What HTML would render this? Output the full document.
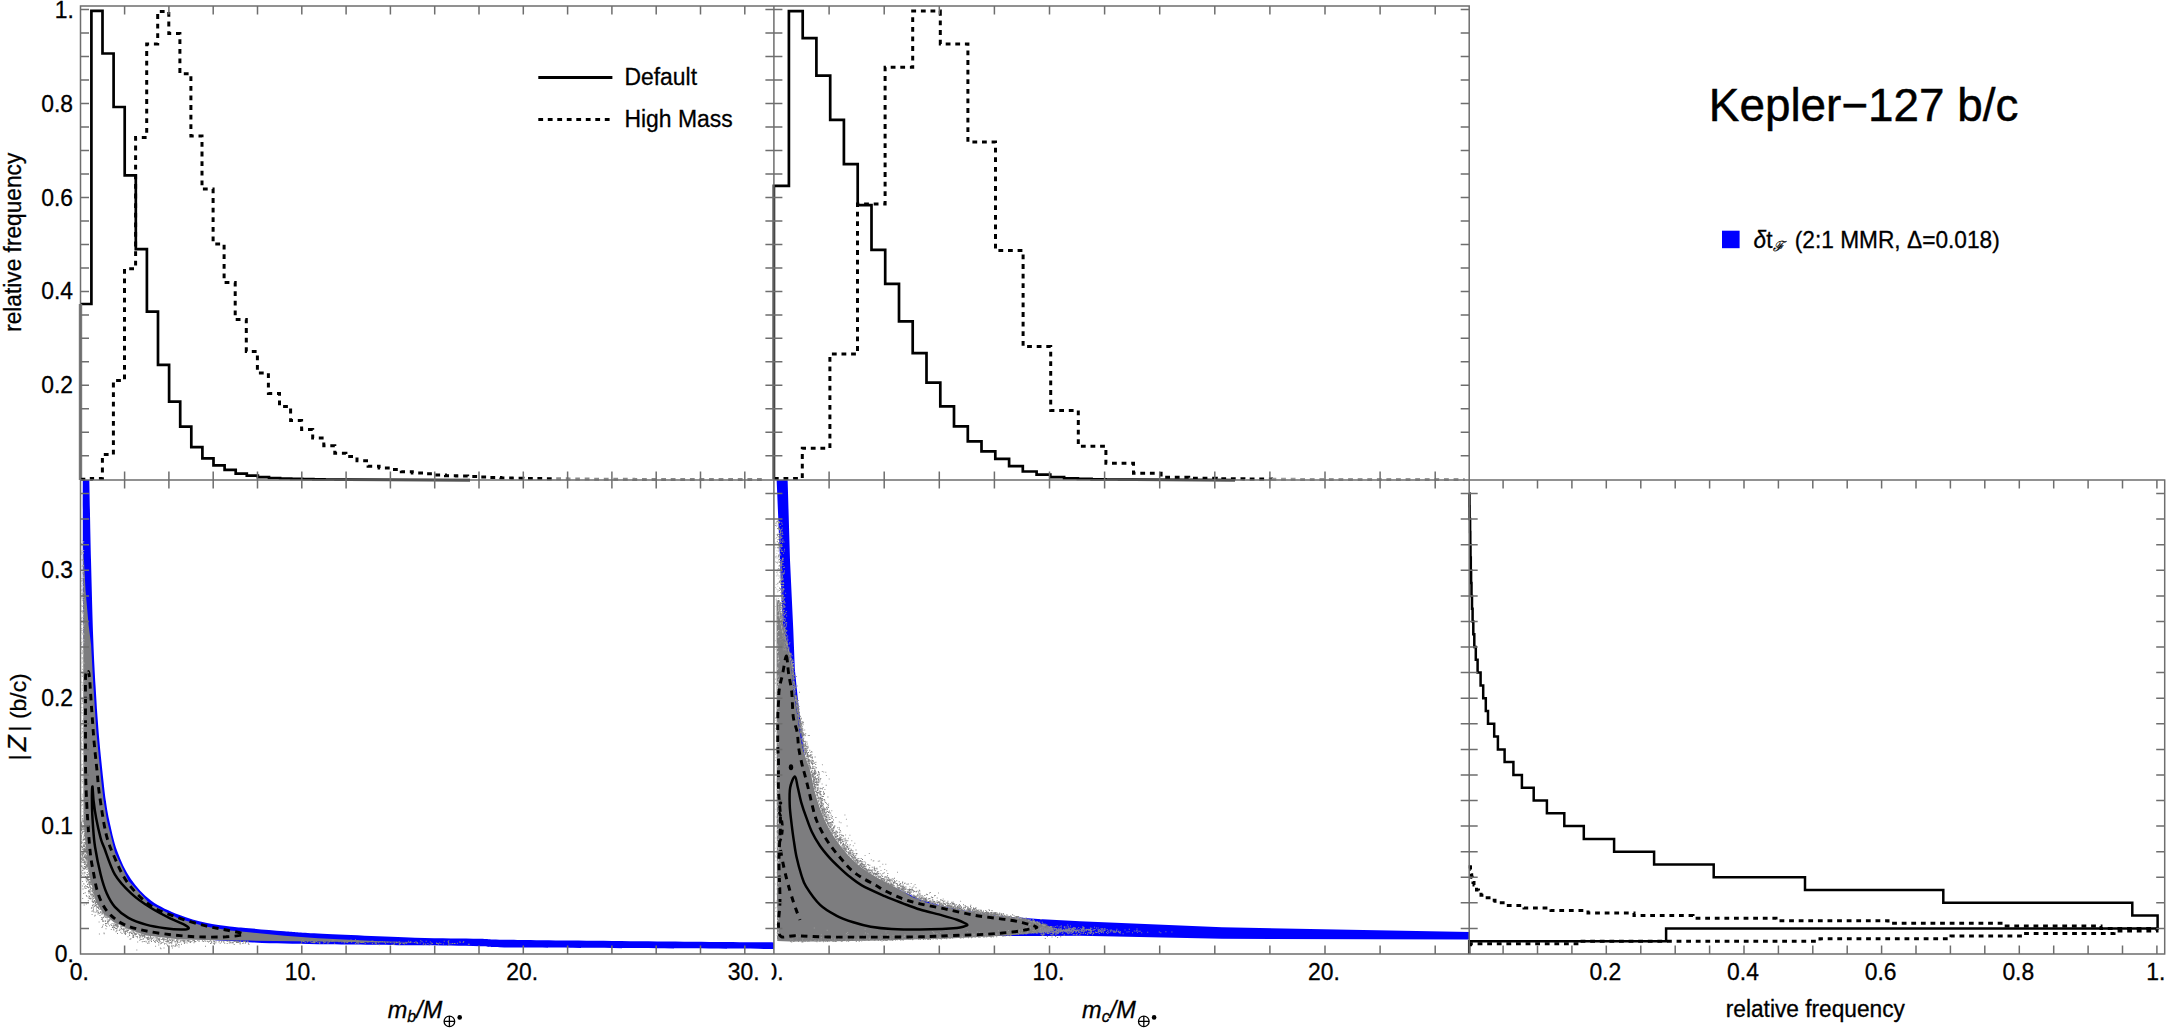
<!DOCTYPE html>
<html><head><meta charset="utf-8"><title>Kepler-127 b/c</title>
<style>html,body{margin:0;padding:0;background:#fff;}body{width:2169px;height:1031px;overflow:hidden;font-family:"Liberation Sans",sans-serif;}svg{display:block;}</style>
</head><body>
<svg width="2169" height="1031" viewBox="0 0 2169 1031" font-family="'Liberation Sans', sans-serif" fill="#000"><style>text{stroke:#000;stroke-width:0.3px}</style>
<defs>
<clipPath id="c1"><rect x="80.5" y="480.1" width="693.4" height="473.9"/></clipPath>
<clipPath id="c2"><rect x="773.9" y="480.1" width="695.3000000000001" height="473.9"/></clipPath>
<clipPath id="c0"><rect x="771.6999999999999" y="940" width="80" height="60"/></clipPath>
</defs>
<g clip-path="url(#c1)">
<path d="M89.3 479C89.6 492.5 90.3 533.2 91 560C91.7 586.8 92.5 618.9 93.3 640C94.1 661.1 94.7 671 95.6 686.5C96.5 702 97.4 717.5 98.7 733C100 748.5 102.1 768.4 103.3 779.5C104.5 790.6 104.7 793 105.7 799.8C106.7 806.5 107.3 811.4 109.2 820C111.1 828.6 113.7 841.4 117.3 851.2C120.9 861 125.2 870.8 130.9 879C136.6 887.2 143.3 894.7 151.3 900.7C159.3 906.7 169.9 911.1 179 914.8C188.1 918.5 197.3 920.8 205.8 922.8C214.3 924.8 222.8 925.6 230 926.5C237.2 927.4 239.9 927.4 249 928.2C258.1 929 272.9 930.4 284.4 931.3C295.9 932.2 296.2 932.5 318 933.6C339.8 934.7 388 936.9 415 937.7C442 938.6 462.3 938.3 480 938.7C497.7 939.1 471.8 939.3 521 939.9C570.2 940.5 732.7 942 775 942.4L775 949C732.7 948.8 570.2 948.1 521 947.6C471.8 947.1 497.7 946.6 480 946.2C462.3 945.8 442 945.6 415 945.3C388 945 345.7 944.7 318 944.2C290.3 943.7 273.7 943.6 249 942.2C224.3 940.8 189 939 170 936C151 933 144.2 929.2 135 924C125.8 918.8 120.2 912.3 115 905C109.8 897.7 107 890.8 104 880C101 869.2 98.9 856.7 97 840C95.1 823.3 94 800 92.5 780C91 760 89.3 740 88 720C86.7 700 85.3 680 84.5 660C83.7 640 83.3 630.2 83 600C82.7 569.8 82.8 499.2 82.8 479Z" fill="#0000ff"/>
<path d="M83.2 545 L85.5 590 L88.6 625 L91.1 645 L93.4 686.5 L96.5 733 L101.1 779.5 L103.5 799.8 L107 820.5 L115 852.4 L128.6 881 L149.8 903.8 L178 918.2 L205.3 926.5 L229.7 930.5 L249 932.2 L284.4 935.8 L318 938.2 L380 941.2 L415 942.3 L415 942.6 L380 942.6 L318 941.5 L249 940.6 L230 940.5 L180 939.5 L146 935.5 L128 929 L113.5 921.9 L103 913 L95.8 901.5 L89 874 L86 850 L83.5 820 L83.2 700 L83.2 545Z" fill="#7d7d7f"/>
<path d="M87.1 878.4h1v1h-1zM80.6 833.3h1v1h-1zM102.3 913.4h1v1h-1zM99.5 909.1h1v1h-1zM82.9 826.8h1v1h-1zM84.3 836.3h1v1h-1zM93.5 895.5h1v1h-1zM85.7 860.1h1v1h-1zM114.0 926.9h1v1h-1zM91.7 890.8h1v1h-1zM175.0 945.4h1v1h-1zM86.8 871.9h1v1h-1zM83.5 846.0h1v1h-1zM147.0 937.6h1v1h-1zM82.1 852.8h1v1h-1zM89.7 886.7h1v1h-1zM103.9 915.2h1v1h-1zM86.4 856.9h1v1h-1zM123.3 929.6h1v1h-1zM109.0 919.7h1v1h-1zM93.7 900.7h1v1h-1zM124.9 933.9h1v1h-1zM84.0 864.1h1v1h-1zM157.5 938.7h1v1h-1zM131.8 932.8h1v1h-1zM76.0 841.9h1v1h-1zM93.9 894.2h1v1h-1zM96.9 906.9h1v1h-1zM81.3 827.2h1v1h-1zM104.8 921.1h1v1h-1zM157.6 938.9h1v1h-1zM107.9 923.5h1v1h-1zM105.0 922.9h1v1h-1zM169.9 940.1h1v1h-1zM96.6 903.9h1v1h-1zM127.4 929.8h1v1h-1zM116.3 930.3h1v1h-1zM88.3 870.8h1v1h-1zM92.2 888.6h1v1h-1zM95.4 902.0h1v1h-1zM85.1 850.2h1v1h-1zM138.8 933.7h1v1h-1zM85.4 843.1h1v1h-1zM156.7 940.2h1v1h-1zM80.6 834.8h1v1h-1zM159.1 938.4h1v1h-1zM147.6 937.5h1v1h-1zM91.8 894.1h1v1h-1zM85.2 885.3h1v1h-1zM80.1 847.5h1v1h-1zM85.9 851.5h1v1h-1zM96.1 906.6h1v1h-1zM110.3 919.2h1v1h-1zM93.7 894.4h1v1h-1zM84.4 887.5h1v1h-1zM124.5 931.1h1v1h-1zM97.9 911.9h1v1h-1zM80.9 829.9h1v1h-1zM161.9 938.7h1v1h-1zM141.8 941.2h1v1h-1zM91.6 890.0h1v1h-1zM116.6 924.5h1v1h-1zM82.3 831.3h1v1h-1zM85.0 849.1h1v1h-1zM90.6 880.6h1v1h-1zM85.7 847.1h1v1h-1zM84.5 838.2h1v1h-1zM157.5 937.4h1v1h-1zM113.1 923.4h1v1h-1zM88.9 882.3h1v1h-1zM87.1 885.9h1v1h-1zM178.2 943.9h1v1h-1zM95.1 903.1h1v1h-1zM84.9 838.3h1v1h-1zM90.2 881.1h1v1h-1zM79.6 849.4h1v1h-1zM79.9 824.5h1v1h-1zM84.4 846.3h1v1h-1zM101.3 917.0h1v1h-1zM176.1 939.7h1v1h-1zM155.5 937.5h1v1h-1zM89.3 885.8h1v1h-1zM85.4 849.9h1v1h-1zM139.5 937.6h1v1h-1zM89.2 879.0h1v1h-1zM176.6 945.3h1v1h-1zM153.5 938.6h1v1h-1zM132.3 936.8h1v1h-1zM84.2 860.9h1v1h-1zM83.6 825.2h1v1h-1zM83.4 825.0h1v1h-1zM125.2 930.5h1v1h-1zM171.4 946.1h1v1h-1zM177.6 941.8h1v1h-1zM171.8 940.1h1v1h-1zM85.5 860.7h1v1h-1zM85.3 855.3h1v1h-1zM161.7 941.9h1v1h-1zM151.0 941.0h1v1h-1zM144.2 935.5h1v1h-1zM80.8 835.5h1v1h-1zM139.3 939.8h1v1h-1zM135.3 933.9h1v1h-1zM142.5 934.6h1v1h-1zM87.5 879.9h1v1h-1zM84.7 892.3h1v1h-1zM88.3 892.5h1v1h-1zM84.3 850.6h1v1h-1zM81.1 843.1h1v1h-1zM143.5 941.0h1v1h-1zM81.3 846.5h1v1h-1zM117.0 933.0h1v1h-1zM89.4 882.8h1v1h-1zM83.2 822.6h1v1h-1zM174.5 941.3h1v1h-1zM167.8 941.4h1v1h-1zM90.4 897.9h1v1h-1zM82.4 858.3h1v1h-1zM87.2 865.1h1v1h-1zM108.3 920.7h1v1h-1zM86.5 866.5h1v1h-1zM163.9 938.5h1v1h-1zM87.0 884.0h1v1h-1zM162.8 938.7h1v1h-1zM90.7 895.4h1v1h-1zM100.9 913.4h1v1h-1zM98.7 913.0h1v1h-1zM85.9 852.8h1v1h-1zM82.9 820.8h1v1h-1zM95.4 904.6h1v1h-1zM130.9 933.0h1v1h-1zM100.4 910.9h1v1h-1zM105.4 915.5h1v1h-1zM105.3 917.0h1v1h-1zM86.8 864.5h1v1h-1zM95.4 911.8h1v1h-1zM106.2 916.4h1v1h-1zM87.8 900.3h1v1h-1zM110.9 925.0h1v1h-1zM126.3 928.3h1v1h-1zM91.8 901.0h1v1h-1zM169.5 939.1h1v1h-1zM124.9 933.9h1v1h-1zM82.4 867.1h1v1h-1zM102.3 920.4h1v1h-1zM83.3 844.7h1v1h-1zM84.1 841.9h1v1h-1zM87.2 863.0h1v1h-1zM81.7 833.3h1v1h-1zM161.0 942.5h1v1h-1zM84.8 847.7h1v1h-1zM80.8 846.0h1v1h-1zM158.8 939.4h1v1h-1zM171.5 939.0h1v1h-1zM83.2 893.1h1v1h-1zM150.0 936.8h1v1h-1zM82.2 849.2h1v1h-1zM88.9 880.8h1v1h-1zM84.4 855.3h1v1h-1zM78.9 823.9h1v1h-1zM105.1 915.6h1v1h-1zM90.0 879.1h1v1h-1zM114.8 923.9h1v1h-1zM177.3 939.3h1v1h-1zM141.9 935.7h1v1h-1zM87.9 867.5h1v1h-1zM83.6 827.1h1v1h-1zM82.8 843.4h1v1h-1zM89.0 896.1h1v1h-1zM84.7 866.6h1v1h-1zM81.9 847.0h1v1h-1zM126.7 930.8h1v1h-1zM80.0 836.4h1v1h-1zM92.5 895.8h1v1h-1zM80.1 833.3h1v1h-1zM144.1 936.7h1v1h-1zM84.0 835.0h1v1h-1zM155.4 937.6h1v1h-1zM93.3 900.9h1v1h-1zM166.5 941.6h1v1h-1zM85.4 868.2h1v1h-1zM84.6 863.0h1v1h-1zM84.6 839.6h1v1h-1zM85.8 856.2h1v1h-1zM87.5 876.1h1v1h-1zM83.4 872.4h1v1h-1zM98.4 908.3h1v1h-1zM81.0 823.5h1v1h-1zM82.4 865.4h1v1h-1zM104.7 915.2h1v1h-1zM78.7 854.8h1v1h-1zM83.8 839.1h1v1h-1zM147.3 939.3h1v1h-1zM150.3 937.7h1v1h-1zM87.9 891.0h1v1h-1zM176.8 939.3h1v1h-1zM88.2 881.6h1v1h-1zM115.2 927.9h1v1h-1zM92.8 892.0h1v1h-1zM84.5 843.3h1v1h-1zM84.4 832.7h1v1h-1zM83.3 849.4h1v1h-1zM81.0 835.4h1v1h-1zM120.3 931.7h1v1h-1zM88.4 870.4h1v1h-1zM93.0 902.0h1v1h-1zM83.4 848.4h1v1h-1zM173.1 939.6h1v1h-1zM174.8 941.3h1v1h-1zM173.8 939.5h1v1h-1zM89.2 875.2h1v1h-1zM92.3 887.8h1v1h-1zM95.2 904.9h1v1h-1zM100.0 908.3h1v1h-1zM83.4 820.9h1v1h-1zM91.8 891.3h1v1h-1zM81.3 827.7h1v1h-1zM87.0 861.6h1v1h-1zM106.2 923.0h1v1h-1zM120.3 926.4h1v1h-1zM129.4 932.1h1v1h-1zM87.8 878.7h1v1h-1zM176.9 942.4h1v1h-1zM116.5 928.3h1v1h-1zM80.5 828.1h1v1h-1zM113.2 928.6h1v1h-1zM133.0 931.6h1v1h-1zM100.4 912.1h1v1h-1zM97.3 909.9h1v1h-1zM148.4 941.1h1v1h-1zM107.0 921.7h1v1h-1zM125.1 931.2h1v1h-1zM85.6 861.3h1v1h-1zM91.2 884.2h1v1h-1zM82.8 838.9h1v1h-1zM114.3 926.4h1v1h-1zM115.0 924.5h1v1h-1zM80.0 820.9h1v1h-1zM144.0 934.8h1v1h-1zM99.5 915.0h1v1h-1zM118.8 930.1h1v1h-1zM85.7 865.3h1v1h-1zM84.1 833.4h1v1h-1zM81.4 857.4h1v1h-1zM133.0 935.0h1v1h-1zM91.9 888.1h1v1h-1zM95.6 905.6h1v1h-1zM111.9 927.0h1v1h-1zM117.6 925.8h1v1h-1zM87.0 865.5h1v1h-1zM134.4 932.9h1v1h-1zM79.6 822.6h1v1h-1zM83.8 830.9h1v1h-1zM124.1 932.7h1v1h-1zM123.2 927.8h1v1h-1zM92.8 904.3h1v1h-1zM91.9 905.2h1v1h-1zM81.9 856.2h1v1h-1zM176.0 939.6h1v1h-1zM95.5 901.3h1v1h-1zM147.5 939.3h1v1h-1zM87.5 868.1h1v1h-1zM84.8 857.8h1v1h-1zM108.7 918.9h1v1h-1zM77.3 846.0h1v1h-1zM84.2 843.8h1v1h-1zM147.1 942.8h1v1h-1zM128.0 929.4h1v1h-1zM84.3 861.7h1v1h-1zM81.5 824.6h1v1h-1zM79.8 821.0h1v1h-1zM88.8 873.9h1v1h-1zM84.0 845.3h1v1h-1zM151.2 938.6h1v1h-1zM83.5 820.3h1v1h-1zM78.8 842.0h1v1h-1zM166.7 939.6h1v1h-1zM81.6 872.6h1v1h-1zM82.5 888.5h1v1h-1zM105.3 925.1h1v1h-1zM89.1 884.7h1v1h-1zM83.0 828.7h1v1h-1zM83.6 838.3h1v1h-1zM168.2 940.5h1v1h-1zM87.4 864.6h1v1h-1zM82.5 854.4h1v1h-1zM85.5 888.0h1v1h-1zM146.3 937.5h1v1h-1zM113.4 929.6h1v1h-1zM102.1 917.7h1v1h-1zM129.1 935.0h1v1h-1zM93.8 900.3h1v1h-1zM135.9 933.7h1v1h-1zM82.0 828.9h1v1h-1zM166.6 940.6h1v1h-1zM88.1 881.8h1v1h-1zM88.3 873.2h1v1h-1zM78.8 867.6h1v1h-1zM119.9 926.5h1v1h-1zM89.0 891.0h1v1h-1zM84.8 850.0h1v1h-1zM163.0 939.5h1v1h-1zM98.1 907.8h1v1h-1zM178.5 946.6h1v1h-1zM94.0 900.0h1v1h-1zM83.1 836.4h1v1h-1zM88.6 881.4h1v1h-1zM86.7 866.3h1v1h-1zM104.8 920.2h1v1h-1zM90.2 894.1h1v1h-1zM90.6 894.2h1v1h-1zM90.1 880.3h1v1h-1zM82.9 831.2h1v1h-1zM76.6 843.2h1v1h-1zM96.0 910.5h1v1h-1zM82.2 859.2h1v1h-1zM88.3 868.4h1v1h-1zM91.8 899.8h1v1h-1zM171.3 942.5h1v1h-1zM78.2 824.4h1v1h-1zM82.2 825.9h1v1h-1zM91.1 907.2h1v1h-1zM107.8 921.5h1v1h-1zM167.0 938.0h1v1h-1zM148.3 941.4h1v1h-1zM80.7 865.3h1v1h-1zM82.8 839.7h1v1h-1zM123.2 930.4h1v1h-1zM169.5 939.1h1v1h-1zM136.9 937.3h1v1h-1zM94.8 901.2h1v1h-1zM141.3 934.1h1v1h-1zM83.2 862.1h1v1h-1zM86.8 874.8h1v1h-1zM85.4 842.9h1v1h-1zM125.2 933.0h1v1h-1zM81.4 840.4h1v1h-1zM108.3 919.8h1v1h-1zM91.9 889.1h1v1h-1zM79.1 822.2h1v1h-1zM80.7 874.9h1v1h-1zM117.7 926.3h1v1h-1zM159.0 939.5h1v1h-1zM87.4 864.2h1v1h-1zM172.9 939.5h1v1h-1zM81.0 824.1h1v1h-1zM98.0 908.1h1v1h-1zM84.9 866.3h1v1h-1zM121.4 928.2h1v1h-1zM82.9 826.2h1v1h-1zM86.1 881.3h1v1h-1zM84.2 855.7h1v1h-1zM143.9 935.0h1v1h-1zM82.8 857.2h1v1h-1zM174.3 941.2h1v1h-1zM81.6 862.0h1v1h-1zM87.0 859.6h1v1h-1zM171.1 941.3h1v1h-1zM98.4 907.4h1v1h-1zM91.8 894.5h1v1h-1zM121.2 927.7h1v1h-1zM92.3 890.0h1v1h-1zM85.2 858.3h1v1h-1zM84.0 829.3h1v1h-1zM78.7 831.2h1v1h-1zM158.7 941.5h1v1h-1zM130.4 938.2h1v1h-1zM90.0 878.7h1v1h-1zM81.3 853.8h1v1h-1zM81.8 825.9h1v1h-1zM120.8 928.1h1v1h-1zM88.1 879.6h1v1h-1zM83.3 850.6h1v1h-1zM91.1 882.5h1v1h-1zM171.3 944.8h1v1h-1zM80.8 857.8h1v1h-1zM88.7 884.1h1v1h-1zM89.1 898.0h1v1h-1zM81.0 829.1h1v1h-1zM165.6 938.4h1v1h-1zM81.8 855.1h1v1h-1zM78.5 825.9h1v1h-1zM91.5 893.4h1v1h-1zM78.8 827.7h1v1h-1zM77.0 826.8h1v1h-1zM85.1 866.3h1v1h-1zM134.7 934.1h1v1h-1zM86.5 868.9h1v1h-1zM172.2 940.6h1v1h-1zM129.8 931.5h1v1h-1zM89.6 876.4h1v1h-1zM136.9 932.5h1v1h-1zM164.5 943.1h1v1h-1zM77.8 824.8h1v1h-1zM79.1 862.8h1v1h-1zM171.6 939.8h1v1h-1zM92.6 888.6h1v1h-1zM95.9 908.5h1v1h-1zM166.9 940.5h1v1h-1zM132.2 936.4h1v1h-1zM148.3 936.4h1v1h-1zM85.6 879.5h1v1h-1zM86.0 877.9h1v1h-1zM80.2 834.5h1v1h-1zM86.6 855.3h1v1h-1zM81.9 831.8h1v1h-1zM81.2 826.3h1v1h-1zM176.4 940.1h1v1h-1zM158.9 939.7h1v1h-1zM84.6 835.1h1v1h-1zM79.6 837.7h1v1h-1zM95.2 899.2h1v1h-1zM83.4 862.3h1v1h-1zM122.4 928.9h1v1h-1zM134.7 934.5h1v1h-1zM81.2 842.0h1v1h-1zM151.5 937.3h1v1h-1zM87.9 887.3h1v1h-1zM133.7 931.9h1v1h-1zM85.3 864.1h1v1h-1zM82.5 847.7h1v1h-1zM87.1 878.9h1v1h-1zM89.1 891.3h1v1h-1zM87.2 861.4h1v1h-1zM143.8 941.1h1v1h-1zM76.5 839.0h1v1h-1zM94.8 905.1h1v1h-1zM164.0 943.6h1v1h-1zM83.6 827.3h1v1h-1zM84.8 854.1h1v1h-1zM174.4 945.7h1v1h-1zM88.2 887.1h1v1h-1zM155.8 939.2h1v1h-1zM140.4 934.4h1v1h-1zM169.9 941.9h1v1h-1zM113.4 925.0h1v1h-1zM85.8 859.0h1v1h-1zM85.4 856.6h1v1h-1zM84.0 866.0h1v1h-1zM83.9 856.7h1v1h-1zM81.3 822.2h1v1h-1zM81.9 853.7h1v1h-1zM87.7 876.1h1v1h-1zM100.9 918.8h1v1h-1zM81.7 831.5h1v1h-1zM103.6 916.2h1v1h-1zM117.0 925.5h1v1h-1zM126.4 929.4h1v1h-1zM93.0 892.8h1v1h-1zM171.3 941.4h1v1h-1zM86.6 876.4h1v1h-1zM92.6 894.2h1v1h-1zM155.4 939.9h1v1h-1zM86.6 855.3h1v1h-1zM132.3 930.6h1v1h-1zM162.4 937.8h1v1h-1zM92.8 895.5h1v1h-1zM158.8 940.2h1v1h-1zM95.6 901.7h1v1h-1zM104.8 915.2h1v1h-1zM117.5 925.2h1v1h-1zM114.7 923.4h1v1h-1zM90.1 886.4h1v1h-1zM88.5 870.6h1v1h-1zM100.4 911.5h1v1h-1zM98.0 906.5h1v1h-1zM144.5 937.3h1v1h-1zM84.9 842.7h1v1h-1zM169.4 942.1h1v1h-1zM83.7 829.6h1v1h-1zM166.2 943.5h1v1h-1zM112.6 926.8h1v1h-1zM148.4 939.0h1v1h-1zM82.2 860.3h1v1h-1zM89.9 892.6h1v1h-1zM81.1 853.4h1v1h-1zM83.8 859.4h1v1h-1zM90.1 888.7h1v1h-1zM85.2 842.0h1v1h-1zM161.1 942.8h1v1h-1zM78.8 827.8h1v1h-1zM81.9 827.0h1v1h-1zM150.8 939.5h1v1h-1zM102.9 917.0h1v1h-1zM115.3 924.1h1v1h-1zM107.2 921.0h1v1h-1zM92.4 896.0h1v1h-1zM91.8 898.4h1v1h-1zM81.0 824.4h1v1h-1zM84.8 862.4h1v1h-1zM138.0 933.4h1v1h-1zM82.6 852.6h1v1h-1zM95.8 904.2h1v1h-1zM93.4 896.6h1v1h-1zM81.1 836.7h1v1h-1zM82.7 827.4h1v1h-1zM115.2 928.1h1v1h-1zM139.7 936.1h1v1h-1zM97.5 911.3h1v1h-1zM90.9 887.5h1v1h-1zM170.7 942.8h1v1h-1zM178.7 944.4h1v1h-1zM132.7 931.6h1v1h-1zM176.5 941.2h1v1h-1zM92.6 910.2h1v1h-1zM83.9 849.7h1v1h-1zM142.1 935.3h1v1h-1zM90.6 882.6h1v1h-1zM135.7 936.0h1v1h-1zM82.3 869.9h1v1h-1zM146.8 938.1h1v1h-1zM165.4 941.0h1v1h-1zM86.6 857.3h1v1h-1zM85.8 877.9h1v1h-1zM83.2 826.7h1v1h-1zM168.5 940.0h1v1h-1zM123.6 928.7h1v1h-1zM141.5 935.2h1v1h-1zM80.5 841.0h1v1h-1zM90.6 884.2h1v1h-1zM156.9 941.0h1v1h-1zM158.9 938.5h1v1h-1zM80.3 839.1h1v1h-1zM92.7 890.0h1v1h-1zM143.7 935.7h1v1h-1zM102.0 925.7h1v1h-1zM91.2 884.1h1v1h-1zM82.6 852.1h1v1h-1zM132.9 937.1h1v1h-1zM86.0 865.5h1v1h-1zM115.8 928.0h1v1h-1zM121.5 926.3h1v1h-1zM88.6 876.0h1v1h-1zM85.7 846.7h1v1h-1zM112.4 925.5h1v1h-1zM161.2 939.0h1v1h-1zM84.8 843.7h1v1h-1zM79.0 824.4h1v1h-1zM82.6 820.5h1v1h-1zM90.1 883.8h1v1h-1zM83.4 860.6h1v1h-1zM84.6 856.8h1v1h-1zM114.5 924.4h1v1h-1zM168.7 938.5h1v1h-1zM86.8 863.6h1v1h-1zM117.1 925.0h1v1h-1zM157.0 937.5h1v1h-1zM84.8 867.6h1v1h-1zM81.0 822.3h1v1h-1zM87.7 883.2h1v1h-1zM115.5 931.2h1v1h-1zM132.3 933.5h1v1h-1zM87.0 864.5h1v1h-1zM102.1 912.6h1v1h-1zM93.4 892.1h1v1h-1zM140.5 934.8h1v1h-1zM76.0 822.8h1v1h-1zM83.1 845.7h1v1h-1zM83.6 856.0h1v1h-1zM117.0 926.5h1v1h-1zM146.6 936.9h1v1h-1zM86.4 873.9h1v1h-1zM79.7 829.1h1v1h-1zM128.9 933.4h1v1h-1zM80.5 821.4h1v1h-1zM92.3 904.7h1v1h-1zM133.8 933.6h1v1h-1zM84.4 838.9h1v1h-1zM84.5 861.9h1v1h-1zM135.7 932.6h1v1h-1zM125.5 931.1h1v1h-1zM83.8 868.0h1v1h-1zM101.9 919.3h1v1h-1zM99.8 912.3h1v1h-1zM82.7 868.1h1v1h-1zM80.3 859.6h1v1h-1zM158.3 939.6h1v1h-1zM87.3 862.2h1v1h-1zM133.2 936.5h1v1h-1zM88.2 878.7h1v1h-1zM158.5 938.2h1v1h-1zM163.3 939.8h1v1h-1zM115.6 924.9h1v1h-1zM175.7 943.7h1v1h-1zM94.3 904.4h1v1h-1zM154.1 940.9h1v1h-1zM94.1 897.6h1v1h-1zM85.0 876.0h1v1h-1zM86.0 858.0h1v1h-1zM164.0 938.6h1v1h-1zM84.1 846.0h1v1h-1zM167.3 938.3h1v1h-1zM90.3 881.5h1v1h-1zM83.5 827.5h1v1h-1zM124.9 931.4h1v1h-1zM132.4 934.8h1v1h-1zM81.8 832.0h1v1h-1zM147.3 937.4h1v1h-1zM147.7 936.7h1v1h-1zM156.3 937.5h1v1h-1zM164.6 939.2h1v1h-1zM86.3 856.8h1v1h-1zM78.7 840.6h1v1h-1zM146.3 937.0h1v1h-1zM116.0 925.6h1v1h-1zM84.4 871.8h1v1h-1zM80.3 838.3h1v1h-1zM83.6 857.0h1v1h-1zM89.1 877.0h1v1h-1zM87.7 865.9h1v1h-1zM87.9 870.5h1v1h-1zM86.7 878.0h1v1h-1zM172.8 945.3h1v1h-1zM114.3 922.5h1v1h-1zM80.9 825.8h1v1h-1zM139.2 935.1h1v1h-1zM89.8 882.0h1v1h-1zM83.1 859.2h1v1h-1zM154.8 941.9h1v1h-1zM82.7 850.9h1v1h-1zM81.8 820.4h1v1h-1zM175.4 944.5h1v1h-1zM79.6 821.1h1v1h-1zM143.8 935.0h1v1h-1zM83.3 853.4h1v1h-1zM150.0 936.1h1v1h-1zM85.5 866.9h1v1h-1zM86.1 858.5h1v1h-1zM126.8 930.2h1v1h-1zM117.3 923.8h1v1h-1zM83.5 834.6h1v1h-1zM140.5 938.9h1v1h-1zM115.0 925.0h1v1h-1zM90.3 890.7h1v1h-1zM159.8 943.3h1v1h-1zM80.2 824.8h1v1h-1zM86.3 856.9h1v1h-1zM93.5 911.6h1v1h-1zM90.5 887.8h1v1h-1zM94.5 902.5h1v1h-1zM102.4 912.4h1v1h-1zM116.4 929.7h1v1h-1zM90.1 882.2h1v1h-1zM151.8 937.9h1v1h-1zM121.4 925.9h1v1h-1zM92.9 898.2h1v1h-1zM139.4 934.8h1v1h-1zM95.2 902.2h1v1h-1zM159.5 937.3h1v1h-1zM86.8 874.1h1v1h-1zM127.7 930.1h1v1h-1zM84.2 848.0h1v1h-1zM85.9 864.5h1v1h-1zM82.2 849.1h1v1h-1zM86.8 879.3h1v1h-1zM129.5 938.7h1v1h-1zM83.5 838.3h1v1h-1zM92.2 888.3h1v1h-1zM176.9 940.7h1v1h-1zM89.6 898.3h1v1h-1zM85.6 855.2h1v1h-1zM85.6 857.0h1v1h-1zM89.4 889.8h1v1h-1zM142.7 935.1h1v1h-1zM124.4 932.6h1v1h-1zM96.1 902.0h1v1h-1zM82.9 845.6h1v1h-1zM133.8 933.3h1v1h-1zM163.1 941.6h1v1h-1zM135.2 933.6h1v1h-1zM93.4 894.8h1v1h-1zM158.0 942.3h1v1h-1zM139.4 935.3h1v1h-1zM121.5 932.9h1v1h-1zM116.9 926.7h1v1h-1zM115.6 923.9h1v1h-1zM79.8 837.9h1v1h-1zM128.8 932.3h1v1h-1zM116.2 923.2h1v1h-1zM92.1 901.5h1v1h-1zM113.0 926.5h1v1h-1zM167.2 940.8h1v1h-1zM83.0 853.1h1v1h-1zM88.0 890.2h1v1h-1zM97.8 906.5h1v1h-1zM103.9 914.0h1v1h-1zM84.3 848.9h1v1h-1zM94.7 914.7h1v1h-1zM81.2 838.4h1v1h-1zM129.8 931.7h1v1h-1zM97.3 911.6h1v1h-1zM97.5 913.4h1v1h-1zM91.5 893.3h1v1h-1zM124.7 928.2h1v1h-1zM92.7 889.7h1v1h-1zM177.0 940.9h1v1h-1zM88.8 883.8h1v1h-1zM92.3 891.2h1v1h-1zM80.6 822.6h1v1h-1zM126.5 930.2h1v1h-1z" fill="#808080"/>
<path d="M90.7 882.8h1v1h-1zM132.9 936.0h1v1h-1zM168.7 943.1h1v1h-1zM144.4 935.8h1v1h-1zM92.0 889.8h1v1h-1zM139.3 936.9h1v1h-1zM145.4 940.7h1v1h-1zM102.8 920.5h1v1h-1zM81.0 861.2h1v1h-1zM117.1 925.3h1v1h-1zM147.3 938.9h1v1h-1zM81.7 873.4h1v1h-1zM98.6 921.6h1v1h-1zM82.1 885.4h1v1h-1zM153.3 937.1h1v1h-1zM81.2 866.1h1v1h-1zM94.1 895.6h1v1h-1zM131.1 930.6h1v1h-1zM88.3 870.2h1v1h-1zM92.6 907.6h1v1h-1zM87.9 897.6h1v1h-1zM84.0 886.3h1v1h-1zM167.1 939.5h1v1h-1zM149.1 937.8h1v1h-1zM163.1 938.3h1v1h-1zM149.5 939.7h1v1h-1zM116.3 924.5h1v1h-1zM171.4 938.6h1v1h-1zM120.5 925.3h1v1h-1zM82.4 845.8h1v1h-1zM86.4 861.9h1v1h-1zM79.4 847.8h1v1h-1zM162.8 938.6h1v1h-1zM160.1 941.3h1v1h-1zM111.6 923.0h1v1h-1zM159.9 947.4h1v1h-1zM141.6 936.5h1v1h-1zM124.7 931.8h1v1h-1zM102.2 912.4h1v1h-1zM158.2 944.5h1v1h-1zM105.3 915.6h1v1h-1zM80.5 845.3h1v1h-1zM92.7 910.4h1v1h-1zM82.8 846.1h1v1h-1zM91.4 910.8h1v1h-1zM155.5 936.7h1v1h-1zM79.4 821.5h1v1h-1zM102.4 921.1h1v1h-1zM120.4 929.3h1v1h-1zM88.5 895.6h1v1h-1zM171.9 947.5h1v1h-1zM115.3 927.8h1v1h-1zM75.8 825.8h1v1h-1zM167.0 944.8h1v1h-1zM82.1 880.9h1v1h-1zM97.3 905.7h1v1h-1zM160.5 948.2h1v1h-1zM114.5 925.0h1v1h-1zM86.4 881.3h1v1h-1zM92.8 906.4h1v1h-1zM101.5 911.7h1v1h-1zM90.1 898.3h1v1h-1zM82.2 897.9h1v1h-1zM84.5 872.8h1v1h-1zM148.5 942.7h1v1h-1zM83.6 869.1h1v1h-1zM91.6 913.9h1v1h-1zM142.5 935.9h1v1h-1zM87.9 879.5h1v1h-1zM106.4 923.0h1v1h-1zM116.9 924.0h1v1h-1zM130.7 932.1h1v1h-1zM159.4 939.2h1v1h-1zM88.3 873.7h1v1h-1zM77.8 821.6h1v1h-1zM103.5 932.6h1v1h-1zM119.2 928.8h1v1h-1zM103.7 933.2h1v1h-1zM110.8 929.0h1v1h-1zM106.3 925.9h1v1h-1zM123.4 929.5h1v1h-1zM85.9 903.5h1v1h-1zM136.9 936.0h1v1h-1zM81.4 826.8h1v1h-1zM137.2 941.6h1v1h-1zM86.8 886.8h1v1h-1zM148.1 937.8h1v1h-1zM79.3 867.2h1v1h-1zM83.6 874.6h1v1h-1zM91.7 897.0h1v1h-1zM117.2 926.1h1v1h-1zM106.7 917.4h1v1h-1zM74.8 827.8h1v1h-1zM102.8 924.2h1v1h-1zM165.4 938.9h1v1h-1zM92.3 888.8h1v1h-1zM98.9 933.4h1v1h-1zM90.9 907.8h1v1h-1zM85.9 895.1h1v1h-1zM81.0 858.7h1v1h-1zM85.1 847.2h1v1h-1zM124.9 927.6h1v1h-1zM82.4 842.0h1v1h-1zM156.7 937.4h1v1h-1zM74.4 844.0h1v1h-1zM86.4 863.4h1v1h-1zM132.9 931.7h1v1h-1zM139.4 935.3h1v1h-1zM127.5 936.2h1v1h-1zM75.9 835.8h1v1h-1zM115.2 924.9h1v1h-1zM167.1 945.6h1v1h-1zM77.2 866.7h1v1h-1zM81.2 822.2h1v1h-1zM76.2 823.3h1v1h-1zM74.2 835.1h1v1h-1zM88.8 875.6h1v1h-1zM154.7 940.7h1v1h-1zM93.0 908.8h1v1h-1zM106.8 919.4h1v1h-1zM93.2 898.1h1v1h-1zM142.8 938.1h1v1h-1zM85.7 886.0h1v1h-1zM86.4 896.0h1v1h-1zM88.9 889.4h1v1h-1zM136.3 949.4h1v1h-1zM106.8 917.1h1v1h-1zM175.1 941.3h1v1h-1zM127.1 931.8h1v1h-1zM109.0 925.3h1v1h-1zM175.4 943.6h1v1h-1zM81.2 877.0h1v1h-1zM89.4 897.2h1v1h-1zM123.2 931.5h1v1h-1zM105.5 928.3h1v1h-1zM80.9 871.5h1v1h-1zM82.9 820.4h1v1h-1zM105.2 924.5h1v1h-1zM147.0 937.2h1v1h-1zM150.1 937.3h1v1h-1zM145.7 941.6h1v1h-1zM81.7 869.7h1v1h-1zM153.0 940.1h1v1h-1zM163.5 947.6h1v1h-1zM83.5 883.6h1v1h-1zM142.5 939.0h1v1h-1zM86.7 855.8h1v1h-1zM71.4 863.8h1v1h-1zM110.5 923.9h1v1h-1zM79.9 857.8h1v1h-1zM87.8 865.5h1v1h-1zM83.7 904.4h1v1h-1zM80.6 836.0h1v1h-1zM76.2 863.0h1v1h-1zM101.5 926.9h1v1h-1zM94.2 915.5h1v1h-1zM94.1 906.0h1v1h-1zM84.2 854.7h1v1h-1zM84.3 852.6h1v1h-1zM102.8 921.1h1v1h-1zM89.5 892.4h1v1h-1zM83.7 828.0h1v1h-1zM179.2 941.8h1v1h-1zM115.7 925.6h1v1h-1zM140.5 939.1h1v1h-1zM83.2 883.3h1v1h-1zM99.9 911.5h1v1h-1zM178.3 939.5h1v1h-1zM155.1 945.7h1v1h-1zM87.3 866.8h1v1h-1z" fill="#909090"/>
<path d="M233.7 944.0h1v1h-1zM232.9 942.3h1v1h-1zM236.5 941.7h1v1h-1zM182.6 939.8h1v1h-1zM193.9 940.1h1v1h-1zM183.5 940.2h1v1h-1zM218.4 941.5h1v1h-1zM245.3 941.9h1v1h-1zM242.8 942.6h1v1h-1zM207.4 940.9h1v1h-1zM188.2 940.9h1v1h-1zM218.9 940.6h1v1h-1zM224.2 942.7h1v1h-1zM207.1 940.7h1v1h-1zM210.9 942.4h1v1h-1zM248.4 944.1h1v1h-1zM195.3 941.0h1v1h-1zM204.3 940.3h1v1h-1zM242.3 943.1h1v1h-1zM183.2 941.3h1v1h-1zM234.3 941.1h1v1h-1zM248.0 942.8h1v1h-1zM183.8 941.2h1v1h-1zM244.8 942.7h1v1h-1zM226.7 941.1h1v1h-1zM232.3 942.6h1v1h-1zM187.3 940.2h1v1h-1zM188.5 940.8h1v1h-1zM213.2 940.7h1v1h-1zM189.9 940.7h1v1h-1zM226.7 943.0h1v1h-1zM193.5 940.0h1v1h-1zM182.5 940.6h1v1h-1zM244.4 941.1h1v1h-1zM239.8 941.2h1v1h-1zM210.8 940.7h1v1h-1zM186.6 942.4h1v1h-1zM223.3 941.7h1v1h-1zM211.2 941.7h1v1h-1zM212.9 942.7h1v1h-1zM223.3 941.1h1v1h-1zM183.9 940.5h1v1h-1zM229.2 941.3h1v1h-1zM240.1 940.8h1v1h-1zM198.4 940.7h1v1h-1zM198.7 940.4h1v1h-1zM237.9 941.0h1v1h-1zM213.9 941.0h1v1h-1zM201.9 940.6h1v1h-1zM247.5 941.0h1v1h-1zM183.9 941.5h1v1h-1zM194.5 941.2h1v1h-1zM212.9 940.4h1v1h-1zM193.9 941.0h1v1h-1zM205.0 945.7h1v1h-1zM243.8 940.9h1v1h-1zM186.7 940.5h1v1h-1zM183.9 942.9h1v1h-1zM230.1 941.7h1v1h-1zM181.0 943.8h1v1h-1zM235.7 941.0h1v1h-1zM180.1 940.2h1v1h-1zM237.4 941.6h1v1h-1zM210.0 940.3h1v1h-1zM242.9 941.0h1v1h-1zM189.5 941.7h1v1h-1zM192.4 940.1h1v1h-1zM193.5 942.3h1v1h-1zM185.4 941.5h1v1h-1zM214.2 941.3h1v1h-1zM198.9 940.5h1v1h-1zM228.8 942.6h1v1h-1zM236.0 941.5h1v1h-1zM184.5 940.1h1v1h-1zM230.5 942.6h1v1h-1zM183.8 941.0h1v1h-1zM235.9 942.1h1v1h-1zM239.6 943.2h1v1h-1zM213.9 943.7h1v1h-1zM212.9 940.5h1v1h-1zM240.2 940.7h1v1h-1zM237.4 941.6h1v1h-1zM205.3 940.8h1v1h-1zM221.0 941.6h1v1h-1zM180.3 941.2h1v1h-1zM215.6 940.4h1v1h-1zM188.3 940.3h1v1h-1zM239.7 943.4h1v1h-1zM202.1 940.3h1v1h-1zM231.8 942.0h1v1h-1zM184.2 942.4h1v1h-1zM214.1 943.0h1v1h-1zM215.4 942.2h1v1h-1zM181.4 939.9h1v1h-1zM246.8 940.8h1v1h-1zM187.1 940.6h1v1h-1zM197.3 940.0h1v1h-1zM186.6 940.0h1v1h-1zM228.2 940.6h1v1h-1zM221.4 940.6h1v1h-1zM219.7 942.8h1v1h-1zM187.1 940.0h1v1h-1zM240.0 940.7h1v1h-1zM188.5 940.1h1v1h-1zM214.0 941.5h1v1h-1zM188.4 939.7h1v1h-1zM208.0 941.5h1v1h-1zM239.4 942.2h1v1h-1zM190.1 942.1h1v1h-1zM191.3 940.9h1v1h-1zM237.0 942.0h1v1h-1zM209.0 940.7h1v1h-1zM237.9 942.1h1v1h-1zM244.9 940.8h1v1h-1zM233.6 941.1h1v1h-1zM203.1 941.0h1v1h-1zM210.0 943.0h1v1h-1zM243.0 940.9h1v1h-1zM236.2 940.8h1v1h-1zM215.7 940.6h1v1h-1z" fill="#888888"/>
<path d="M83.4 811.0h1v1h-1zM81.6 662.4h1v1h-1zM82.6 645.7h1v1h-1zM82.3 560.1h1v1h-1zM82.1 686.4h1v1h-1zM81.1 580.4h1v1h-1zM83.4 765.2h1v1h-1zM83.3 723.6h1v1h-1zM83.0 796.5h1v1h-1zM83.2 550.0h1v1h-1zM82.6 617.1h1v1h-1zM82.7 619.3h1v1h-1zM82.4 808.1h1v1h-1zM82.6 612.7h1v1h-1zM82.3 665.8h1v1h-1zM83.4 623.4h1v1h-1zM81.8 727.8h1v1h-1zM81.3 712.3h1v1h-1zM83.4 689.0h1v1h-1zM81.7 675.3h1v1h-1zM82.3 583.0h1v1h-1zM81.3 578.1h1v1h-1zM81.7 657.9h1v1h-1zM81.7 610.6h1v1h-1zM81.2 698.4h1v1h-1zM83.1 716.9h1v1h-1zM82.4 728.6h1v1h-1zM81.5 746.0h1v1h-1zM82.2 698.9h1v1h-1zM82.5 676.0h1v1h-1zM81.8 610.3h1v1h-1zM81.6 688.6h1v1h-1zM82.0 709.8h1v1h-1zM81.0 642.3h1v1h-1zM83.2 609.2h1v1h-1zM82.4 682.5h1v1h-1zM81.7 826.4h1v1h-1zM81.7 763.9h1v1h-1zM81.4 559.4h1v1h-1zM83.2 667.6h1v1h-1zM81.2 652.5h1v1h-1zM82.1 753.3h1v1h-1zM81.3 605.3h1v1h-1zM83.4 754.2h1v1h-1zM81.4 637.7h1v1h-1zM81.9 735.8h1v1h-1zM82.5 786.5h1v1h-1zM83.1 690.2h1v1h-1zM82.8 755.6h1v1h-1zM82.9 677.8h1v1h-1zM83.0 745.5h1v1h-1zM83.3 576.9h1v1h-1zM83.2 541.3h1v1h-1zM82.9 709.9h1v1h-1zM82.2 819.2h1v1h-1zM82.4 661.2h1v1h-1zM83.0 793.1h1v1h-1zM82.5 650.1h1v1h-1zM82.1 672.8h1v1h-1zM82.8 624.9h1v1h-1zM82.0 701.1h1v1h-1zM82.0 633.4h1v1h-1zM83.0 786.4h1v1h-1zM82.2 668.8h1v1h-1zM81.5 628.2h1v1h-1zM81.4 706.9h1v1h-1zM82.5 565.5h1v1h-1zM83.3 633.9h1v1h-1zM83.1 783.1h1v1h-1zM83.4 599.2h1v1h-1zM82.1 804.1h1v1h-1zM81.0 553.8h1v1h-1zM82.4 684.2h1v1h-1zM83.3 764.3h1v1h-1zM82.3 829.5h1v1h-1zM82.3 690.0h1v1h-1zM82.7 653.0h1v1h-1zM81.9 712.5h1v1h-1zM81.9 814.9h1v1h-1zM82.7 692.3h1v1h-1zM81.2 648.6h1v1h-1zM82.0 702.8h1v1h-1zM82.4 795.2h1v1h-1zM83.4 681.1h1v1h-1zM82.1 721.1h1v1h-1zM83.5 639.6h1v1h-1zM82.3 776.6h1v1h-1zM81.4 632.2h1v1h-1zM83.4 779.5h1v1h-1zM82.3 572.0h1v1h-1zM83.2 740.1h1v1h-1zM83.1 827.2h1v1h-1zM83.2 662.1h1v1h-1zM81.4 624.1h1v1h-1zM82.3 686.4h1v1h-1zM81.5 592.9h1v1h-1zM82.6 714.9h1v1h-1zM81.9 828.2h1v1h-1zM82.6 552.3h1v1h-1zM82.0 768.4h1v1h-1zM81.8 740.3h1v1h-1zM81.0 628.3h1v1h-1zM83.1 710.0h1v1h-1zM82.7 597.0h1v1h-1zM82.2 700.4h1v1h-1zM81.7 727.6h1v1h-1zM82.3 829.2h1v1h-1zM82.4 659.2h1v1h-1zM81.3 585.5h1v1h-1zM82.9 570.9h1v1h-1zM81.3 589.5h1v1h-1zM82.3 778.7h1v1h-1zM82.5 773.9h1v1h-1zM81.2 543.6h1v1h-1zM82.9 633.6h1v1h-1zM82.8 642.6h1v1h-1zM81.4 617.3h1v1h-1zM81.2 802.1h1v1h-1zM82.5 641.2h1v1h-1zM82.1 651.8h1v1h-1zM81.1 798.3h1v1h-1zM82.5 818.3h1v1h-1zM82.1 719.9h1v1h-1zM81.6 552.8h1v1h-1zM83.3 787.9h1v1h-1zM81.8 800.7h1v1h-1zM83.0 628.1h1v1h-1zM82.5 818.4h1v1h-1zM82.2 815.4h1v1h-1zM81.6 653.0h1v1h-1zM82.8 604.2h1v1h-1zM81.8 793.8h1v1h-1zM82.2 769.9h1v1h-1zM81.6 590.3h1v1h-1zM81.9 594.1h1v1h-1zM83.4 624.3h1v1h-1zM82.4 573.3h1v1h-1zM82.3 651.8h1v1h-1zM82.0 559.0h1v1h-1zM81.3 779.5h1v1h-1zM81.9 611.0h1v1h-1zM81.5 622.2h1v1h-1zM81.6 550.1h1v1h-1zM82.7 639.0h1v1h-1zM81.4 744.7h1v1h-1zM81.2 618.2h1v1h-1zM83.1 577.1h1v1h-1zM82.1 782.5h1v1h-1zM83.0 586.2h1v1h-1zM81.9 749.5h1v1h-1zM81.9 817.9h1v1h-1zM81.5 815.8h1v1h-1zM82.3 605.9h1v1h-1zM82.1 578.0h1v1h-1zM82.8 615.6h1v1h-1zM83.2 710.4h1v1h-1zM81.9 611.4h1v1h-1zM82.5 601.6h1v1h-1zM83.2 575.6h1v1h-1zM82.3 697.4h1v1h-1zM81.7 763.8h1v1h-1zM82.0 730.7h1v1h-1zM82.4 630.1h1v1h-1zM82.0 565.0h1v1h-1zM81.4 786.8h1v1h-1zM81.8 732.2h1v1h-1zM81.3 703.0h1v1h-1zM81.9 685.1h1v1h-1zM81.7 559.1h1v1h-1zM81.8 605.7h1v1h-1zM81.3 747.8h1v1h-1zM81.7 657.0h1v1h-1zM83.3 764.7h1v1h-1zM83.2 789.8h1v1h-1zM81.3 620.2h1v1h-1zM81.1 737.1h1v1h-1zM82.7 641.9h1v1h-1zM82.0 731.1h1v1h-1zM82.7 612.0h1v1h-1zM83.1 642.1h1v1h-1zM82.6 592.7h1v1h-1zM81.3 804.7h1v1h-1zM82.8 746.7h1v1h-1zM81.1 551.6h1v1h-1zM81.4 597.4h1v1h-1zM81.8 650.4h1v1h-1zM81.1 630.2h1v1h-1zM82.6 592.1h1v1h-1zM83.1 705.3h1v1h-1zM82.8 613.9h1v1h-1zM82.1 738.5h1v1h-1zM81.9 540.3h1v1h-1zM83.1 765.2h1v1h-1zM81.7 552.5h1v1h-1zM83.1 716.1h1v1h-1zM81.1 610.9h1v1h-1zM81.3 769.5h1v1h-1zM81.5 805.2h1v1h-1zM82.9 565.0h1v1h-1zM82.7 654.2h1v1h-1zM82.9 780.3h1v1h-1zM81.7 566.1h1v1h-1zM83.4 663.0h1v1h-1zM83.3 740.6h1v1h-1zM82.8 780.7h1v1h-1zM82.6 671.3h1v1h-1zM81.1 742.5h1v1h-1zM82.1 688.4h1v1h-1zM83.3 577.0h1v1h-1zM82.9 552.7h1v1h-1zM82.8 773.7h1v1h-1zM81.7 698.5h1v1h-1zM83.4 724.9h1v1h-1zM82.4 612.4h1v1h-1zM81.1 643.8h1v1h-1zM82.0 598.4h1v1h-1zM81.8 579.6h1v1h-1zM82.8 734.4h1v1h-1zM81.6 610.1h1v1h-1zM82.3 669.1h1v1h-1zM83.3 641.9h1v1h-1zM81.7 796.6h1v1h-1zM81.4 703.3h1v1h-1zM81.8 776.5h1v1h-1zM82.4 760.5h1v1h-1zM81.4 733.3h1v1h-1zM82.5 673.7h1v1h-1zM82.9 781.0h1v1h-1zM81.3 623.9h1v1h-1zM81.9 599.9h1v1h-1zM81.2 621.5h1v1h-1zM81.5 743.5h1v1h-1zM82.1 572.8h1v1h-1zM81.8 675.9h1v1h-1zM81.9 588.7h1v1h-1zM81.2 543.1h1v1h-1zM83.5 757.6h1v1h-1zM81.2 748.0h1v1h-1zM83.5 703.5h1v1h-1zM81.3 681.8h1v1h-1zM82.1 595.0h1v1h-1zM82.4 542.4h1v1h-1zM83.3 726.9h1v1h-1zM82.6 811.2h1v1h-1zM82.6 612.9h1v1h-1zM81.6 580.2h1v1h-1zM81.1 764.6h1v1h-1zM83.1 625.9h1v1h-1zM81.5 725.0h1v1h-1zM83.1 808.7h1v1h-1zM81.4 767.5h1v1h-1zM83.1 755.3h1v1h-1zM81.8 593.5h1v1h-1zM83.1 632.8h1v1h-1zM81.9 699.8h1v1h-1zM81.9 781.1h1v1h-1zM81.6 552.0h1v1h-1zM82.4 722.2h1v1h-1zM83.0 744.6h1v1h-1zM83.3 814.0h1v1h-1z" fill="#b0b0b0"/>
<path d="M384.0 941.4h1v1h-1zM350.9 941.8h1v1h-1zM398.8 943.4h1v1h-1zM327.8 942.4h1v1h-1zM375.3 942.4h1v1h-1zM306.8 941.5h1v1h-1zM374.7 942.5h1v1h-1zM300.5 943.0h1v1h-1zM442.9 943.4h1v1h-1zM372.3 940.5h1v1h-1zM348.2 941.2h1v1h-1zM371.6 940.9h1v1h-1zM357.6 940.5h1v1h-1zM440.4 942.9h1v1h-1zM453.7 942.9h1v1h-1zM375.3 942.7h1v1h-1zM395.8 941.7h1v1h-1zM314.5 942.1h1v1h-1zM355.0 939.2h1v1h-1zM454.5 943.1h1v1h-1zM447.1 944.9h1v1h-1zM405.4 941.7h1v1h-1zM437.9 943.7h1v1h-1zM403.6 942.7h1v1h-1zM350.5 939.6h1v1h-1zM381.7 940.9h1v1h-1zM410.1 941.9h1v1h-1zM450.5 943.3h1v1h-1zM304.7 942.1h1v1h-1zM376.0 943.4h1v1h-1zM314.5 941.1h1v1h-1zM398.7 941.3h1v1h-1zM370.8 940.7h1v1h-1zM367.4 941.7h1v1h-1zM319.4 942.5h1v1h-1zM393.2 944.0h1v1h-1zM319.1 942.1h1v1h-1zM316.1 941.0h1v1h-1zM390.2 942.0h1v1h-1zM394.2 943.2h1v1h-1zM338.5 941.3h1v1h-1zM387.2 941.8h1v1h-1zM400.0 943.0h1v1h-1zM312.5 942.1h1v1h-1zM374.7 942.8h1v1h-1zM421.5 941.3h1v1h-1zM428.7 944.6h1v1h-1zM422.7 944.3h1v1h-1zM317.4 942.1h1v1h-1zM329.1 940.8h1v1h-1zM463.2 940.9h1v1h-1zM323.3 941.0h1v1h-1zM431.9 943.0h1v1h-1zM363.3 942.1h1v1h-1zM302.6 940.9h1v1h-1zM351.0 941.4h1v1h-1zM420.3 940.3h1v1h-1zM405.6 943.1h1v1h-1zM448.3 940.3h1v1h-1zM448.0 941.5h1v1h-1zM328.6 941.6h1v1h-1zM429.8 941.4h1v1h-1zM415.7 942.4h1v1h-1zM363.4 941.4h1v1h-1zM425.3 943.8h1v1h-1zM307.4 941.0h1v1h-1zM402.6 943.1h1v1h-1zM436.5 943.1h1v1h-1zM319.2 943.0h1v1h-1zM343.3 941.1h1v1h-1zM332.8 939.9h1v1h-1zM398.8 942.7h1v1h-1zM319.3 942.1h1v1h-1zM436.1 942.4h1v1h-1zM331.5 940.9h1v1h-1zM416.8 941.9h1v1h-1zM364.7 943.1h1v1h-1zM391.5 943.7h1v1h-1zM417.2 943.1h1v1h-1zM302.3 939.2h1v1h-1zM358.2 942.5h1v1h-1zM448.4 943.3h1v1h-1zM436.1 942.9h1v1h-1zM439.1 942.5h1v1h-1zM415.5 941.3h1v1h-1zM326.9 942.4h1v1h-1zM443.7 940.8h1v1h-1zM403.8 943.4h1v1h-1zM312.9 941.2h1v1h-1zM452.0 943.0h1v1h-1zM400.2 942.7h1v1h-1zM361.4 942.0h1v1h-1zM379.5 941.1h1v1h-1zM360.1 941.4h1v1h-1zM301.0 940.7h1v1h-1zM303.5 941.1h1v1h-1zM378.1 942.3h1v1h-1zM324.8 941.6h1v1h-1zM414.1 942.1h1v1h-1zM385.0 942.8h1v1h-1zM344.6 940.7h1v1h-1zM462.7 942.0h1v1h-1zM468.7 943.8h1v1h-1zM431.1 942.6h1v1h-1zM448.3 942.6h1v1h-1zM407.9 940.7h1v1h-1zM361.7 941.5h1v1h-1zM448.4 944.1h1v1h-1zM459.6 942.1h1v1h-1zM429.8 941.5h1v1h-1zM425.7 940.8h1v1h-1zM359.6 941.8h1v1h-1zM393.6 941.8h1v1h-1zM357.3 942.0h1v1h-1zM354.9 943.0h1v1h-1zM362.4 941.8h1v1h-1zM341.4 941.8h1v1h-1zM323.1 942.6h1v1h-1zM301.2 942.3h1v1h-1zM375.7 941.2h1v1h-1zM396.7 941.9h1v1h-1zM311.3 942.1h1v1h-1zM351.3 941.2h1v1h-1zM393.7 943.6h1v1h-1zM459.4 941.2h1v1h-1zM399.2 944.0h1v1h-1zM313.6 942.2h1v1h-1zM467.9 943.7h1v1h-1zM360.7 942.0h1v1h-1zM447.6 941.3h1v1h-1zM311.5 939.4h1v1h-1zM346.9 942.0h1v1h-1zM343.8 942.4h1v1h-1zM345.6 941.9h1v1h-1zM419.7 942.4h1v1h-1zM334.1 942.7h1v1h-1zM402.5 943.1h1v1h-1zM333.4 940.6h1v1h-1zM424.8 943.6h1v1h-1zM313.5 941.3h1v1h-1zM437.6 943.0h1v1h-1zM323.2 941.0h1v1h-1zM332.0 939.7h1v1h-1zM408.8 941.7h1v1h-1zM456.9 942.7h1v1h-1zM427.4 943.1h1v1h-1zM410.3 940.9h1v1h-1zM357.4 942.7h1v1h-1zM309.8 941.3h1v1h-1zM406.5 942.3h1v1h-1zM356.9 940.5h1v1h-1zM343.7 941.8h1v1h-1zM378.8 944.2h1v1h-1zM395.9 942.3h1v1h-1zM467.9 943.8h1v1h-1zM423.1 942.7h1v1h-1zM356.0 942.3h1v1h-1zM324.3 942.0h1v1h-1zM430.4 943.8h1v1h-1zM371.9 942.9h1v1h-1z" fill="#8c8c7c"/>
<path d="M92.4 786.5C92.7 785.6 93 795.6 93.6 800.9C94.2 806.2 95 812.3 96.2 818.5C97.4 824.7 99.3 833.2 100.6 838C101.9 842.8 101.6 841.2 104 847.2C106.4 853.2 110.3 866.6 114.8 874.3C119.3 882 125 887.6 131.1 893.3C137.2 899 144.7 904 151.5 908.3C158.3 912.6 166.2 916.4 171.9 919.2C177.6 922 182.7 923.7 185.5 925.3C188.3 926.9 189.3 927.9 188.6 928.6C187.9 929.3 185.3 929.7 181.4 929.6C177.5 929.5 171 929 165.1 928.2C159.2 927.4 152.1 926.3 146 924.6C139.9 922.9 133.6 920.8 128.4 917.8C123.2 914.8 118.4 911 114.8 906.9C111.2 902.8 109.1 898.7 106.7 893.3C104.3 887.9 102.5 882 100.6 874.3C98.7 866.6 96.4 855.2 95.1 847.2C93.8 839.2 93.5 833 93 826.1C92.5 819.2 92.1 812.6 92 806C91.9 799.4 92.1 787.4 92.4 786.5Z" fill="none" stroke="#000" stroke-width="2.5" stroke-linejoin="round"/>
<path d="M87.5 671.5C88.1 671.6 88.7 670.1 89.4 676.5C90.1 682.9 90.9 699.1 91.7 709.8C92.5 720.5 93.1 730.5 94 740.8C94.9 751.1 96.2 762.8 97.1 771.8C98 780.8 98 784.7 99.5 795C101 805.3 103.5 823.1 106 833.6C108.5 844.1 111.1 849.6 114.8 858C118.5 866.4 122.3 875.8 128.4 883.8C134.5 891.8 143.1 900.5 151.5 906.2C159.9 911.9 169.6 914.5 178.7 917.8C187.8 921.1 197.9 923.9 205.8 925.9C213.7 927.9 219.9 928.6 226.2 930C232.5 931.4 243.5 933.1 243.5 934.2C243.5 935.3 233.6 936.3 226.2 936.8C218.8 937.2 208.1 937.2 199 936.9C189.9 936.6 181 935.8 171.9 934.8C162.8 933.8 152.6 932.4 144.7 930.7C136.8 929 130 927.2 124.3 924.6C118.6 922 114.3 918.5 110.7 915.1C107.1 911.7 104.8 908.3 102.6 904.2C100.3 900.1 98.7 895.6 97.2 890.6C95.7 885.6 94.9 880.4 93.8 874.3C92.7 868.2 91.4 863 90.4 854C89.4 845 88.5 832.3 87.7 820C86.9 807.7 86.2 793.3 85.8 780C85.4 766.7 85.5 753.3 85.5 740C85.5 726.7 85.5 710.7 85.5 700C85.5 689.3 85.3 680.8 85.6 676C85.9 671.2 86.9 671.4 87.5 671.5Z" fill="none" stroke="#000" stroke-width="2.9" stroke-dasharray="6.5 5.2" stroke-linejoin="round"/>
</g>
<g clip-path="url(#c2)">
<path d="M787.6 479 L790 560 L793.3 630 L794.8 668.8 L798.7 707.6 L803.4 746.5 L806.5 769.8 L811 790 L818 812 L827 831 L839 848 L851 861 L865 871.5 L882 881.8 L900 890 L920 899.5 L941 905.5 L961 910 L996 915.6 L1038 919.1 L1080 921.3 L1222 927.3 L1470 931.9 L1470 939.5 L1222 938.8 L1080 935.8 L1038 936 L990 936 L800 936 L790 800 L782.5 620 L776.6 479Z" fill="#0000ff"/>
<path d="M777.5 600C778.1 604.2 779.6 617.5 781 625C782.4 632.5 784.4 638.8 786 645C787.6 651.2 789.2 654.5 790.5 662C791.8 669.5 792.5 681.2 793.6 690C794.7 698.8 795.8 705.8 797.2 715C798.6 724.2 800.5 737.5 802 745C803.5 752.5 805.2 755.8 806.5 760C807.8 764.2 808.5 764.5 810 770C811.5 775.5 813.2 785.9 815.3 793.3C817.3 800.7 819.6 807.6 822.3 814.2C825 820.8 828.1 827.1 831.6 832.9C835.1 838.7 839.3 844.4 843.2 849.2C847.1 854.1 850.6 858.1 854.9 862C859.2 865.9 863.8 869.1 868.8 872.4C873.8 875.7 879.8 878.9 885 881.8C890.2 884.7 894.2 886.9 900 890C905.8 893.1 913.2 897.8 920 900.5C926.8 903.2 933.6 904.3 941 906C948.4 907.7 955.5 909.1 964.3 910.6C973.1 912.1 984 913.7 993.8 915.2C1003.6 916.7 1015.6 918 1023.3 919.5C1031 921 1035.2 922.3 1040 924C1044.8 925.7 1050 928.6 1052 929.5L1052 931 L1040 932.6 L1023 934.3 L990 936.6 L953 938.2 L920 939.2 L880 940.5 L820 941.5 L790 941.5 L777 941 L776.5 600Z" fill="#7d7d7f"/>
<path d="M848.0 849.0h1v1h-1zM892.9 883.5h1v1h-1zM869.8 869.7h1v1h-1zM800.8 723.8h1v1h-1zM915.3 897.5h1v1h-1zM806.9 747.7h1v1h-1zM944.3 903.0h1v1h-1zM800.5 733.9h1v1h-1zM842.0 844.6h1v1h-1zM778.3 604.4h1v1h-1zM831.1 824.6h1v1h-1zM815.0 772.7h1v1h-1zM1047.4 927.2h1v1h-1zM786.8 642.8h1v1h-1zM779.6 613.5h1v1h-1zM835.3 836.5h1v1h-1zM853.2 855.2h1v1h-1zM817.6 773.7h1v1h-1zM792.1 671.5h1v1h-1zM1015.7 916.7h1v1h-1zM793.6 677.6h1v1h-1zM797.9 716.7h1v1h-1zM1044.7 924.6h1v1h-1zM808.3 765.1h1v1h-1zM957.5 906.7h1v1h-1zM1006.8 916.8h1v1h-1zM787.8 651.6h1v1h-1zM887.3 881.6h1v1h-1zM815.9 792.3h1v1h-1zM854.4 860.1h1v1h-1zM823.1 793.9h1v1h-1zM880.9 874.8h1v1h-1zM796.2 707.8h1v1h-1zM822.5 806.4h1v1h-1zM797.2 711.2h1v1h-1zM888.1 877.3h1v1h-1zM803.3 743.5h1v1h-1zM855.6 862.4h1v1h-1zM793.0 675.0h1v1h-1zM801.9 728.3h1v1h-1zM934.0 902.9h1v1h-1zM808.1 758.7h1v1h-1zM831.7 829.6h1v1h-1zM903.3 890.3h1v1h-1zM869.1 867.3h1v1h-1zM996.9 915.0h1v1h-1zM795.7 700.8h1v1h-1zM947.5 905.2h1v1h-1zM987.6 912.6h1v1h-1zM1050.5 926.8h1v1h-1zM802.7 743.2h1v1h-1zM1040.6 924.2h1v1h-1zM778.5 604.5h1v1h-1zM926.6 901.2h1v1h-1zM787.0 646.6h1v1h-1zM786.6 643.1h1v1h-1zM811.1 761.7h1v1h-1zM996.5 914.3h1v1h-1zM1043.3 924.7h1v1h-1zM953.1 907.9h1v1h-1zM907.4 889.5h1v1h-1zM797.0 711.4h1v1h-1zM820.0 805.6h1v1h-1zM1048.0 927.5h1v1h-1zM805.0 752.0h1v1h-1zM831.8 830.6h1v1h-1zM791.3 664.9h1v1h-1zM904.3 891.2h1v1h-1zM791.5 670.8h1v1h-1zM789.2 653.6h1v1h-1zM815.9 767.3h1v1h-1zM809.3 767.5h1v1h-1zM797.4 703.2h1v1h-1zM924.5 900.2h1v1h-1zM800.4 731.3h1v1h-1zM783.6 633.1h1v1h-1zM781.2 620.8h1v1h-1zM851.4 857.8h1v1h-1zM815.3 772.7h1v1h-1zM890.1 884.2h1v1h-1zM850.7 850.1h1v1h-1zM1044.4 925.5h1v1h-1zM992.6 914.6h1v1h-1zM806.7 752.4h1v1h-1zM820.9 799.4h1v1h-1zM813.9 784.5h1v1h-1zM823.5 793.8h1v1h-1zM780.1 602.2h1v1h-1zM871.9 871.5h1v1h-1zM872.6 873.3h1v1h-1zM812.5 780.6h1v1h-1zM789.3 655.5h1v1h-1zM977.7 911.6h1v1h-1zM782.6 623.7h1v1h-1zM908.7 892.1h1v1h-1zM851.9 852.3h1v1h-1zM804.1 751.8h1v1h-1zM931.1 903.4h1v1h-1zM983.0 910.6h1v1h-1zM1049.7 928.4h1v1h-1zM798.2 712.6h1v1h-1zM816.4 780.6h1v1h-1zM917.0 895.2h1v1h-1zM874.1 872.5h1v1h-1zM901.3 888.3h1v1h-1zM849.9 850.2h1v1h-1zM796.7 707.3h1v1h-1zM1009.4 916.8h1v1h-1zM828.3 824.6h1v1h-1zM832.0 824.6h1v1h-1zM797.4 706.2h1v1h-1zM847.1 844.3h1v1h-1zM845.8 842.3h1v1h-1zM797.6 714.8h1v1h-1zM793.2 682.7h1v1h-1zM886.3 878.6h1v1h-1zM970.6 907.6h1v1h-1zM781.4 620.8h1v1h-1zM815.8 782.0h1v1h-1zM790.9 658.5h1v1h-1zM791.8 673.7h1v1h-1zM811.5 770.6h1v1h-1zM958.9 906.4h1v1h-1zM785.4 642.2h1v1h-1zM819.7 788.3h1v1h-1zM822.5 814.4h1v1h-1zM830.3 826.4h1v1h-1zM792.9 671.7h1v1h-1zM902.9 888.4h1v1h-1zM798.2 714.2h1v1h-1zM813.3 777.3h1v1h-1zM779.4 608.5h1v1h-1zM794.8 696.5h1v1h-1zM793.2 685.7h1v1h-1zM918.3 899.1h1v1h-1zM798.5 716.2h1v1h-1zM973.7 909.2h1v1h-1zM985.4 912.3h1v1h-1zM795.8 696.8h1v1h-1zM876.4 873.6h1v1h-1zM815.0 777.3h1v1h-1zM812.2 775.7h1v1h-1zM916.1 897.3h1v1h-1zM889.4 880.4h1v1h-1zM962.3 908.6h1v1h-1zM860.8 863.1h1v1h-1zM1017.2 917.6h1v1h-1zM919.3 890.6h1v1h-1zM813.3 778.1h1v1h-1zM783.9 633.9h1v1h-1zM936.5 901.7h1v1h-1zM835.4 833.3h1v1h-1zM1005.7 916.9h1v1h-1zM865.2 868.7h1v1h-1zM831.0 817.4h1v1h-1zM818.5 798.0h1v1h-1zM830.3 823.8h1v1h-1zM833.7 831.8h1v1h-1zM839.2 839.7h1v1h-1zM929.5 898.3h1v1h-1zM819.9 791.3h1v1h-1zM851.3 856.1h1v1h-1zM942.1 906.0h1v1h-1zM796.4 706.1h1v1h-1zM784.2 637.1h1v1h-1zM785.7 642.3h1v1h-1zM934.8 903.3h1v1h-1zM902.1 890.6h1v1h-1zM915.5 896.8h1v1h-1zM906.3 893.2h1v1h-1zM827.4 796.6h1v1h-1zM965.6 906.0h1v1h-1zM991.7 913.8h1v1h-1zM841.2 842.2h1v1h-1zM778.5 602.8h1v1h-1zM799.1 726.3h1v1h-1zM803.8 750.6h1v1h-1zM855.9 853.1h1v1h-1zM837.9 840.1h1v1h-1zM802.8 746.5h1v1h-1zM989.2 913.2h1v1h-1zM801.4 723.3h1v1h-1zM795.6 697.0h1v1h-1zM813.3 778.8h1v1h-1zM829.7 819.0h1v1h-1zM811.5 775.2h1v1h-1zM957.9 907.3h1v1h-1zM856.4 852.9h1v1h-1zM781.4 624.7h1v1h-1zM819.8 794.5h1v1h-1zM854.9 860.2h1v1h-1zM955.3 906.7h1v1h-1zM802.1 740.2h1v1h-1zM868.0 864.4h1v1h-1zM826.6 815.3h1v1h-1zM994.6 914.5h1v1h-1zM782.7 627.6h1v1h-1zM781.3 623.7h1v1h-1zM987.4 911.8h1v1h-1zM793.7 686.5h1v1h-1zM1016.2 916.6h1v1h-1zM835.4 834.3h1v1h-1zM899.5 888.2h1v1h-1zM795.9 701.4h1v1h-1zM975.7 909.2h1v1h-1zM796.4 699.3h1v1h-1zM788.0 648.1h1v1h-1zM1029.8 920.2h1v1h-1zM818.4 798.0h1v1h-1zM1008.1 916.4h1v1h-1zM904.4 891.6h1v1h-1zM908.8 893.5h1v1h-1zM780.7 620.2h1v1h-1zM797.6 711.8h1v1h-1zM861.6 864.7h1v1h-1zM792.7 673.7h1v1h-1zM1011.0 916.6h1v1h-1zM793.1 672.6h1v1h-1zM957.0 906.2h1v1h-1zM779.8 615.9h1v1h-1zM814.2 781.7h1v1h-1zM849.0 852.8h1v1h-1zM787.2 644.6h1v1h-1zM820.5 805.1h1v1h-1zM903.3 886.3h1v1h-1zM790.5 658.2h1v1h-1zM1016.7 915.9h1v1h-1zM841.7 846.7h1v1h-1zM803.1 739.7h1v1h-1zM836.8 832.3h1v1h-1zM1019.7 918.0h1v1h-1zM987.9 913.0h1v1h-1zM867.5 869.7h1v1h-1zM791.1 666.8h1v1h-1zM802.3 730.1h1v1h-1zM797.7 709.1h1v1h-1zM1017.2 917.2h1v1h-1zM1037.4 923.0h1v1h-1zM811.9 763.9h1v1h-1zM781.3 624.2h1v1h-1zM808.3 759.4h1v1h-1zM929.5 902.2h1v1h-1zM793.3 685.9h1v1h-1zM783.7 633.3h1v1h-1zM854.7 856.5h1v1h-1zM951.5 905.8h1v1h-1zM866.3 869.5h1v1h-1zM838.0 841.5h1v1h-1zM786.7 646.6h1v1h-1zM859.8 863.8h1v1h-1zM812.5 768.1h1v1h-1zM793.2 678.5h1v1h-1zM793.3 681.4h1v1h-1zM977.3 911.9h1v1h-1zM992.4 913.9h1v1h-1zM786.1 645.1h1v1h-1zM995.2 913.9h1v1h-1zM846.4 848.7h1v1h-1zM789.4 656.1h1v1h-1zM844.5 850.1h1v1h-1zM837.2 838.2h1v1h-1zM816.9 792.8h1v1h-1zM795.1 697.8h1v1h-1zM991.5 913.8h1v1h-1zM834.9 836.8h1v1h-1zM1026.0 920.1h1v1h-1zM832.0 831.1h1v1h-1zM907.4 889.0h1v1h-1zM796.5 710.3h1v1h-1zM800.1 727.0h1v1h-1zM780.3 614.9h1v1h-1zM802.8 740.4h1v1h-1zM1000.7 914.4h1v1h-1zM797.6 712.4h1v1h-1zM866.4 869.2h1v1h-1zM783.4 629.7h1v1h-1zM800.8 717.8h1v1h-1zM781.6 619.8h1v1h-1zM876.3 874.1h1v1h-1zM812.4 762.6h1v1h-1zM963.0 904.2h1v1h-1zM778.7 605.2h1v1h-1zM1024.8 919.0h1v1h-1zM785.7 642.2h1v1h-1zM797.9 717.8h1v1h-1zM792.8 672.3h1v1h-1zM809.4 764.8h1v1h-1zM796.3 705.6h1v1h-1zM814.6 756.5h1v1h-1zM953.1 906.8h1v1h-1zM834.3 825.2h1v1h-1zM1009.0 917.4h1v1h-1zM934.0 902.6h1v1h-1zM878.9 876.3h1v1h-1zM978.9 912.6h1v1h-1zM918.4 898.0h1v1h-1zM812.7 766.2h1v1h-1zM902.0 882.5h1v1h-1zM931.9 899.2h1v1h-1zM1023.3 918.1h1v1h-1zM1007.4 917.1h1v1h-1zM958.9 904.0h1v1h-1zM867.3 864.0h1v1h-1zM949.8 905.4h1v1h-1zM991.2 913.3h1v1h-1zM849.7 844.2h1v1h-1zM1027.7 918.7h1v1h-1zM951.8 902.7h1v1h-1zM798.8 721.2h1v1h-1zM794.8 695.1h1v1h-1zM824.6 818.1h1v1h-1zM1009.2 915.9h1v1h-1zM904.2 891.3h1v1h-1zM949.6 904.6h1v1h-1zM954.3 905.7h1v1h-1zM970.0 905.9h1v1h-1zM819.7 793.2h1v1h-1zM974.5 910.4h1v1h-1zM811.5 761.6h1v1h-1zM954.0 905.3h1v1h-1zM777.9 602.2h1v1h-1zM788.1 653.0h1v1h-1zM963.4 907.1h1v1h-1zM826.2 817.0h1v1h-1zM807.4 760.9h1v1h-1zM978.6 910.8h1v1h-1zM875.8 876.0h1v1h-1zM800.4 730.4h1v1h-1zM912.9 891.5h1v1h-1zM960.5 908.4h1v1h-1zM789.5 657.7h1v1h-1zM967.9 910.5h1v1h-1zM793.7 688.4h1v1h-1zM818.1 772.0h1v1h-1zM797.3 707.7h1v1h-1zM1002.3 915.1h1v1h-1zM822.7 787.0h1v1h-1zM836.0 839.0h1v1h-1zM1047.2 926.5h1v1h-1zM793.6 677.6h1v1h-1zM843.5 845.9h1v1h-1zM1026.8 920.4h1v1h-1zM824.4 816.4h1v1h-1zM811.5 768.2h1v1h-1zM788.3 648.0h1v1h-1zM839.8 840.6h1v1h-1zM818.4 779.1h1v1h-1zM897.1 884.9h1v1h-1zM784.5 636.4h1v1h-1zM1033.0 921.3h1v1h-1zM813.0 772.9h1v1h-1zM816.0 779.2h1v1h-1zM843.0 843.3h1v1h-1zM838.9 831.7h1v1h-1zM812.0 774.0h1v1h-1zM973.6 911.9h1v1h-1zM904.7 888.5h1v1h-1zM933.8 902.8h1v1h-1zM1000.8 915.9h1v1h-1zM781.2 616.8h1v1h-1zM809.2 755.1h1v1h-1zM1001.4 913.3h1v1h-1zM792.2 669.1h1v1h-1zM781.2 622.5h1v1h-1zM814.1 787.8h1v1h-1zM803.1 734.8h1v1h-1zM939.1 904.4h1v1h-1zM821.9 799.9h1v1h-1zM1042.7 924.1h1v1h-1zM902.4 885.7h1v1h-1zM817.7 781.2h1v1h-1zM906.8 892.2h1v1h-1zM801.4 733.4h1v1h-1zM969.7 908.6h1v1h-1zM953.9 907.6h1v1h-1zM839.8 841.8h1v1h-1zM994.4 913.7h1v1h-1zM793.8 681.8h1v1h-1zM805.3 749.6h1v1h-1zM814.0 783.2h1v1h-1zM1037.3 922.6h1v1h-1zM803.5 748.8h1v1h-1zM1026.2 920.0h1v1h-1zM823.4 808.5h1v1h-1zM787.9 651.9h1v1h-1zM816.6 783.9h1v1h-1zM1035.6 922.7h1v1h-1zM1009.5 916.6h1v1h-1zM824.9 813.8h1v1h-1zM947.3 903.3h1v1h-1zM806.1 750.7h1v1h-1zM831.2 821.5h1v1h-1zM853.9 856.9h1v1h-1zM802.6 732.2h1v1h-1zM814.0 773.1h1v1h-1zM802.2 738.7h1v1h-1zM880.4 878.7h1v1h-1zM781.7 619.8h1v1h-1zM969.9 909.3h1v1h-1zM1024.5 919.4h1v1h-1zM799.3 727.8h1v1h-1zM849.5 854.2h1v1h-1zM935.1 902.9h1v1h-1zM961.0 907.3h1v1h-1zM788.6 653.2h1v1h-1zM1037.7 922.0h1v1h-1zM882.8 878.1h1v1h-1zM819.8 787.7h1v1h-1zM1024.6 919.8h1v1h-1zM817.2 787.3h1v1h-1zM959.7 908.6h1v1h-1zM991.5 913.9h1v1h-1zM847.1 846.1h1v1h-1zM1005.9 916.7h1v1h-1zM790.9 663.8h1v1h-1zM817.8 797.4h1v1h-1zM837.1 835.4h1v1h-1zM861.3 861.7h1v1h-1zM817.6 792.6h1v1h-1zM978.5 912.0h1v1h-1zM951.4 907.1h1v1h-1zM898.7 887.4h1v1h-1zM936.7 897.4h1v1h-1zM1004.5 916.7h1v1h-1zM930.1 901.0h1v1h-1zM995.1 913.1h1v1h-1zM790.9 662.7h1v1h-1zM875.2 870.2h1v1h-1zM802.2 732.1h1v1h-1zM968.7 909.8h1v1h-1zM800.1 731.4h1v1h-1zM786.5 644.9h1v1h-1zM902.7 884.6h1v1h-1zM811.4 772.2h1v1h-1zM912.6 890.0h1v1h-1zM807.4 755.7h1v1h-1zM778.0 601.6h1v1h-1zM800.7 732.3h1v1h-1zM782.8 628.3h1v1h-1zM960.6 908.7h1v1h-1zM780.4 619.2h1v1h-1zM796.6 707.9h1v1h-1zM880.7 877.4h1v1h-1zM856.7 860.1h1v1h-1zM795.9 704.8h1v1h-1zM976.0 910.9h1v1h-1zM961.1 909.3h1v1h-1zM946.3 906.9h1v1h-1zM780.3 613.6h1v1h-1zM782.4 630.4h1v1h-1zM880.5 878.3h1v1h-1zM819.3 790.6h1v1h-1zM839.1 839.9h1v1h-1zM989.5 913.8h1v1h-1zM1050.4 927.8h1v1h-1zM811.9 756.5h1v1h-1zM1046.3 925.8h1v1h-1zM791.1 663.9h1v1h-1zM825.4 815.5h1v1h-1zM828.0 814.6h1v1h-1zM808.8 763.6h1v1h-1zM802.3 735.8h1v1h-1zM794.2 693.3h1v1h-1zM824.6 808.2h1v1h-1zM794.5 695.0h1v1h-1zM800.3 727.7h1v1h-1zM854.5 857.4h1v1h-1zM934.0 895.2h1v1h-1zM1028.7 919.5h1v1h-1zM919.8 897.5h1v1h-1zM782.4 630.3h1v1h-1zM987.5 913.9h1v1h-1zM920.5 898.7h1v1h-1zM811.7 769.9h1v1h-1zM794.0 678.3h1v1h-1zM807.5 745.7h1v1h-1zM780.8 621.4h1v1h-1zM1004.8 915.6h1v1h-1zM959.2 908.3h1v1h-1zM787.7 651.1h1v1h-1zM792.0 673.7h1v1h-1zM1048.3 926.6h1v1h-1zM1010.8 917.3h1v1h-1zM967.8 908.3h1v1h-1zM791.1 661.1h1v1h-1zM838.5 837.9h1v1h-1zM795.1 700.6h1v1h-1zM1009.4 917.2h1v1h-1zM918.8 889.7h1v1h-1zM823.5 807.6h1v1h-1zM925.8 897.2h1v1h-1zM977.2 909.8h1v1h-1zM791.3 663.9h1v1h-1zM861.9 867.0h1v1h-1zM818.6 780.2h1v1h-1zM950.2 907.5h1v1h-1zM831.7 817.7h1v1h-1zM845.2 848.6h1v1h-1zM783.8 634.1h1v1h-1zM998.3 913.7h1v1h-1zM831.4 829.2h1v1h-1zM798.2 717.0h1v1h-1zM1008.0 916.8h1v1h-1zM864.7 868.0h1v1h-1zM790.3 660.3h1v1h-1zM864.0 864.3h1v1h-1zM883.3 879.7h1v1h-1zM783.7 632.4h1v1h-1zM921.8 897.2h1v1h-1zM816.2 791.4h1v1h-1zM898.7 888.7h1v1h-1zM889.6 881.5h1v1h-1zM907.6 891.9h1v1h-1zM1009.5 917.4h1v1h-1zM868.5 869.3h1v1h-1zM1046.3 926.6h1v1h-1zM798.0 709.8h1v1h-1zM968.7 908.4h1v1h-1zM881.8 879.9h1v1h-1zM786.2 645.0h1v1h-1zM1041.4 924.6h1v1h-1zM781.0 623.5h1v1h-1zM798.1 715.6h1v1h-1zM898.5 888.0h1v1h-1zM1020.0 917.5h1v1h-1zM801.8 726.2h1v1h-1zM793.1 673.4h1v1h-1zM787.4 649.7h1v1h-1zM1040.1 923.9h1v1h-1zM960.5 908.1h1v1h-1zM792.7 678.0h1v1h-1zM950.6 907.8h1v1h-1zM1000.1 916.0h1v1h-1zM981.6 913.2h1v1h-1zM852.3 856.5h1v1h-1zM877.6 873.3h1v1h-1zM865.6 869.5h1v1h-1zM781.6 626.2h1v1h-1zM848.2 853.4h1v1h-1zM778.8 603.6h1v1h-1zM932.2 897.1h1v1h-1zM962.5 909.5h1v1h-1zM827.5 816.7h1v1h-1zM795.8 699.5h1v1h-1zM826.0 802.8h1v1h-1zM852.2 850.2h1v1h-1zM813.3 767.7h1v1h-1zM981.1 911.2h1v1h-1zM980.4 911.4h1v1h-1zM803.4 745.4h1v1h-1zM939.5 902.7h1v1h-1zM1042.9 924.1h1v1h-1zM942.1 904.9h1v1h-1zM788.5 654.4h1v1h-1zM908.5 890.7h1v1h-1zM826.0 816.2h1v1h-1zM819.5 793.8h1v1h-1zM1013.2 916.9h1v1h-1zM925.3 899.6h1v1h-1zM975.5 907.3h1v1h-1zM919.7 894.7h1v1h-1zM981.0 912.6h1v1h-1zM821.0 805.4h1v1h-1zM1025.8 919.7h1v1h-1zM821.9 810.8h1v1h-1zM803.5 744.5h1v1h-1zM809.5 766.9h1v1h-1zM822.7 811.1h1v1h-1zM1044.0 924.4h1v1h-1zM940.4 899.1h1v1h-1zM975.1 908.3h1v1h-1zM800.0 732.0h1v1h-1zM798.3 720.2h1v1h-1zM796.7 711.0h1v1h-1zM998.6 914.6h1v1h-1zM942.9 904.9h1v1h-1zM945.6 902.4h1v1h-1zM846.3 846.8h1v1h-1zM787.7 650.2h1v1h-1zM880.2 876.0h1v1h-1zM818.9 774.2h1v1h-1zM792.7 677.2h1v1h-1zM844.8 847.2h1v1h-1zM1023.7 918.6h1v1h-1zM820.1 793.7h1v1h-1zM1037.6 922.5h1v1h-1zM785.7 643.0h1v1h-1zM1008.4 916.2h1v1h-1zM778.5 606.6h1v1h-1zM1048.1 926.0h1v1h-1zM794.1 684.5h1v1h-1zM907.0 891.5h1v1h-1zM931.1 903.3h1v1h-1zM799.7 723.6h1v1h-1zM779.6 613.4h1v1h-1zM799.8 724.8h1v1h-1zM1036.1 922.1h1v1h-1zM893.0 882.1h1v1h-1zM867.3 870.0h1v1h-1zM783.1 630.7h1v1h-1zM783.5 632.1h1v1h-1zM791.2 668.1h1v1h-1zM790.4 653.5h1v1h-1zM904.9 892.2h1v1h-1zM800.0 731.6h1v1h-1zM787.3 647.9h1v1h-1zM805.0 745.2h1v1h-1zM824.4 811.6h1v1h-1zM924.3 894.9h1v1h-1zM811.3 763.1h1v1h-1zM973.0 907.4h1v1h-1zM796.7 708.8h1v1h-1zM983.5 912.6h1v1h-1zM802.7 733.3h1v1h-1zM778.8 604.7h1v1h-1zM793.6 675.6h1v1h-1zM894.6 882.2h1v1h-1zM793.8 686.7h1v1h-1zM793.1 668.6h1v1h-1zM818.3 782.3h1v1h-1zM890.6 882.4h1v1h-1zM782.8 631.2h1v1h-1zM778.8 607.1h1v1h-1zM1035.4 922.3h1v1h-1zM811.2 774.2h1v1h-1zM951.3 906.4h1v1h-1zM799.3 720.9h1v1h-1zM788.9 653.2h1v1h-1zM798.2 719.5h1v1h-1zM815.3 781.8h1v1h-1zM940.0 905.4h1v1h-1zM796.4 705.3h1v1h-1zM816.3 783.3h1v1h-1zM830.6 822.7h1v1h-1zM990.8 912.1h1v1h-1zM974.5 911.1h1v1h-1zM798.2 712.8h1v1h-1zM788.9 655.4h1v1h-1zM825.1 819.0h1v1h-1zM789.3 656.3h1v1h-1zM830.0 827.2h1v1h-1zM823.1 809.6h1v1h-1zM789.7 656.4h1v1h-1zM828.0 822.6h1v1h-1zM1022.8 919.1h1v1h-1zM796.2 707.0h1v1h-1zM931.8 897.0h1v1h-1zM1035.2 921.9h1v1h-1zM985.3 910.0h1v1h-1zM845.3 843.2h1v1h-1zM798.5 715.2h1v1h-1zM796.8 701.9h1v1h-1zM784.9 639.9h1v1h-1zM831.8 816.1h1v1h-1zM924.9 898.3h1v1h-1zM805.5 752.5h1v1h-1zM795.2 698.7h1v1h-1zM789.9 657.1h1v1h-1zM1045.2 925.7h1v1h-1zM778.3 605.3h1v1h-1zM890.3 883.8h1v1h-1zM827.1 823.6h1v1h-1zM929.0 900.4h1v1h-1zM834.2 835.6h1v1h-1zM870.1 871.9h1v1h-1zM958.8 908.2h1v1h-1zM1027.1 920.4h1v1h-1zM817.3 774.8h1v1h-1zM1006.5 916.6h1v1h-1zM868.1 869.1h1v1h-1zM1006.0 916.1h1v1h-1zM780.2 617.4h1v1h-1zM822.1 809.3h1v1h-1zM932.8 902.1h1v1h-1zM862.9 864.0h1v1h-1zM901.7 889.5h1v1h-1zM778.9 606.0h1v1h-1zM829.2 826.3h1v1h-1zM840.4 838.8h1v1h-1zM1048.5 927.5h1v1h-1zM877.1 875.6h1v1h-1zM796.1 696.8h1v1h-1zM1052.1 928.8h1v1h-1zM1034.5 922.3h1v1h-1zM806.7 754.2h1v1h-1zM897.5 886.7h1v1h-1zM779.4 611.1h1v1h-1zM970.4 910.5h1v1h-1zM778.0 600.0h1v1h-1zM825.0 815.9h1v1h-1zM853.3 859.6h1v1h-1zM798.0 715.6h1v1h-1zM789.8 657.5h1v1h-1zM791.0 665.6h1v1h-1zM845.4 841.6h1v1h-1zM782.4 627.3h1v1h-1zM797.6 712.6h1v1h-1zM826.6 814.1h1v1h-1zM819.7 794.5h1v1h-1zM986.1 912.1h1v1h-1zM1032.5 921.7h1v1h-1zM823.6 792.7h1v1h-1zM781.3 624.9h1v1h-1zM778.9 608.5h1v1h-1zM802.4 739.3h1v1h-1zM991.5 910.0h1v1h-1zM824.0 798.9h1v1h-1zM960.4 908.8h1v1h-1zM890.9 883.1h1v1h-1zM797.6 717.3h1v1h-1zM894.6 881.1h1v1h-1zM1004.7 915.4h1v1h-1zM1035.0 922.5h1v1h-1zM1004.0 916.1h1v1h-1zM857.2 861.0h1v1h-1zM800.5 722.7h1v1h-1zM798.0 713.7h1v1h-1zM901.8 887.5h1v1h-1zM783.6 635.3h1v1h-1zM831.6 822.1h1v1h-1zM898.2 888.8h1v1h-1zM828.5 825.7h1v1h-1zM901.2 889.2h1v1h-1zM794.3 686.4h1v1h-1zM1033.2 922.0h1v1h-1zM821.8 805.1h1v1h-1zM1032.9 921.8h1v1h-1zM1034.9 921.6h1v1h-1zM1005.2 916.6h1v1h-1zM815.2 771.3h1v1h-1zM894.4 886.7h1v1h-1zM796.6 707.0h1v1h-1zM795.5 703.4h1v1h-1zM791.1 665.0h1v1h-1zM816.8 794.1h1v1h-1zM861.0 865.8h1v1h-1zM1025.8 919.3h1v1h-1zM912.8 895.0h1v1h-1zM822.2 808.3h1v1h-1zM779.5 608.4h1v1h-1zM900.6 888.4h1v1h-1zM1035.2 921.9h1v1h-1zM941.5 903.6h1v1h-1zM884.2 876.5h1v1h-1zM913.3 894.5h1v1h-1zM940.7 905.4h1v1h-1zM802.1 744.9h1v1h-1zM871.7 866.7h1v1h-1zM981.1 911.1h1v1h-1zM795.1 695.2h1v1h-1zM779.8 607.1h1v1h-1zM800.4 731.1h1v1h-1zM783.7 633.6h1v1h-1zM908.4 894.3h1v1h-1zM777.8 601.9h1v1h-1zM916.2 895.5h1v1h-1zM1046.5 926.4h1v1h-1zM1021.8 919.2h1v1h-1zM1038.7 923.1h1v1h-1zM842.4 843.8h1v1h-1zM807.0 753.2h1v1h-1zM799.6 724.3h1v1h-1zM781.8 626.5h1v1h-1zM786.0 643.8h1v1h-1zM878.0 876.7h1v1h-1zM953.3 906.2h1v1h-1zM923.4 899.2h1v1h-1zM794.4 690.4h1v1h-1zM1019.1 918.6h1v1h-1zM791.9 673.8h1v1h-1zM908.9 890.1h1v1h-1zM797.7 710.2h1v1h-1zM955.5 908.4h1v1h-1zM863.0 866.3h1v1h-1zM794.3 691.9h1v1h-1zM953.6 903.1h1v1h-1zM798.0 711.1h1v1h-1zM856.0 859.1h1v1h-1zM791.3 666.1h1v1h-1zM788.7 651.4h1v1h-1zM881.9 879.8h1v1h-1zM820.9 801.7h1v1h-1zM843.6 849.4h1v1h-1zM921.0 899.9h1v1h-1zM796.3 706.2h1v1h-1zM908.5 889.2h1v1h-1zM874.6 873.6h1v1h-1zM804.3 749.4h1v1h-1zM894.1 886.6h1v1h-1zM796.9 708.8h1v1h-1zM943.5 904.0h1v1h-1zM1033.6 920.8h1v1h-1zM954.3 907.7h1v1h-1zM920.6 897.7h1v1h-1zM781.7 626.9h1v1h-1zM781.0 623.7h1v1h-1zM841.7 839.1h1v1h-1zM994.6 911.9h1v1h-1zM825.6 819.7h1v1h-1zM837.3 838.1h1v1h-1zM842.9 842.8h1v1h-1zM845.7 845.6h1v1h-1zM945.2 905.8h1v1h-1zM814.3 785.2h1v1h-1zM830.0 829.4h1v1h-1zM797.5 706.5h1v1h-1zM808.0 752.0h1v1h-1zM942.7 905.6h1v1h-1zM818.5 776.5h1v1h-1zM1021.6 918.5h1v1h-1zM876.8 873.6h1v1h-1zM884.1 878.6h1v1h-1zM805.2 733.3h1v1h-1zM1009.9 916.7h1v1h-1zM791.5 661.4h1v1h-1zM802.5 744.4h1v1h-1zM783.0 633.0h1v1h-1zM826.1 807.1h1v1h-1zM785.3 641.1h1v1h-1zM1035.6 922.5h1v1h-1zM781.3 624.8h1v1h-1zM792.1 664.4h1v1h-1zM788.0 650.9h1v1h-1zM843.8 848.5h1v1h-1zM972.8 911.2h1v1h-1zM940.5 904.0h1v1h-1zM819.6 803.3h1v1h-1zM798.1 716.8h1v1h-1zM1039.6 923.3h1v1h-1zM928.9 901.0h1v1h-1zM1001.3 914.8h1v1h-1zM1032.3 921.3h1v1h-1zM869.6 871.8h1v1h-1zM918.8 895.7h1v1h-1zM925.7 900.4h1v1h-1zM1033.2 921.7h1v1h-1zM787.9 651.2h1v1h-1zM799.0 719.1h1v1h-1zM802.8 722.1h1v1h-1zM792.0 671.1h1v1h-1zM983.2 913.0h1v1h-1zM930.9 901.4h1v1h-1zM808.9 763.6h1v1h-1zM967.6 908.6h1v1h-1zM987.3 913.9h1v1h-1zM939.3 905.3h1v1h-1zM873.6 867.4h1v1h-1zM809.2 756.1h1v1h-1zM980.3 912.4h1v1h-1zM813.3 774.8h1v1h-1zM814.0 779.1h1v1h-1zM788.7 652.6h1v1h-1zM797.3 709.1h1v1h-1zM883.5 878.8h1v1h-1zM998.9 915.9h1v1h-1zM1014.7 917.4h1v1h-1zM959.7 905.0h1v1h-1zM935.3 904.2h1v1h-1zM963.1 910.3h1v1h-1zM817.5 781.3h1v1h-1zM976.2 910.5h1v1h-1zM809.3 760.7h1v1h-1zM967.1 908.2h1v1h-1zM980.4 909.6h1v1h-1zM995.2 912.7h1v1h-1zM931.8 897.2h1v1h-1zM900.5 889.6h1v1h-1zM990.7 914.2h1v1h-1zM850.5 852.8h1v1h-1zM948.7 906.7h1v1h-1zM948.6 906.0h1v1h-1zM809.0 762.9h1v1h-1zM799.0 719.9h1v1h-1zM779.7 612.5h1v1h-1zM955.2 908.6h1v1h-1zM783.2 632.5h1v1h-1zM929.0 901.6h1v1h-1zM818.6 791.7h1v1h-1zM958.4 907.0h1v1h-1zM881.5 878.8h1v1h-1zM1003.0 913.3h1v1h-1zM925.6 900.6h1v1h-1zM805.5 749.3h1v1h-1zM788.2 650.5h1v1h-1zM863.8 866.2h1v1h-1zM833.2 828.1h1v1h-1zM820.8 798.1h1v1h-1zM795.8 699.9h1v1h-1zM815.7 772.5h1v1h-1zM911.4 888.7h1v1h-1zM790.1 659.7h1v1h-1zM864.2 868.4h1v1h-1zM820.5 806.4h1v1h-1zM786.6 644.1h1v1h-1zM842.8 844.3h1v1h-1zM814.7 769.8h1v1h-1zM796.1 706.9h1v1h-1zM797.5 705.1h1v1h-1zM997.2 913.9h1v1h-1zM813.0 782.3h1v1h-1zM915.4 895.8h1v1h-1zM802.7 745.1h1v1h-1zM806.1 758.0h1v1h-1zM849.6 853.0h1v1h-1zM834.9 835.9h1v1h-1zM1032.4 921.5h1v1h-1zM1052.7 928.0h1v1h-1zM793.9 688.0h1v1h-1zM1010.3 915.5h1v1h-1zM990.0 913.6h1v1h-1zM812.5 772.9h1v1h-1zM779.3 611.3h1v1h-1zM839.5 833.9h1v1h-1zM1031.8 920.5h1v1h-1zM840.3 838.3h1v1h-1zM791.7 668.7h1v1h-1zM881.2 878.2h1v1h-1zM870.4 869.4h1v1h-1zM799.0 724.7h1v1h-1zM840.6 839.6h1v1h-1zM826.8 822.6h1v1h-1zM807.8 763.2h1v1h-1zM917.5 899.2h1v1h-1zM799.6 722.9h1v1h-1zM840.5 841.8h1v1h-1zM1007.3 915.5h1v1h-1zM795.7 696.9h1v1h-1zM933.3 901.1h1v1h-1zM915.7 897.5h1v1h-1zM975.6 910.5h1v1h-1zM1017.6 916.2h1v1h-1zM823.9 810.5h1v1h-1zM786.4 641.2h1v1h-1zM901.7 888.0h1v1h-1zM792.3 667.9h1v1h-1zM1051.1 928.7h1v1h-1zM807.2 761.3h1v1h-1zM795.0 695.5h1v1h-1zM793.1 677.2h1v1h-1zM803.8 745.5h1v1h-1zM792.3 677.6h1v1h-1zM794.3 692.8h1v1h-1zM805.5 751.5h1v1h-1zM829.1 827.8h1v1h-1zM824.6 808.9h1v1h-1zM1026.7 920.2h1v1h-1zM828.6 823.5h1v1h-1zM792.3 669.1h1v1h-1zM793.7 681.1h1v1h-1zM1037.3 922.6h1v1h-1zM817.4 792.7h1v1h-1zM811.8 767.9h1v1h-1zM906.9 891.9h1v1h-1zM987.9 913.6h1v1h-1zM860.7 858.1h1v1h-1zM922.8 901.0h1v1h-1zM814.2 768.4h1v1h-1zM820.5 791.1h1v1h-1zM821.0 806.3h1v1h-1zM896.1 883.1h1v1h-1zM926.3 900.3h1v1h-1zM811.7 775.2h1v1h-1zM981.8 912.6h1v1h-1zM902.4 886.3h1v1h-1zM810.6 762.2h1v1h-1zM816.6 792.4h1v1h-1zM794.6 687.5h1v1h-1zM957.8 905.2h1v1h-1zM779.7 612.9h1v1h-1zM835.7 832.6h1v1h-1zM813.1 773.6h1v1h-1zM844.7 847.9h1v1h-1zM1019.4 918.2h1v1h-1zM808.6 759.1h1v1h-1zM818.0 784.4h1v1h-1zM800.6 725.2h1v1h-1zM813.9 777.0h1v1h-1zM1011.5 917.0h1v1h-1zM845.8 851.3h1v1h-1zM967.5 908.8h1v1h-1zM792.2 676.8h1v1h-1zM794.2 692.8h1v1h-1zM782.1 628.7h1v1h-1zM797.0 709.6h1v1h-1zM781.8 627.8h1v1h-1zM921.5 895.0h1v1h-1zM1010.3 916.0h1v1h-1zM1015.8 917.9h1v1h-1zM786.2 642.8h1v1h-1zM794.4 692.7h1v1h-1zM932.5 901.6h1v1h-1zM786.5 644.6h1v1h-1zM992.0 914.9h1v1h-1zM1042.2 923.5h1v1h-1zM780.5 618.4h1v1h-1zM779.1 610.5h1v1h-1zM914.3 896.2h1v1h-1zM792.5 677.7h1v1h-1zM794.2 686.8h1v1h-1zM1038.6 922.6h1v1h-1zM813.7 772.1h1v1h-1zM814.4 787.1h1v1h-1zM798.7 721.9h1v1h-1zM1050.9 926.0h1v1h-1zM913.2 895.8h1v1h-1zM792.2 672.9h1v1h-1zM809.5 768.2h1v1h-1zM843.6 847.7h1v1h-1zM903.5 887.8h1v1h-1zM952.6 907.6h1v1h-1zM862.0 859.0h1v1h-1zM869.2 870.1h1v1h-1zM811.9 760.1h1v1h-1zM985.9 911.0h1v1h-1zM1012.4 917.3h1v1h-1zM793.1 684.0h1v1h-1zM813.2 783.6h1v1h-1zM957.8 909.1h1v1h-1zM950.1 907.5h1v1h-1zM955.9 908.9h1v1h-1zM819.0 797.5h1v1h-1zM923.7 897.5h1v1h-1zM823.9 793.1h1v1h-1zM1019.2 918.3h1v1h-1zM874.5 874.2h1v1h-1zM801.0 729.2h1v1h-1zM1007.0 916.5h1v1h-1zM967.7 906.7h1v1h-1zM1048.0 927.3h1v1h-1zM937.2 902.2h1v1h-1zM799.7 726.1h1v1h-1zM984.7 913.0h1v1h-1zM832.1 831.2h1v1h-1zM786.5 639.4h1v1h-1zM1019.7 919.0h1v1h-1zM938.6 903.4h1v1h-1zM859.3 860.6h1v1h-1zM821.3 803.5h1v1h-1zM1021.4 917.7h1v1h-1zM787.8 649.1h1v1h-1zM802.8 732.8h1v1h-1zM825.5 809.6h1v1h-1zM921.8 900.7h1v1h-1zM890.7 878.7h1v1h-1zM787.7 646.5h1v1h-1zM795.5 703.1h1v1h-1zM890.7 884.3h1v1h-1zM1014.9 917.2h1v1h-1zM1026.1 919.2h1v1h-1zM856.5 863.1h1v1h-1zM960.9 909.8h1v1h-1zM987.8 912.1h1v1h-1zM818.6 791.4h1v1h-1zM789.4 656.7h1v1h-1zM933.3 900.7h1v1h-1zM782.2 625.7h1v1h-1zM1047.5 925.7h1v1h-1zM790.9 662.7h1v1h-1zM883.9 879.1h1v1h-1zM964.2 909.1h1v1h-1zM780.1 616.1h1v1h-1zM981.6 913.2h1v1h-1zM1002.0 914.7h1v1h-1zM827.5 822.7h1v1h-1zM918.5 899.2h1v1h-1zM1021.1 918.3h1v1h-1zM794.4 688.9h1v1h-1zM790.4 657.2h1v1h-1zM794.2 689.2h1v1h-1zM792.3 678.6h1v1h-1zM1019.8 917.2h1v1h-1zM798.5 720.4h1v1h-1zM1011.3 917.2h1v1h-1zM876.5 868.5h1v1h-1zM1039.1 923.6h1v1h-1zM846.9 846.2h1v1h-1zM983.4 912.7h1v1h-1zM1011.8 917.6h1v1h-1zM959.9 907.8h1v1h-1zM798.4 711.4h1v1h-1zM828.9 818.9h1v1h-1zM1016.7 916.0h1v1h-1zM792.6 676.9h1v1h-1zM819.3 792.7h1v1h-1zM793.1 680.4h1v1h-1zM834.5 831.9h1v1h-1zM800.8 728.7h1v1h-1zM939.3 902.3h1v1h-1zM865.6 865.4h1v1h-1zM816.7 774.9h1v1h-1zM1033.9 921.8h1v1h-1zM860.7 866.1h1v1h-1zM1037.3 922.3h1v1h-1zM805.7 750.4h1v1h-1zM779.6 613.9h1v1h-1zM801.6 736.7h1v1h-1zM883.7 872.2h1v1h-1zM905.4 889.2h1v1h-1zM814.8 772.7h1v1h-1zM847.9 852.1h1v1h-1zM987.1 913.2h1v1h-1zM870.9 870.3h1v1h-1zM803.5 744.4h1v1h-1zM1040.0 923.8h1v1h-1zM783.5 630.8h1v1h-1zM794.9 698.9h1v1h-1zM840.0 836.5h1v1h-1zM898.9 884.4h1v1h-1zM907.8 883.4h1v1h-1zM902.9 886.2h1v1h-1zM916.4 897.4h1v1h-1zM818.9 803.9h1v1h-1zM1038.3 923.0h1v1h-1zM779.0 604.1h1v1h-1zM820.7 797.7h1v1h-1zM968.8 909.3h1v1h-1zM778.5 606.3h1v1h-1zM972.6 910.4h1v1h-1zM787.5 648.6h1v1h-1zM995.7 914.9h1v1h-1zM841.7 840.2h1v1h-1zM823.0 791.4h1v1h-1zM911.8 889.6h1v1h-1zM1044.0 925.0h1v1h-1zM788.1 652.9h1v1h-1zM792.1 670.8h1v1h-1zM814.9 773.6h1v1h-1zM1050.2 926.3h1v1h-1zM1049.6 927.2h1v1h-1zM793.0 677.2h1v1h-1zM922.4 898.0h1v1h-1zM1005.2 916.4h1v1h-1zM799.0 722.7h1v1h-1zM791.9 671.5h1v1h-1zM863.4 867.6h1v1h-1zM836.4 836.3h1v1h-1zM859.5 861.3h1v1h-1zM847.9 852.4h1v1h-1zM779.3 607.2h1v1h-1zM797.5 713.9h1v1h-1zM936.2 904.4h1v1h-1zM799.8 715.8h1v1h-1zM786.6 644.2h1v1h-1zM807.2 761.0h1v1h-1zM940.3 904.9h1v1h-1zM974.1 908.6h1v1h-1zM830.1 812.5h1v1h-1zM869.2 872.5h1v1h-1zM793.6 686.9h1v1h-1zM806.7 759.2h1v1h-1zM785.9 642.5h1v1h-1zM804.9 747.9h1v1h-1zM839.4 839.8h1v1h-1zM792.1 674.1h1v1h-1zM804.7 746.4h1v1h-1zM916.0 890.9h1v1h-1zM819.7 804.8h1v1h-1zM789.8 658.5h1v1h-1zM979.8 912.2h1v1h-1zM878.9 876.4h1v1h-1zM782.5 628.0h1v1h-1zM787.1 649.1h1v1h-1zM929.6 902.1h1v1h-1zM793.5 680.5h1v1h-1zM899.2 884.4h1v1h-1zM786.2 643.8h1v1h-1zM1006.5 916.0h1v1h-1zM814.8 790.8h1v1h-1zM795.4 695.2h1v1h-1zM1049.6 927.5h1v1h-1zM807.2 760.7h1v1h-1zM797.5 706.9h1v1h-1zM816.3 791.6h1v1h-1zM792.7 674.6h1v1h-1zM785.5 633.4h1v1h-1zM1014.9 917.3h1v1h-1zM787.7 647.7h1v1h-1zM794.1 693.2h1v1h-1zM900.1 883.0h1v1h-1zM801.4 740.6h1v1h-1zM1021.5 918.8h1v1h-1zM792.0 667.5h1v1h-1zM833.2 827.9h1v1h-1zM910.8 891.5h1v1h-1zM859.6 864.2h1v1h-1zM916.9 898.7h1v1h-1zM957.6 907.3h1v1h-1zM781.7 625.9h1v1h-1zM861.2 866.0h1v1h-1zM909.7 891.6h1v1h-1zM811.9 775.6h1v1h-1zM1042.6 924.3h1v1h-1zM822.0 808.7h1v1h-1zM921.6 900.9h1v1h-1zM988.1 913.6h1v1h-1zM991.7 914.0h1v1h-1zM918.6 897.0h1v1h-1zM898.9 886.9h1v1h-1zM778.5 601.7h1v1h-1zM992.9 914.6h1v1h-1zM1050.8 927.9h1v1h-1zM951.3 901.8h1v1h-1zM988.9 910.0h1v1h-1zM888.4 878.3h1v1h-1zM1028.3 920.2h1v1h-1zM840.1 843.3h1v1h-1zM831.3 828.4h1v1h-1zM839.3 838.9h1v1h-1zM863.1 867.6h1v1h-1zM837.1 835.9h1v1h-1zM838.7 835.3h1v1h-1zM794.1 689.0h1v1h-1zM843.8 848.5h1v1h-1zM914.4 891.1h1v1h-1zM948.2 905.0h1v1h-1zM1017.5 918.6h1v1h-1zM838.7 839.5h1v1h-1zM817.1 792.1h1v1h-1zM914.7 895.9h1v1h-1zM924.9 898.1h1v1h-1zM796.2 702.3h1v1h-1zM803.3 747.3h1v1h-1zM810.6 772.2h1v1h-1zM796.3 699.5h1v1h-1zM797.2 712.4h1v1h-1zM902.2 885.7h1v1h-1zM882.8 879.4h1v1h-1zM782.7 629.2h1v1h-1zM817.9 771.1h1v1h-1zM842.5 845.2h1v1h-1zM900.2 883.3h1v1h-1zM796.9 710.3h1v1h-1zM810.6 760.5h1v1h-1zM927.8 898.6h1v1h-1zM832.4 830.4h1v1h-1zM832.5 830.2h1v1h-1zM917.8 893.4h1v1h-1zM989.8 912.3h1v1h-1zM823.3 809.0h1v1h-1zM1040.7 923.9h1v1h-1zM793.7 688.0h1v1h-1zM1015.9 917.6h1v1h-1zM982.5 911.4h1v1h-1zM1001.0 913.5h1v1h-1zM820.9 803.6h1v1h-1zM817.2 778.3h1v1h-1zM789.9 656.9h1v1h-1zM816.7 789.9h1v1h-1zM865.7 870.0h1v1h-1zM814.5 786.7h1v1h-1zM815.7 781.0h1v1h-1zM938.3 905.1h1v1h-1zM808.0 759.5h1v1h-1zM794.7 690.4h1v1h-1zM779.4 609.8h1v1h-1zM803.9 741.1h1v1h-1zM795.6 696.1h1v1h-1zM798.8 712.0h1v1h-1zM863.6 865.2h1v1h-1zM780.3 617.6h1v1h-1zM807.4 755.8h1v1h-1zM839.8 838.2h1v1h-1zM789.7 658.5h1v1h-1zM820.0 798.3h1v1h-1zM812.1 773.8h1v1h-1zM1046.1 926.5h1v1h-1zM797.9 715.6h1v1h-1zM863.7 866.1h1v1h-1zM817.9 779.5h1v1h-1zM962.0 909.0h1v1h-1zM799.8 729.5h1v1h-1zM1046.7 925.8h1v1h-1zM781.7 626.2h1v1h-1zM878.8 876.3h1v1h-1zM946.6 904.9h1v1h-1zM817.0 784.7h1v1h-1zM957.0 907.3h1v1h-1zM934.6 902.7h1v1h-1zM822.4 809.9h1v1h-1zM825.2 819.9h1v1h-1zM795.7 702.1h1v1h-1zM785.7 643.7h1v1h-1zM814.8 776.0h1v1h-1zM802.0 739.1h1v1h-1zM915.5 887.3h1v1h-1zM792.9 681.2h1v1h-1zM839.7 838.7h1v1h-1zM986.3 914.0h1v1h-1zM795.7 700.7h1v1h-1zM808.5 760.5h1v1h-1zM875.0 873.0h1v1h-1zM785.1 640.5h1v1h-1zM1031.7 921.4h1v1h-1zM892.0 884.2h1v1h-1zM844.3 848.3h1v1h-1zM978.8 911.1h1v1h-1zM812.9 760.6h1v1h-1zM814.3 772.1h1v1h-1zM817.7 792.0h1v1h-1zM897.0 883.5h1v1h-1zM823.9 812.5h1v1h-1zM952.2 907.0h1v1h-1zM825.6 817.2h1v1h-1zM925.8 899.1h1v1h-1zM779.8 613.9h1v1h-1zM906.5 883.8h1v1h-1zM901.5 886.4h1v1h-1zM794.3 694.9h1v1h-1zM793.6 682.9h1v1h-1zM800.6 724.2h1v1h-1zM887.8 879.8h1v1h-1zM793.6 682.3h1v1h-1zM838.1 839.1h1v1h-1zM791.7 664.0h1v1h-1zM831.1 828.8h1v1h-1zM803.8 748.3h1v1h-1zM903.0 886.5h1v1h-1zM947.4 906.0h1v1h-1zM856.7 862.6h1v1h-1zM971.7 909.1h1v1h-1zM854.6 861.6h1v1h-1zM825.3 813.1h1v1h-1zM1038.6 923.0h1v1h-1zM788.6 650.7h1v1h-1zM876.3 867.8h1v1h-1zM1039.7 923.4h1v1h-1zM922.7 900.5h1v1h-1zM794.6 684.9h1v1h-1zM970.3 911.1h1v1h-1zM1000.4 916.1h1v1h-1zM823.3 809.4h1v1h-1zM846.7 846.3h1v1h-1zM987.1 912.9h1v1h-1zM812.6 760.8h1v1h-1zM779.4 612.6h1v1h-1zM783.7 634.7h1v1h-1zM878.4 876.3h1v1h-1zM802.2 740.8h1v1h-1zM803.7 733.7h1v1h-1zM990.9 912.8h1v1h-1zM1048.2 925.9h1v1h-1zM801.6 735.1h1v1h-1zM1018.0 918.1h1v1h-1zM798.0 709.3h1v1h-1zM786.6 643.7h1v1h-1zM873.6 872.9h1v1h-1zM987.0 912.2h1v1h-1zM829.3 819.1h1v1h-1zM950.5 905.9h1v1h-1zM1032.2 921.7h1v1h-1zM800.6 735.4h1v1h-1zM800.4 718.8h1v1h-1zM908.9 892.5h1v1h-1zM796.1 704.4h1v1h-1zM1031.3 920.8h1v1h-1zM836.8 835.1h1v1h-1zM779.3 612.9h1v1h-1zM993.9 912.2h1v1h-1zM810.9 770.9h1v1h-1zM925.3 898.7h1v1h-1zM893.7 882.6h1v1h-1zM792.4 673.8h1v1h-1zM1014.3 916.8h1v1h-1zM950.7 907.3h1v1h-1zM794.5 695.1h1v1h-1zM963.2 907.8h1v1h-1zM786.3 645.2h1v1h-1zM833.9 826.8h1v1h-1zM814.3 780.1h1v1h-1zM821.6 808.6h1v1h-1zM777.8 600.9h1v1h-1zM971.9 910.0h1v1h-1zM852.6 853.8h1v1h-1zM790.6 659.8h1v1h-1zM946.2 905.3h1v1h-1zM951.4 902.0h1v1h-1zM901.4 889.1h1v1h-1zM900.2 886.3h1v1h-1zM1030.5 921.3h1v1h-1zM818.0 796.7h1v1h-1zM837.9 839.3h1v1h-1zM989.1 913.3h1v1h-1zM814.8 785.6h1v1h-1zM859.7 863.5h1v1h-1zM794.8 691.1h1v1h-1zM821.5 809.8h1v1h-1zM835.4 837.6h1v1h-1zM1019.6 918.8h1v1h-1zM795.7 695.6h1v1h-1zM856.6 861.5h1v1h-1zM845.9 850.4h1v1h-1zM806.4 746.4h1v1h-1zM922.2 900.4h1v1h-1zM890.0 879.5h1v1h-1zM812.9 777.8h1v1h-1zM885.8 882.1h1v1h-1zM907.5 891.2h1v1h-1zM925.8 898.4h1v1h-1zM787.7 648.2h1v1h-1zM782.3 624.3h1v1h-1zM798.8 719.4h1v1h-1zM785.4 641.4h1v1h-1zM831.2 832.0h1v1h-1zM827.7 818.5h1v1h-1zM813.0 777.7h1v1h-1zM789.7 654.3h1v1h-1zM797.0 707.4h1v1h-1zM787.8 651.8h1v1h-1zM909.9 892.8h1v1h-1zM797.7 700.1h1v1h-1zM780.0 617.8h1v1h-1zM1020.3 918.0h1v1h-1zM814.6 787.9h1v1h-1zM1028.2 920.5h1v1h-1zM840.2 839.2h1v1h-1zM942.0 904.9h1v1h-1zM971.9 910.2h1v1h-1zM816.0 794.4h1v1h-1zM1001.2 914.3h1v1h-1zM854.3 857.2h1v1h-1zM827.1 818.7h1v1h-1zM852.3 857.5h1v1h-1zM988.3 912.7h1v1h-1zM995.8 914.7h1v1h-1zM1042.9 923.8h1v1h-1zM881.2 879.1h1v1h-1zM977.7 911.5h1v1h-1zM802.1 744.5h1v1h-1zM915.8 898.0h1v1h-1zM886.5 880.0h1v1h-1zM891.7 885.0h1v1h-1zM821.8 810.7h1v1h-1zM807.1 755.7h1v1h-1zM790.7 661.2h1v1h-1zM898.0 887.3h1v1h-1zM806.3 746.1h1v1h-1zM848.1 853.7h1v1h-1zM924.4 900.0h1v1h-1zM783.1 632.8h1v1h-1zM920.7 900.4h1v1h-1zM812.8 776.3h1v1h-1zM836.9 835.1h1v1h-1zM819.9 797.6h1v1h-1zM803.7 744.2h1v1h-1zM1037.5 922.5h1v1h-1zM797.2 709.6h1v1h-1zM1038.2 922.9h1v1h-1zM973.0 908.8h1v1h-1zM814.3 788.3h1v1h-1zM788.6 652.3h1v1h-1zM781.9 620.2h1v1h-1zM795.2 697.5h1v1h-1zM821.2 810.3h1v1h-1zM792.4 673.1h1v1h-1zM845.3 839.8h1v1h-1zM1004.0 915.1h1v1h-1zM798.3 714.4h1v1h-1zM780.1 616.4h1v1h-1zM824.0 811.4h1v1h-1zM863.0 866.2h1v1h-1zM918.0 891.4h1v1h-1zM788.6 652.1h1v1h-1zM802.2 745.2h1v1h-1zM812.8 779.7h1v1h-1zM790.3 660.5h1v1h-1zM791.7 672.4h1v1h-1zM796.4 706.9h1v1h-1zM794.3 693.4h1v1h-1zM842.4 841.0h1v1h-1zM821.9 797.9h1v1h-1zM798.4 721.2h1v1h-1zM782.2 622.5h1v1h-1zM930.9 896.4h1v1h-1zM820.5 793.9h1v1h-1zM867.2 869.9h1v1h-1zM782.7 630.8h1v1h-1zM909.5 889.8h1v1h-1zM801.7 733.5h1v1h-1zM834.3 834.3h1v1h-1zM802.3 735.3h1v1h-1zM862.4 866.6h1v1h-1zM886.6 879.7h1v1h-1zM785.3 641.0h1v1h-1zM797.7 709.9h1v1h-1zM789.6 654.8h1v1h-1zM918.7 899.6h1v1h-1zM817.6 777.8h1v1h-1zM801.8 731.5h1v1h-1zM1044.6 923.5h1v1h-1zM1026.5 918.4h1v1h-1zM799.4 723.7h1v1h-1zM795.8 697.9h1v1h-1zM1051.4 928.0h1v1h-1zM855.3 855.1h1v1h-1zM784.6 638.2h1v1h-1zM799.5 724.6h1v1h-1zM874.9 874.4h1v1h-1zM917.7 895.3h1v1h-1zM786.5 646.0h1v1h-1zM829.4 825.4h1v1h-1zM888.6 883.3h1v1h-1zM794.1 691.8h1v1h-1zM1034.1 921.6h1v1h-1zM814.2 779.0h1v1h-1zM908.7 894.2h1v1h-1zM820.0 791.6h1v1h-1zM856.9 860.8h1v1h-1zM1028.9 920.9h1v1h-1zM1036.3 922.4h1v1h-1zM835.4 816.9h1v1h-1zM975.7 912.1h1v1h-1zM919.3 893.8h1v1h-1zM1024.0 918.6h1v1h-1zM802.3 728.4h1v1h-1zM951.3 905.3h1v1h-1zM811.9 776.4h1v1h-1zM956.9 906.0h1v1h-1zM899.6 883.5h1v1h-1zM793.3 681.7h1v1h-1zM796.2 701.8h1v1h-1zM808.2 761.2h1v1h-1zM918.1 898.2h1v1h-1zM796.7 707.5h1v1h-1zM980.6 911.5h1v1h-1zM802.4 745.6h1v1h-1zM779.1 605.7h1v1h-1zM820.6 808.0h1v1h-1zM986.5 913.8h1v1h-1zM820.1 777.9h1v1h-1zM796.5 709.9h1v1h-1zM798.9 721.7h1v1h-1zM914.5 897.4h1v1h-1zM862.0 864.1h1v1h-1zM800.9 738.1h1v1h-1zM1039.2 921.6h1v1h-1zM999.2 912.4h1v1h-1zM790.0 659.6h1v1h-1zM915.2 897.3h1v1h-1zM961.6 908.9h1v1h-1zM963.6 907.2h1v1h-1zM792.4 673.9h1v1h-1zM815.5 791.0h1v1h-1zM794.1 691.9h1v1h-1zM947.6 903.2h1v1h-1zM882.5 873.1h1v1h-1zM963.5 906.8h1v1h-1zM857.2 859.2h1v1h-1zM818.0 776.4h1v1h-1zM787.7 648.8h1v1h-1zM1020.4 917.7h1v1h-1zM888.8 879.1h1v1h-1zM947.4 900.7h1v1h-1zM827.1 810.9h1v1h-1zM805.3 752.5h1v1h-1zM789.0 652.3h1v1h-1zM799.6 719.2h1v1h-1zM903.8 890.4h1v1h-1zM791.1 664.9h1v1h-1zM835.5 831.1h1v1h-1zM1051.4 926.9h1v1h-1zM823.0 812.4h1v1h-1zM793.9 683.1h1v1h-1zM1039.5 923.7h1v1h-1zM824.2 815.4h1v1h-1zM779.5 608.5h1v1h-1zM1031.2 921.5h1v1h-1zM820.1 796.8h1v1h-1zM865.0 863.6h1v1h-1zM797.6 714.4h1v1h-1zM818.1 788.4h1v1h-1zM888.2 880.1h1v1h-1zM870.4 873.2h1v1h-1zM1050.6 928.6h1v1h-1zM779.0 605.7h1v1h-1zM786.8 644.8h1v1h-1zM974.5 911.3h1v1h-1zM912.1 889.2h1v1h-1zM862.8 866.2h1v1h-1zM861.8 863.0h1v1h-1zM799.1 725.9h1v1h-1zM878.1 873.3h1v1h-1zM813.8 779.6h1v1h-1zM832.8 832.4h1v1h-1zM924.4 900.7h1v1h-1zM957.2 908.0h1v1h-1zM867.8 870.4h1v1h-1zM991.5 911.7h1v1h-1zM780.7 622.2h1v1h-1zM994.8 914.6h1v1h-1zM1014.9 917.5h1v1h-1zM969.6 909.9h1v1h-1zM859.4 863.4h1v1h-1zM814.1 781.2h1v1h-1zM877.2 870.9h1v1h-1zM811.8 757.8h1v1h-1zM856.1 860.2h1v1h-1zM1012.1 914.3h1v1h-1zM780.5 614.0h1v1h-1zM829.4 816.8h1v1h-1zM1038.1 923.0h1v1h-1zM879.7 873.2h1v1h-1zM844.1 849.1h1v1h-1zM912.6 896.0h1v1h-1zM804.8 754.0h1v1h-1zM994.1 912.3h1v1h-1zM780.1 614.9h1v1h-1zM888.2 882.7h1v1h-1zM815.1 782.1h1v1h-1zM796.7 708.9h1v1h-1zM871.8 869.5h1v1h-1zM810.5 754.9h1v1h-1zM947.6 903.1h1v1h-1zM1030.0 921.3h1v1h-1zM817.3 783.9h1v1h-1zM809.1 765.8h1v1h-1zM853.3 857.3h1v1h-1zM944.5 906.1h1v1h-1zM799.8 730.3h1v1h-1zM833.6 832.5h1v1h-1zM976.5 912.0h1v1h-1zM821.9 788.6h1v1h-1zM783.0 630.9h1v1h-1zM806.7 758.1h1v1h-1zM803.3 745.9h1v1h-1zM911.2 894.2h1v1h-1zM957.6 908.6h1v1h-1zM839.3 837.0h1v1h-1zM967.4 907.3h1v1h-1zM797.2 704.0h1v1h-1zM797.3 710.1h1v1h-1zM778.6 600.3h1v1h-1zM787.5 646.5h1v1h-1zM940.9 905.2h1v1h-1zM973.0 908.5h1v1h-1zM1045.6 925.6h1v1h-1zM1015.5 916.4h1v1h-1zM805.1 750.4h1v1h-1zM980.8 910.1h1v1h-1zM854.9 861.4h1v1h-1zM848.5 851.3h1v1h-1zM791.9 664.6h1v1h-1zM799.5 716.3h1v1h-1zM909.3 894.0h1v1h-1zM946.7 905.7h1v1h-1zM940.8 905.4h1v1h-1zM801.3 735.6h1v1h-1zM944.3 900.6h1v1h-1zM792.4 676.5h1v1h-1zM788.5 650.8h1v1h-1zM793.6 677.5h1v1h-1zM783.6 635.3h1v1h-1zM897.0 886.6h1v1h-1zM784.8 640.1h1v1h-1zM992.7 912.3h1v1h-1zM816.9 795.6h1v1h-1zM807.9 763.4h1v1h-1zM797.9 716.4h1v1h-1zM950.2 902.9h1v1h-1zM843.5 848.6h1v1h-1zM814.9 784.1h1v1h-1zM802.0 741.0h1v1h-1zM796.9 702.8h1v1h-1zM806.4 756.1h1v1h-1zM887.0 875.3h1v1h-1zM834.3 825.7h1v1h-1zM1024.5 918.2h1v1h-1zM828.0 811.9h1v1h-1zM799.8 723.2h1v1h-1zM800.1 724.3h1v1h-1zM942.1 903.8h1v1h-1zM794.2 674.8h1v1h-1zM833.2 826.5h1v1h-1zM816.6 782.3h1v1h-1zM817.9 778.9h1v1h-1zM790.6 658.8h1v1h-1zM1016.5 917.1h1v1h-1zM893.6 884.9h1v1h-1zM803.1 738.2h1v1h-1zM828.9 810.6h1v1h-1zM1008.0 916.7h1v1h-1zM1018.2 916.0h1v1h-1zM791.3 666.4h1v1h-1zM1015.5 916.9h1v1h-1zM821.9 796.1h1v1h-1zM1048.7 925.9h1v1h-1zM966.3 910.1h1v1h-1zM813.1 779.0h1v1h-1zM934.6 902.2h1v1h-1zM828.3 822.0h1v1h-1zM957.0 908.1h1v1h-1zM925.9 893.8h1v1h-1zM797.4 706.2h1v1h-1zM815.7 779.0h1v1h-1zM1000.5 915.1h1v1h-1zM1027.0 919.8h1v1h-1zM788.3 651.3h1v1h-1zM784.1 632.9h1v1h-1zM822.6 813.3h1v1h-1zM1044.5 925.2h1v1h-1zM819.1 799.5h1v1h-1zM793.7 682.3h1v1h-1zM847.9 851.8h1v1h-1zM818.7 803.6h1v1h-1zM834.6 832.1h1v1h-1zM826.0 811.7h1v1h-1zM795.1 699.5h1v1h-1zM781.6 625.9h1v1h-1zM948.9 905.1h1v1h-1zM999.9 915.8h1v1h-1zM826.8 809.1h1v1h-1zM845.6 850.4h1v1h-1zM782.8 631.9h1v1h-1zM896.7 886.8h1v1h-1zM1014.5 917.1h1v1h-1zM966.4 910.6h1v1h-1zM851.0 856.0h1v1h-1zM890.6 884.7h1v1h-1zM831.6 830.6h1v1h-1zM779.9 616.5h1v1h-1zM802.8 734.0h1v1h-1zM822.1 812.7h1v1h-1zM793.8 687.1h1v1h-1zM964.9 906.6h1v1h-1zM810.0 766.2h1v1h-1zM960.7 906.5h1v1h-1zM816.9 787.5h1v1h-1zM855.4 857.6h1v1h-1zM902.2 881.5h1v1h-1zM844.0 848.6h1v1h-1zM807.6 760.3h1v1h-1zM796.7 711.0h1v1h-1zM822.1 812.2h1v1h-1zM990.0 914.0h1v1h-1zM805.3 744.2h1v1h-1zM797.0 711.7h1v1h-1zM920.9 897.9h1v1h-1zM809.5 767.7h1v1h-1zM964.9 907.2h1v1h-1zM1046.5 924.6h1v1h-1zM779.8 604.6h1v1h-1zM994.4 913.1h1v1h-1zM814.4 785.8h1v1h-1zM942.5 905.4h1v1h-1zM949.5 905.7h1v1h-1zM849.3 855.6h1v1h-1zM780.9 617.6h1v1h-1zM943.1 905.7h1v1h-1zM778.4 600.1h1v1h-1zM800.1 724.5h1v1h-1zM885.3 876.2h1v1h-1zM822.0 811.5h1v1h-1zM796.1 698.9h1v1h-1zM847.4 847.2h1v1h-1zM795.1 694.9h1v1h-1zM803.9 749.4h1v1h-1zM810.0 766.7h1v1h-1zM923.7 899.6h1v1h-1zM924.5 900.7h1v1h-1zM788.9 655.9h1v1h-1zM786.8 646.1h1v1h-1zM799.3 721.0h1v1h-1zM997.4 915.6h1v1h-1zM1023.7 919.3h1v1h-1zM910.8 889.4h1v1h-1zM852.9 859.4h1v1h-1zM1032.8 919.5h1v1h-1zM778.7 606.3h1v1h-1zM795.0 695.3h1v1h-1zM820.0 805.5h1v1h-1zM974.1 911.8h1v1h-1zM807.7 747.3h1v1h-1zM800.1 731.1h1v1h-1zM795.9 701.9h1v1h-1zM789.7 657.1h1v1h-1zM793.2 686.3h1v1h-1zM826.1 811.6h1v1h-1zM806.1 745.8h1v1h-1zM920.9 899.7h1v1h-1zM812.2 763.4h1v1h-1zM855.1 857.8h1v1h-1zM828.9 825.6h1v1h-1zM998.2 915.1h1v1h-1zM874.1 868.2h1v1h-1zM999.1 913.8h1v1h-1zM780.0 616.2h1v1h-1zM846.1 848.8h1v1h-1zM973.5 910.4h1v1h-1zM896.7 884.5h1v1h-1zM794.5 692.3h1v1h-1zM1044.5 925.3h1v1h-1zM793.7 690.2h1v1h-1zM800.4 731.9h1v1h-1zM789.6 656.2h1v1h-1zM793.7 683.7h1v1h-1zM954.9 905.3h1v1h-1zM986.5 912.4h1v1h-1zM790.4 660.4h1v1h-1zM832.1 821.1h1v1h-1zM1020.7 918.6h1v1h-1zM1032.9 921.2h1v1h-1zM813.6 763.1h1v1h-1zM794.9 696.2h1v1h-1zM848.8 853.0h1v1h-1zM980.4 912.7h1v1h-1zM944.4 906.7h1v1h-1zM787.8 647.7h1v1h-1zM1033.5 920.8h1v1h-1zM921.2 897.1h1v1h-1zM805.2 752.4h1v1h-1zM934.1 900.9h1v1h-1zM781.2 620.9h1v1h-1zM958.6 908.3h1v1h-1zM828.3 823.7h1v1h-1zM849.4 852.0h1v1h-1zM779.5 612.2h1v1h-1zM985.4 913.8h1v1h-1zM904.2 882.9h1v1h-1zM1027.9 919.5h1v1h-1zM1032.7 920.6h1v1h-1zM923.0 898.6h1v1h-1zM873.8 866.4h1v1h-1zM821.4 809.2h1v1h-1zM866.2 869.1h1v1h-1zM780.1 614.1h1v1h-1zM1016.4 918.5h1v1h-1zM791.1 665.4h1v1h-1zM1049.7 928.4h1v1h-1zM791.9 670.1h1v1h-1zM1004.1 915.7h1v1h-1zM791.5 662.6h1v1h-1zM817.1 797.7h1v1h-1zM817.8 800.5h1v1h-1zM782.0 627.5h1v1h-1zM1030.9 921.5h1v1h-1zM976.7 912.4h1v1h-1zM908.6 893.4h1v1h-1zM833.6 832.4h1v1h-1zM837.6 841.1h1v1h-1zM958.5 905.4h1v1h-1zM822.7 799.2h1v1h-1zM799.4 728.1h1v1h-1zM889.3 879.9h1v1h-1zM857.6 860.1h1v1h-1zM839.7 839.8h1v1h-1zM1047.1 927.2h1v1h-1zM806.3 757.7h1v1h-1zM805.3 750.2h1v1h-1zM780.4 616.7h1v1h-1zM1015.5 916.0h1v1h-1zM909.4 894.2h1v1h-1zM923.4 901.2h1v1h-1zM923.8 898.5h1v1h-1zM795.9 698.9h1v1h-1zM945.4 905.4h1v1h-1zM793.4 680.4h1v1h-1zM959.8 905.2h1v1h-1zM1042.4 924.5h1v1h-1zM788.0 651.0h1v1h-1zM920.5 900.5h1v1h-1zM947.9 902.7h1v1h-1zM844.3 838.6h1v1h-1zM889.3 880.8h1v1h-1zM892.8 882.2h1v1h-1zM936.7 902.7h1v1h-1zM858.3 861.4h1v1h-1zM820.5 800.7h1v1h-1zM822.6 805.6h1v1h-1zM815.1 787.1h1v1h-1zM824.9 802.1h1v1h-1zM787.1 643.0h1v1h-1zM778.8 608.2h1v1h-1zM825.3 812.8h1v1h-1zM865.3 867.7h1v1h-1zM779.0 607.4h1v1h-1zM992.6 913.6h1v1h-1zM826.8 821.0h1v1h-1zM809.9 754.3h1v1h-1zM974.6 910.4h1v1h-1zM797.4 716.0h1v1h-1zM956.1 904.3h1v1h-1zM828.6 822.5h1v1h-1zM956.2 907.6h1v1h-1zM987.5 913.6h1v1h-1zM865.9 868.6h1v1h-1zM1045.5 926.3h1v1h-1zM792.2 669.4h1v1h-1zM782.1 629.2h1v1h-1zM961.3 908.9h1v1h-1zM898.7 881.3h1v1h-1zM1020.9 918.8h1v1h-1zM876.3 872.5h1v1h-1zM820.5 800.5h1v1h-1zM800.0 719.8h1v1h-1zM790.0 658.1h1v1h-1zM797.3 710.0h1v1h-1zM807.9 755.3h1v1h-1zM821.7 809.7h1v1h-1zM919.8 898.2h1v1h-1zM811.8 757.1h1v1h-1zM807.7 756.7h1v1h-1zM871.3 870.8h1v1h-1zM878.4 875.4h1v1h-1zM883.8 880.5h1v1h-1zM790.0 659.4h1v1h-1zM853.5 858.4h1v1h-1zM876.5 873.9h1v1h-1zM1005.6 915.8h1v1h-1zM862.1 867.1h1v1h-1zM800.2 732.7h1v1h-1zM799.9 726.0h1v1h-1zM822.4 809.0h1v1h-1zM794.2 692.4h1v1h-1zM790.8 662.9h1v1h-1zM817.3 788.6h1v1h-1zM938.3 902.0h1v1h-1zM816.7 789.4h1v1h-1zM945.0 903.9h1v1h-1zM1015.5 917.7h1v1h-1zM799.8 720.4h1v1h-1zM902.6 890.7h1v1h-1zM813.1 782.6h1v1h-1zM998.1 914.9h1v1h-1zM811.5 772.1h1v1h-1zM844.5 844.9h1v1h-1zM795.3 699.4h1v1h-1zM903.4 888.7h1v1h-1zM850.8 849.6h1v1h-1zM820.0 807.0h1v1h-1zM783.1 633.2h1v1h-1zM968.1 909.4h1v1h-1zM849.9 854.8h1v1h-1zM802.6 740.0h1v1h-1zM802.2 734.6h1v1h-1zM952.2 903.7h1v1h-1zM911.1 891.6h1v1h-1zM789.2 654.1h1v1h-1zM780.8 621.5h1v1h-1zM843.9 846.3h1v1h-1zM967.8 908.8h1v1h-1zM798.1 716.4h1v1h-1zM1043.9 925.8h1v1h-1zM781.3 622.2h1v1h-1zM1044.0 925.7h1v1h-1zM790.4 655.7h1v1h-1zM892.1 880.6h1v1h-1zM805.1 742.5h1v1h-1zM787.3 648.2h1v1h-1zM1043.2 923.6h1v1h-1zM886.1 881.1h1v1h-1zM801.1 731.0h1v1h-1zM785.4 641.6h1v1h-1zM872.7 874.6h1v1h-1zM810.3 767.4h1v1h-1zM1020.1 918.0h1v1h-1zM798.9 719.1h1v1h-1zM893.6 881.8h1v1h-1zM839.5 838.9h1v1h-1zM789.6 652.7h1v1h-1zM792.9 683.6h1v1h-1zM832.0 824.5h1v1h-1zM851.0 856.2h1v1h-1zM833.0 819.6h1v1h-1zM780.4 620.3h1v1h-1zM804.8 752.8h1v1h-1zM792.3 668.4h1v1h-1zM791.2 661.4h1v1h-1zM803.3 741.5h1v1h-1zM788.8 651.7h1v1h-1zM904.7 891.4h1v1h-1zM792.7 674.3h1v1h-1zM892.9 885.2h1v1h-1zM792.8 679.0h1v1h-1zM817.5 792.2h1v1h-1zM851.3 854.5h1v1h-1zM853.4 853.0h1v1h-1zM786.1 642.0h1v1h-1zM810.5 757.1h1v1h-1zM1015.3 917.4h1v1h-1zM941.6 900.1h1v1h-1zM857.6 862.3h1v1h-1zM789.0 656.2h1v1h-1zM993.2 914.3h1v1h-1zM807.4 754.1h1v1h-1zM787.4 648.2h1v1h-1zM913.5 895.1h1v1h-1zM996.3 912.6h1v1h-1zM806.6 751.9h1v1h-1zM909.3 889.8h1v1h-1zM812.8 777.8h1v1h-1zM972.3 910.7h1v1h-1zM826.0 818.9h1v1h-1zM806.8 753.8h1v1h-1zM838.0 841.5h1v1h-1zM815.4 767.3h1v1h-1zM909.9 888.9h1v1h-1zM938.7 901.4h1v1h-1zM852.1 856.3h1v1h-1zM997.9 914.8h1v1h-1zM957.3 908.8h1v1h-1zM794.5 693.7h1v1h-1zM1036.3 921.2h1v1h-1zM843.5 847.0h1v1h-1zM852.9 854.7h1v1h-1zM852.1 857.6h1v1h-1zM785.9 643.1h1v1h-1zM791.2 666.4h1v1h-1zM900.2 885.6h1v1h-1zM909.2 889.4h1v1h-1zM1019.9 918.9h1v1h-1zM797.1 714.0h1v1h-1zM947.1 904.9h1v1h-1zM943.2 903.0h1v1h-1zM793.6 674.7h1v1h-1zM932.0 902.4h1v1h-1zM817.3 790.0h1v1h-1zM1034.2 922.3h1v1h-1zM948.7 906.4h1v1h-1zM925.0 899.1h1v1h-1zM831.5 830.4h1v1h-1zM996.4 914.0h1v1h-1zM905.5 888.2h1v1h-1zM959.3 908.5h1v1h-1zM842.6 847.7h1v1h-1zM1003.8 916.6h1v1h-1zM919.4 892.7h1v1h-1zM791.6 671.3h1v1h-1zM808.3 761.7h1v1h-1zM817.6 777.4h1v1h-1zM1049.5 928.1h1v1h-1zM789.9 658.8h1v1h-1zM784.6 636.6h1v1h-1zM799.5 725.6h1v1h-1zM828.4 811.6h1v1h-1zM975.6 909.9h1v1h-1zM853.9 856.9h1v1h-1zM869.2 871.5h1v1h-1zM815.2 764.0h1v1h-1zM922.2 899.7h1v1h-1zM969.5 910.2h1v1h-1zM809.1 765.5h1v1h-1zM792.1 659.8h1v1h-1zM973.9 908.8h1v1h-1zM1033.3 922.1h1v1h-1zM779.6 611.3h1v1h-1zM801.9 731.4h1v1h-1zM802.9 744.6h1v1h-1zM900.9 885.6h1v1h-1zM803.0 744.2h1v1h-1zM926.2 900.1h1v1h-1zM831.7 821.8h1v1h-1zM825.8 820.7h1v1h-1zM826.9 821.4h1v1h-1zM875.6 873.3h1v1h-1zM995.4 912.2h1v1h-1zM982.8 912.5h1v1h-1zM793.8 684.3h1v1h-1zM800.1 730.5h1v1h-1zM790.4 652.7h1v1h-1zM778.4 603.0h1v1h-1zM868.1 868.8h1v1h-1zM788.7 653.7h1v1h-1zM1009.4 916.5h1v1h-1zM806.5 758.0h1v1h-1zM1036.7 922.5h1v1h-1zM863.7 867.9h1v1h-1zM847.5 852.3h1v1h-1zM926.9 894.1h1v1h-1zM787.5 649.7h1v1h-1zM815.8 777.9h1v1h-1zM1032.4 921.9h1v1h-1zM801.8 721.5h1v1h-1zM799.7 726.9h1v1h-1zM854.7 857.5h1v1h-1zM1021.6 918.2h1v1h-1zM1027.8 920.1h1v1h-1zM967.1 909.6h1v1h-1zM780.4 608.7h1v1h-1zM800.2 722.3h1v1h-1zM813.3 775.5h1v1h-1zM914.4 896.2h1v1h-1zM892.7 878.8h1v1h-1zM784.3 634.2h1v1h-1zM909.2 893.6h1v1h-1zM784.5 637.4h1v1h-1zM1051.1 928.7h1v1h-1zM954.8 905.5h1v1h-1zM1038.8 922.5h1v1h-1zM800.9 732.2h1v1h-1zM843.7 840.5h1v1h-1zM897.4 887.9h1v1h-1zM977.9 910.2h1v1h-1zM980.5 911.6h1v1h-1zM794.5 695.7h1v1h-1zM845.2 850.5h1v1h-1zM860.5 860.4h1v1h-1zM826.6 807.9h1v1h-1zM794.4 688.8h1v1h-1zM821.5 804.3h1v1h-1zM778.7 601.3h1v1h-1zM791.3 663.0h1v1h-1zM799.5 722.8h1v1h-1zM996.6 912.4h1v1h-1zM794.2 683.6h1v1h-1zM867.2 871.0h1v1h-1zM814.2 773.9h1v1h-1zM797.2 714.1h1v1h-1zM864.2 866.1h1v1h-1zM783.8 636.1h1v1h-1zM908.7 892.4h1v1h-1zM822.3 809.3h1v1h-1zM1046.0 926.3h1v1h-1zM830.4 824.6h1v1h-1zM793.3 677.7h1v1h-1zM807.3 755.1h1v1h-1zM955.2 908.2h1v1h-1zM879.6 877.0h1v1h-1zM824.5 815.4h1v1h-1zM931.3 902.7h1v1h-1zM897.7 887.4h1v1h-1zM873.1 873.4h1v1h-1zM937.8 901.2h1v1h-1zM904.3 891.5h1v1h-1zM872.4 872.2h1v1h-1zM826.5 820.3h1v1h-1zM855.5 849.6h1v1h-1zM856.2 853.5h1v1h-1zM806.4 757.7h1v1h-1zM928.7 897.9h1v1h-1zM799.8 719.0h1v1h-1zM825.7 784.8h1v1h-1zM1024.2 918.4h1v1h-1zM989.1 913.4h1v1h-1zM796.0 697.6h1v1h-1zM784.5 631.0h1v1h-1zM806.2 746.3h1v1h-1zM880.8 878.4h1v1h-1zM1019.5 918.9h1v1h-1zM783.4 634.3h1v1h-1zM780.2 617.7h1v1h-1zM841.7 846.5h1v1h-1zM882.2 877.9h1v1h-1zM822.9 795.9h1v1h-1zM1034.1 921.5h1v1h-1zM849.1 850.2h1v1h-1zM799.1 726.6h1v1h-1zM798.1 720.1h1v1h-1zM806.8 753.6h1v1h-1zM780.6 617.6h1v1h-1zM804.8 743.5h1v1h-1zM788.8 652.0h1v1h-1zM947.4 904.2h1v1h-1zM820.5 800.6h1v1h-1zM827.9 807.0h1v1h-1zM1013.8 918.0h1v1h-1zM926.3 901.6h1v1h-1zM780.3 617.0h1v1h-1zM971.9 910.2h1v1h-1zM806.4 749.6h1v1h-1zM801.1 728.3h1v1h-1zM779.3 609.5h1v1h-1zM808.2 763.2h1v1h-1zM1042.4 924.8h1v1h-1zM1006.5 917.0h1v1h-1zM817.7 799.6h1v1h-1zM788.4 653.4h1v1h-1zM952.8 902.7h1v1h-1zM952.9 908.0h1v1h-1zM786.0 644.5h1v1h-1zM977.4 911.3h1v1h-1zM798.1 712.7h1v1h-1zM984.5 912.4h1v1h-1zM778.1 600.9h1v1h-1zM1045.0 924.7h1v1h-1zM958.0 906.8h1v1h-1zM863.6 861.2h1v1h-1zM1018.2 918.6h1v1h-1zM1035.8 921.4h1v1h-1zM797.2 708.7h1v1h-1zM809.2 754.9h1v1h-1zM784.0 628.6h1v1h-1zM827.9 805.2h1v1h-1zM839.8 829.9h1v1h-1zM913.7 890.7h1v1h-1zM807.6 761.4h1v1h-1zM817.0 797.8h1v1h-1zM999.5 913.5h1v1h-1zM805.2 748.2h1v1h-1zM859.8 860.0h1v1h-1zM817.2 795.0h1v1h-1zM786.5 646.5h1v1h-1zM803.9 749.6h1v1h-1zM917.8 898.5h1v1h-1zM924.5 899.9h1v1h-1zM920.4 899.0h1v1h-1zM969.4 910.1h1v1h-1zM855.1 859.7h1v1h-1zM814.6 789.0h1v1h-1zM988.2 913.2h1v1h-1zM882.0 877.9h1v1h-1zM799.6 727.1h1v1h-1zM838.9 838.5h1v1h-1zM846.5 851.3h1v1h-1zM832.9 827.0h1v1h-1zM884.5 878.7h1v1h-1zM862.1 866.5h1v1h-1zM778.3 600.2h1v1h-1zM1043.4 925.4h1v1h-1zM788.7 653.5h1v1h-1zM796.3 706.9h1v1h-1zM779.2 609.6h1v1h-1zM834.5 832.5h1v1h-1zM813.1 783.0h1v1h-1zM795.5 698.6h1v1h-1zM797.6 717.3h1v1h-1zM807.2 755.3h1v1h-1zM806.4 755.4h1v1h-1zM779.5 609.2h1v1h-1zM835.9 830.7h1v1h-1zM777.9 601.3h1v1h-1zM830.7 814.7h1v1h-1zM795.6 698.6h1v1h-1zM791.0 658.0h1v1h-1zM835.6 835.8h1v1h-1zM805.0 753.4h1v1h-1zM876.2 874.2h1v1h-1zM878.1 872.9h1v1h-1zM813.0 780.9h1v1h-1zM974.9 912.1h1v1h-1zM988.2 913.7h1v1h-1zM942.2 905.5h1v1h-1zM793.1 682.4h1v1h-1zM985.9 912.8h1v1h-1zM966.1 909.6h1v1h-1zM1022.7 918.5h1v1h-1zM800.9 724.9h1v1h-1zM797.6 712.3h1v1h-1zM817.5 781.8h1v1h-1zM794.3 688.4h1v1h-1zM791.0 665.0h1v1h-1zM885.5 876.6h1v1h-1zM843.8 844.2h1v1h-1zM796.3 700.7h1v1h-1zM844.9 849.2h1v1h-1zM791.9 670.3h1v1h-1zM785.0 636.8h1v1h-1zM894.0 880.2h1v1h-1zM785.5 642.1h1v1h-1zM846.1 845.6h1v1h-1zM780.2 612.8h1v1h-1zM869.5 869.8h1v1h-1zM784.5 638.6h1v1h-1zM864.8 866.3h1v1h-1zM846.0 845.6h1v1h-1zM821.4 787.9h1v1h-1zM824.3 800.4h1v1h-1zM1046.7 926.5h1v1h-1zM943.2 901.2h1v1h-1zM884.2 879.8h1v1h-1zM1034.0 920.6h1v1h-1zM795.9 704.0h1v1h-1zM856.6 860.4h1v1h-1zM948.1 906.5h1v1h-1zM796.2 706.3h1v1h-1zM822.5 802.9h1v1h-1zM913.8 895.4h1v1h-1zM1052.8 926.6h1v1h-1zM956.8 908.7h1v1h-1zM836.9 831.6h1v1h-1zM1024.9 919.0h1v1h-1zM779.5 612.5h1v1h-1zM829.5 822.3h1v1h-1zM787.6 650.4h1v1h-1zM831.7 828.8h1v1h-1zM822.4 811.7h1v1h-1zM812.2 765.8h1v1h-1zM813.7 786.1h1v1h-1zM791.7 663.7h1v1h-1zM1038.7 923.5h1v1h-1zM801.4 735.3h1v1h-1zM930.0 900.6h1v1h-1zM832.2 833.6h1v1h-1zM790.7 663.4h1v1h-1zM795.5 699.0h1v1h-1zM815.7 784.0h1v1h-1zM1036.9 921.9h1v1h-1zM1035.6 922.3h1v1h-1zM887.7 877.2h1v1h-1zM809.3 759.7h1v1h-1zM780.9 617.3h1v1h-1zM861.2 865.3h1v1h-1zM782.8 632.1h1v1h-1zM887.2 879.2h1v1h-1zM802.2 736.3h1v1h-1zM800.9 732.6h1v1h-1zM1002.2 916.2h1v1h-1zM833.0 829.8h1v1h-1zM1043.7 925.1h1v1h-1zM955.0 907.4h1v1h-1zM785.0 635.9h1v1h-1zM917.1 895.5h1v1h-1zM954.4 903.9h1v1h-1zM814.3 770.1h1v1h-1zM964.7 905.0h1v1h-1zM829.8 826.4h1v1h-1zM799.7 723.9h1v1h-1zM781.6 624.0h1v1h-1zM793.1 678.6h1v1h-1zM987.5 912.4h1v1h-1zM792.5 672.2h1v1h-1zM787.9 651.6h1v1h-1zM801.3 726.5h1v1h-1zM838.7 838.4h1v1h-1zM874.2 869.3h1v1h-1zM869.3 864.7h1v1h-1zM781.2 624.3h1v1h-1zM797.8 715.5h1v1h-1zM791.9 665.4h1v1h-1zM825.1 819.1h1v1h-1zM830.0 822.0h1v1h-1zM848.0 848.2h1v1h-1zM805.7 747.9h1v1h-1zM1016.3 916.2h1v1h-1zM1045.7 925.6h1v1h-1zM823.8 814.1h1v1h-1zM798.7 723.5h1v1h-1zM792.7 666.1h1v1h-1zM841.5 834.7h1v1h-1zM824.1 814.5h1v1h-1zM788.3 649.9h1v1h-1zM950.1 906.8h1v1h-1zM794.0 689.3h1v1h-1zM780.5 605.4h1v1h-1zM874.4 870.2h1v1h-1zM821.4 801.5h1v1h-1zM1017.4 918.3h1v1h-1zM798.6 709.2h1v1h-1zM781.0 623.1h1v1h-1zM814.4 786.0h1v1h-1zM1039.8 922.9h1v1h-1zM780.8 616.5h1v1h-1zM839.7 841.8h1v1h-1zM859.9 865.2h1v1h-1zM824.7 812.0h1v1h-1zM909.1 888.4h1v1h-1zM789.5 657.5h1v1h-1zM799.4 726.8h1v1h-1zM887.3 873.0h1v1h-1zM988.0 913.3h1v1h-1zM790.2 659.4h1v1h-1zM832.5 822.2h1v1h-1zM1050.3 928.2h1v1h-1zM795.9 703.8h1v1h-1zM791.3 661.8h1v1h-1zM984.9 912.0h1v1h-1zM780.3 604.7h1v1h-1zM799.3 726.2h1v1h-1zM799.7 727.1h1v1h-1zM953.6 907.4h1v1h-1zM1003.8 914.7h1v1h-1zM778.3 602.8h1v1h-1zM872.4 869.4h1v1h-1zM842.0 841.0h1v1h-1zM788.7 654.5h1v1h-1zM785.4 638.0h1v1h-1zM787.6 651.2h1v1h-1zM852.4 850.2h1v1h-1zM813.9 770.2h1v1h-1zM797.5 714.8h1v1h-1zM855.6 859.8h1v1h-1zM822.5 806.8h1v1h-1zM861.6 861.0h1v1h-1zM793.4 687.0h1v1h-1zM861.5 864.8h1v1h-1zM917.4 895.2h1v1h-1zM779.6 609.7h1v1h-1zM867.2 871.1h1v1h-1zM967.3 907.4h1v1h-1zM801.6 738.9h1v1h-1zM800.3 722.9h1v1h-1zM796.2 707.4h1v1h-1zM940.9 902.7h1v1h-1zM798.3 722.1h1v1h-1zM975.2 907.7h1v1h-1zM799.8 719.1h1v1h-1zM783.4 634.3h1v1h-1zM984.0 913.3h1v1h-1zM902.0 888.9h1v1h-1zM904.2 888.7h1v1h-1zM793.1 676.7h1v1h-1zM903.9 887.0h1v1h-1zM862.9 865.6h1v1h-1zM799.2 723.4h1v1h-1zM780.3 615.1h1v1h-1zM1017.0 917.5h1v1h-1zM853.0 854.9h1v1h-1zM840.5 842.2h1v1h-1zM804.7 734.8h1v1h-1zM832.4 830.5h1v1h-1zM778.0 601.0h1v1h-1zM878.3 875.8h1v1h-1zM842.9 835.5h1v1h-1zM939.1 904.3h1v1h-1zM786.4 641.6h1v1h-1zM866.9 869.7h1v1h-1zM890.1 883.5h1v1h-1zM823.0 815.5h1v1h-1zM974.0 911.5h1v1h-1zM790.0 659.5h1v1h-1zM1007.5 916.4h1v1h-1zM913.3 896.3h1v1h-1zM1017.2 917.6h1v1h-1zM960.8 906.8h1v1h-1zM786.6 641.7h1v1h-1zM808.9 763.5h1v1h-1zM792.1 668.8h1v1h-1zM778.9 603.5h1v1h-1zM784.2 630.2h1v1h-1zM876.4 873.4h1v1h-1zM993.8 913.3h1v1h-1zM793.9 687.2h1v1h-1zM808.0 759.0h1v1h-1zM781.3 622.3h1v1h-1zM893.6 881.4h1v1h-1zM942.6 900.4h1v1h-1zM784.5 636.2h1v1h-1zM1022.7 918.5h1v1h-1zM835.5 830.5h1v1h-1zM793.4 683.1h1v1h-1zM1045.8 924.3h1v1h-1zM833.4 832.3h1v1h-1zM807.5 756.3h1v1h-1zM828.9 817.2h1v1h-1zM802.5 732.3h1v1h-1zM797.3 709.8h1v1h-1zM793.2 675.5h1v1h-1zM782.9 632.1h1v1h-1zM801.0 730.5h1v1h-1zM943.4 906.0h1v1h-1zM804.7 746.5h1v1h-1zM990.5 913.6h1v1h-1zM946.8 902.2h1v1h-1zM877.0 875.4h1v1h-1zM831.5 828.0h1v1h-1zM794.2 687.8h1v1h-1zM909.2 892.5h1v1h-1zM981.9 912.0h1v1h-1zM858.3 857.9h1v1h-1zM832.2 833.1h1v1h-1zM813.8 783.8h1v1h-1zM809.7 768.4h1v1h-1zM781.9 618.9h1v1h-1zM890.3 884.5h1v1h-1zM792.4 675.8h1v1h-1zM959.4 907.8h1v1h-1zM891.2 880.2h1v1h-1zM801.1 728.5h1v1h-1zM973.9 908.2h1v1h-1zM976.1 911.4h1v1h-1zM799.6 722.3h1v1h-1zM784.4 637.0h1v1h-1zM993.4 914.3h1v1h-1zM850.2 851.4h1v1h-1zM995.5 913.9h1v1h-1zM904.9 891.0h1v1h-1zM845.9 848.3h1v1h-1zM796.1 707.3h1v1h-1zM899.4 884.7h1v1h-1zM1006.4 914.2h1v1h-1zM1038.8 923.5h1v1h-1zM788.2 649.7h1v1h-1zM813.5 771.4h1v1h-1zM1032.6 921.4h1v1h-1zM939.3 903.7h1v1h-1zM1020.4 918.5h1v1h-1zM782.0 625.3h1v1h-1zM784.3 632.9h1v1h-1zM1029.8 920.6h1v1h-1zM821.2 802.5h1v1h-1zM874.4 867.9h1v1h-1zM1002.8 916.0h1v1h-1zM809.7 755.7h1v1h-1zM887.8 882.9h1v1h-1zM891.4 883.9h1v1h-1zM1004.5 916.5h1v1h-1zM818.8 772.6h1v1h-1zM794.5 693.7h1v1h-1zM884.3 876.7h1v1h-1zM928.0 900.9h1v1h-1zM792.1 675.5h1v1h-1zM970.3 904.8h1v1h-1zM953.2 903.8h1v1h-1zM849.5 853.5h1v1h-1zM968.7 910.0h1v1h-1zM898.9 884.3h1v1h-1zM793.5 685.6h1v1h-1zM985.4 912.3h1v1h-1zM948.4 904.9h1v1h-1zM784.3 628.0h1v1h-1zM782.3 629.7h1v1h-1zM1029.2 920.7h1v1h-1zM814.7 770.9h1v1h-1zM846.6 846.5h1v1h-1zM882.1 876.0h1v1h-1zM1032.6 921.6h1v1h-1zM802.2 733.2h1v1h-1zM791.3 667.5h1v1h-1zM792.8 669.9h1v1h-1zM820.0 806.4h1v1h-1zM782.3 628.4h1v1h-1zM997.5 915.4h1v1h-1zM780.8 621.8h1v1h-1zM799.6 725.2h1v1h-1zM818.2 801.6h1v1h-1zM821.0 798.9h1v1h-1zM817.8 792.1h1v1h-1zM1030.6 921.4h1v1h-1zM794.5 691.4h1v1h-1zM812.0 767.5h1v1h-1zM921.7 895.8h1v1h-1zM812.1 774.3h1v1h-1zM1018.3 918.4h1v1h-1zM806.6 752.0h1v1h-1zM844.3 848.9h1v1h-1zM821.2 795.4h1v1h-1zM914.1 896.3h1v1h-1zM854.0 855.7h1v1h-1zM919.1 897.7h1v1h-1zM785.7 641.1h1v1h-1zM788.6 653.7h1v1h-1zM793.8 688.0h1v1h-1zM895.7 883.1h1v1h-1zM799.0 712.3h1v1h-1zM798.0 718.2h1v1h-1zM903.2 889.7h1v1h-1zM859.1 865.1h1v1h-1zM902.6 884.4h1v1h-1zM822.9 803.7h1v1h-1zM824.0 809.6h1v1h-1zM787.0 643.7h1v1h-1zM817.6 777.6h1v1h-1zM886.4 876.8h1v1h-1zM988.1 912.5h1v1h-1zM814.6 778.2h1v1h-1zM799.5 721.3h1v1h-1zM796.0 700.8h1v1h-1zM839.7 837.9h1v1h-1zM1032.6 920.0h1v1h-1zM1026.7 919.9h1v1h-1zM975.4 911.1h1v1h-1zM1041.3 924.5h1v1h-1zM992.7 913.1h1v1h-1zM823.4 807.5h1v1h-1zM821.1 802.3h1v1h-1zM801.7 732.0h1v1h-1zM790.2 658.1h1v1h-1zM993.8 913.5h1v1h-1zM802.9 741.3h1v1h-1zM971.7 910.8h1v1h-1zM795.7 700.4h1v1h-1zM807.9 755.8h1v1h-1zM785.3 638.2h1v1h-1zM965.5 910.5h1v1h-1zM795.0 697.6h1v1h-1zM958.4 907.2h1v1h-1zM796.9 711.7h1v1h-1zM784.8 639.5h1v1h-1zM914.5 895.8h1v1h-1zM827.6 824.8h1v1h-1zM1024.9 918.9h1v1h-1zM820.5 800.2h1v1h-1zM841.1 834.5h1v1h-1zM860.7 864.0h1v1h-1zM809.1 766.3h1v1h-1zM1021.5 918.6h1v1h-1zM976.9 910.3h1v1h-1zM852.2 854.3h1v1h-1zM795.8 696.1h1v1h-1zM792.5 678.0h1v1h-1zM854.5 860.5h1v1h-1zM792.4 678.7h1v1h-1zM894.0 877.7h1v1h-1zM896.2 880.2h1v1h-1zM847.3 840.2h1v1h-1zM831.7 831.5h1v1h-1zM985.3 910.1h1v1h-1zM829.7 825.4h1v1h-1zM796.0 704.2h1v1h-1zM860.5 865.2h1v1h-1zM796.0 705.3h1v1h-1zM906.7 891.3h1v1h-1zM875.8 874.2h1v1h-1zM806.4 741.5h1v1h-1zM905.5 886.4h1v1h-1zM969.4 908.1h1v1h-1zM939.9 903.5h1v1h-1zM1009.0 916.8h1v1h-1zM1038.2 922.6h1v1h-1zM967.5 910.4h1v1h-1zM902.5 887.6h1v1h-1zM828.2 814.4h1v1h-1z" fill="#7d7d7f"/>
<path d="M817.1 788.6h1v1h-1zM852.8 845.2h1v1h-1zM992.4 914.7h1v1h-1zM826.0 821.1h1v1h-1zM786.8 646.6h1v1h-1zM996.5 915.1h1v1h-1zM798.4 707.9h1v1h-1zM904.5 882.5h1v1h-1zM823.3 794.1h1v1h-1zM1028.7 919.8h1v1h-1zM842.3 835.0h1v1h-1zM818.4 796.5h1v1h-1zM909.5 886.2h1v1h-1zM1019.1 917.4h1v1h-1zM939.3 901.2h1v1h-1zM786.8 646.7h1v1h-1zM788.7 643.6h1v1h-1zM988.8 913.6h1v1h-1zM793.4 688.1h1v1h-1zM840.5 822.2h1v1h-1zM985.0 913.2h1v1h-1zM842.8 838.6h1v1h-1zM923.1 896.6h1v1h-1zM989.2 914.0h1v1h-1zM818.1 786.8h1v1h-1zM831.9 828.2h1v1h-1zM915.6 891.5h1v1h-1zM838.6 829.1h1v1h-1zM779.5 605.6h1v1h-1zM848.6 853.1h1v1h-1zM1033.4 922.1h1v1h-1zM795.4 698.7h1v1h-1zM792.8 673.2h1v1h-1zM781.8 620.1h1v1h-1zM801.8 730.4h1v1h-1zM802.9 747.4h1v1h-1zM1007.5 916.2h1v1h-1zM867.6 869.3h1v1h-1zM790.5 653.4h1v1h-1zM785.7 642.5h1v1h-1zM851.7 852.2h1v1h-1zM879.5 866.2h1v1h-1zM1009.8 916.8h1v1h-1zM794.1 689.1h1v1h-1zM912.2 895.4h1v1h-1zM819.6 798.7h1v1h-1zM807.8 735.0h1v1h-1zM854.4 857.1h1v1h-1zM930.3 902.8h1v1h-1zM878.2 871.3h1v1h-1zM819.6 778.0h1v1h-1zM896.6 886.6h1v1h-1zM793.0 680.7h1v1h-1zM805.9 749.9h1v1h-1zM980.8 911.1h1v1h-1zM1030.1 921.2h1v1h-1zM781.0 618.0h1v1h-1zM780.1 616.9h1v1h-1zM939.6 901.4h1v1h-1zM780.1 603.1h1v1h-1zM790.2 659.2h1v1h-1zM829.2 823.0h1v1h-1zM809.0 765.8h1v1h-1zM1036.8 921.3h1v1h-1zM978.2 910.3h1v1h-1zM1003.0 913.6h1v1h-1zM857.1 858.2h1v1h-1zM805.3 754.2h1v1h-1zM796.7 705.7h1v1h-1zM811.3 754.1h1v1h-1zM942.7 898.6h1v1h-1zM786.5 641.7h1v1h-1zM980.0 909.9h1v1h-1zM797.3 714.7h1v1h-1zM912.5 886.8h1v1h-1zM865.1 861.8h1v1h-1zM791.8 667.0h1v1h-1zM780.9 607.4h1v1h-1zM886.2 870.2h1v1h-1zM808.0 757.4h1v1h-1zM838.8 821.5h1v1h-1zM783.9 635.0h1v1h-1zM837.4 840.1h1v1h-1zM802.7 724.3h1v1h-1zM795.3 699.1h1v1h-1zM823.2 771.4h1v1h-1zM995.5 915.3h1v1h-1zM854.4 853.3h1v1h-1zM780.0 604.0h1v1h-1zM789.2 653.7h1v1h-1zM847.9 837.8h1v1h-1zM801.3 739.3h1v1h-1zM1009.9 917.1h1v1h-1zM965.9 910.0h1v1h-1zM997.7 915.0h1v1h-1zM986.3 911.2h1v1h-1zM996.7 913.0h1v1h-1zM800.1 719.2h1v1h-1zM958.0 907.8h1v1h-1zM1006.2 915.4h1v1h-1zM960.1 900.8h1v1h-1zM857.4 863.1h1v1h-1zM926.5 899.5h1v1h-1zM838.8 832.2h1v1h-1zM837.2 838.8h1v1h-1zM978.6 911.1h1v1h-1zM979.2 911.8h1v1h-1zM845.1 834.5h1v1h-1zM857.3 863.2h1v1h-1zM822.2 811.6h1v1h-1zM1038.6 923.1h1v1h-1zM785.6 636.9h1v1h-1zM798.8 722.7h1v1h-1zM956.4 908.2h1v1h-1zM956.2 907.1h1v1h-1zM1020.5 918.2h1v1h-1zM825.9 774.9h1v1h-1zM851.1 850.1h1v1h-1zM902.1 890.5h1v1h-1zM799.4 727.3h1v1h-1zM788.0 650.5h1v1h-1zM1033.0 921.1h1v1h-1zM902.6 886.9h1v1h-1zM811.0 750.9h1v1h-1zM851.3 840.2h1v1h-1zM951.3 904.5h1v1h-1zM861.4 864.0h1v1h-1zM791.5 660.7h1v1h-1zM805.8 756.2h1v1h-1zM792.7 664.2h1v1h-1zM797.7 715.8h1v1h-1zM780.6 621.7h1v1h-1zM831.3 810.3h1v1h-1zM792.6 660.9h1v1h-1zM932.9 902.6h1v1h-1zM850.7 848.8h1v1h-1zM1048.9 926.9h1v1h-1zM1041.7 923.7h1v1h-1zM801.3 724.6h1v1h-1zM819.7 801.1h1v1h-1zM809.3 750.2h1v1h-1zM910.7 882.9h1v1h-1zM795.7 687.2h1v1h-1zM836.4 838.4h1v1h-1zM981.1 910.9h1v1h-1zM950.7 904.5h1v1h-1zM945.7 906.2h1v1h-1zM830.8 826.2h1v1h-1zM802.0 729.0h1v1h-1zM827.8 815.4h1v1h-1zM854.3 842.8h1v1h-1zM804.5 735.2h1v1h-1zM800.6 732.2h1v1h-1zM980.7 912.2h1v1h-1zM1014.7 917.2h1v1h-1zM1007.3 916.1h1v1h-1zM988.5 908.9h1v1h-1zM804.1 745.7h1v1h-1zM782.8 632.1h1v1h-1zM780.3 607.2h1v1h-1zM802.5 721.4h1v1h-1zM792.2 674.0h1v1h-1zM790.0 658.8h1v1h-1zM790.1 658.3h1v1h-1zM788.1 649.2h1v1h-1zM783.3 620.3h1v1h-1zM959.5 906.8h1v1h-1zM806.9 743.6h1v1h-1zM966.6 910.1h1v1h-1zM1031.4 921.4h1v1h-1zM798.7 706.1h1v1h-1zM781.9 622.5h1v1h-1zM786.6 645.2h1v1h-1zM897.0 884.8h1v1h-1zM898.7 888.2h1v1h-1zM797.1 701.7h1v1h-1zM991.4 913.2h1v1h-1zM880.5 870.1h1v1h-1zM784.0 628.9h1v1h-1zM844.8 837.7h1v1h-1zM870.8 859.3h1v1h-1zM843.9 849.1h1v1h-1zM802.6 733.3h1v1h-1zM777.9 602.4h1v1h-1zM846.2 840.2h1v1h-1zM796.9 700.3h1v1h-1zM842.9 835.0h1v1h-1zM828.9 817.1h1v1h-1zM841.2 836.9h1v1h-1zM849.4 834.8h1v1h-1zM949.3 906.8h1v1h-1zM800.1 724.5h1v1h-1zM806.8 749.9h1v1h-1zM805.1 741.2h1v1h-1zM1051.1 928.9h1v1h-1zM913.0 889.9h1v1h-1zM1017.2 917.5h1v1h-1zM1033.7 920.5h1v1h-1zM820.2 778.0h1v1h-1zM810.3 752.1h1v1h-1zM791.8 669.1h1v1h-1zM814.4 766.1h1v1h-1zM827.4 819.9h1v1h-1zM1013.5 914.9h1v1h-1zM941.2 904.0h1v1h-1zM779.2 603.2h1v1h-1zM795.0 696.4h1v1h-1zM831.6 824.6h1v1h-1zM791.5 662.9h1v1h-1zM800.0 718.5h1v1h-1zM904.4 891.5h1v1h-1zM975.3 911.8h1v1h-1zM935.6 901.5h1v1h-1zM800.9 726.8h1v1h-1zM913.4 885.4h1v1h-1zM897.0 871.8h1v1h-1zM852.5 851.4h1v1h-1zM820.1 801.9h1v1h-1zM1043.9 924.4h1v1h-1zM785.6 637.0h1v1h-1zM1039.2 923.7h1v1h-1zM934.9 894.9h1v1h-1zM793.2 686.3h1v1h-1zM851.0 854.8h1v1h-1zM784.8 638.9h1v1h-1zM1014.9 917.4h1v1h-1zM952.3 905.9h1v1h-1zM796.0 676.0h1v1h-1zM793.1 667.0h1v1h-1zM788.4 646.8h1v1h-1zM952.7 901.5h1v1h-1zM809.5 760.7h1v1h-1zM782.3 620.1h1v1h-1zM841.4 835.3h1v1h-1zM939.7 904.4h1v1h-1zM796.5 701.5h1v1h-1zM981.3 912.9h1v1h-1zM922.2 897.8h1v1h-1zM781.2 618.6h1v1h-1zM940.0 905.0h1v1h-1zM919.0 898.2h1v1h-1zM781.3 620.6h1v1h-1zM884.5 881.1h1v1h-1zM975.4 912.0h1v1h-1zM1004.0 915.5h1v1h-1zM892.2 878.3h1v1h-1zM1017.7 917.6h1v1h-1zM942.7 901.9h1v1h-1zM839.0 828.4h1v1h-1zM818.6 797.5h1v1h-1zM809.5 760.0h1v1h-1zM805.4 749.5h1v1h-1zM932.6 899.4h1v1h-1zM979.0 911.2h1v1h-1zM792.4 659.4h1v1h-1zM947.9 906.7h1v1h-1zM821.6 783.6h1v1h-1zM879.1 860.5h1v1h-1zM890.9 882.8h1v1h-1zM857.6 860.5h1v1h-1zM823.0 791.3h1v1h-1zM936.7 900.2h1v1h-1zM855.7 862.5h1v1h-1zM1050.7 928.0h1v1h-1zM862.2 862.8h1v1h-1zM786.2 643.6h1v1h-1zM913.1 895.3h1v1h-1zM802.6 722.0h1v1h-1zM831.6 830.4h1v1h-1zM1010.0 915.4h1v1h-1zM785.5 642.9h1v1h-1zM878.6 876.8h1v1h-1zM848.6 845.5h1v1h-1zM897.9 885.1h1v1h-1zM989.6 912.8h1v1h-1zM954.9 906.6h1v1h-1zM791.6 655.2h1v1h-1zM815.5 761.7h1v1h-1zM795.8 700.3h1v1h-1zM821.4 799.1h1v1h-1zM916.6 890.5h1v1h-1zM1030.8 920.8h1v1h-1zM819.0 804.0h1v1h-1zM817.7 800.2h1v1h-1zM780.9 610.8h1v1h-1zM790.5 654.3h1v1h-1zM806.8 743.5h1v1h-1zM779.9 614.7h1v1h-1zM788.7 652.7h1v1h-1zM787.1 643.9h1v1h-1zM845.9 818.8h1v1h-1zM784.9 622.6h1v1h-1zM794.9 686.4h1v1h-1zM1034.3 921.6h1v1h-1zM946.8 903.1h1v1h-1zM814.9 770.5h1v1h-1zM1042.1 924.4h1v1h-1zM802.3 722.9h1v1h-1zM826.8 806.5h1v1h-1zM854.6 859.9h1v1h-1zM789.3 642.3h1v1h-1zM824.4 789.0h1v1h-1zM836.0 838.5h1v1h-1zM929.0 892.6h1v1h-1zM813.9 782.4h1v1h-1zM876.9 871.9h1v1h-1zM778.9 607.7h1v1h-1zM812.7 767.7h1v1h-1zM930.0 891.9h1v1h-1zM786.1 643.9h1v1h-1zM1029.8 919.2h1v1h-1zM976.5 911.4h1v1h-1zM1025.6 917.2h1v1h-1zM780.8 616.7h1v1h-1zM948.4 903.1h1v1h-1zM793.6 671.3h1v1h-1zM786.7 639.6h1v1h-1zM905.3 891.3h1v1h-1zM796.7 685.6h1v1h-1zM801.3 721.3h1v1h-1zM967.0 906.6h1v1h-1zM823.4 809.5h1v1h-1zM820.9 799.0h1v1h-1zM783.9 635.9h1v1h-1zM803.8 734.1h1v1h-1zM821.8 771.0h1v1h-1zM993.7 912.2h1v1h-1zM1003.6 915.4h1v1h-1zM917.0 894.1h1v1h-1zM854.9 859.6h1v1h-1zM804.1 749.8h1v1h-1zM883.9 879.0h1v1h-1zM812.9 760.8h1v1h-1zM1044.5 925.1h1v1h-1zM1050.1 926.0h1v1h-1zM1032.6 919.0h1v1h-1zM844.9 844.3h1v1h-1zM951.8 907.1h1v1h-1zM831.4 829.8h1v1h-1zM885.3 863.7h1v1h-1zM909.6 891.3h1v1h-1zM825.6 818.3h1v1h-1zM784.0 629.7h1v1h-1zM828.7 778.5h1v1h-1zM791.3 664.6h1v1h-1zM870.9 872.5h1v1h-1zM797.1 709.8h1v1h-1zM1017.7 916.6h1v1h-1zM778.9 606.5h1v1h-1zM838.7 826.9h1v1h-1zM824.2 799.5h1v1h-1zM841.0 845.4h1v1h-1zM811.3 759.5h1v1h-1zM978.8 912.8h1v1h-1zM962.1 909.1h1v1h-1zM840.2 831.6h1v1h-1zM978.0 911.5h1v1h-1zM779.1 606.2h1v1h-1zM846.6 825.4h1v1h-1zM1020.1 917.9h1v1h-1zM818.8 793.3h1v1h-1zM934.4 904.2h1v1h-1zM845.2 839.8h1v1h-1zM783.0 620.3h1v1h-1zM799.0 691.8h1v1h-1zM791.7 666.3h1v1h-1zM800.1 728.2h1v1h-1zM1019.4 917.6h1v1h-1zM778.9 609.1h1v1h-1zM980.3 911.2h1v1h-1zM788.4 648.6h1v1h-1zM1041.7 921.7h1v1h-1zM960.4 906.0h1v1h-1zM796.4 704.9h1v1h-1zM789.6 658.3h1v1h-1zM864.6 855.0h1v1h-1zM790.7 662.3h1v1h-1zM1017.8 918.2h1v1h-1zM938.0 892.5h1v1h-1zM1042.5 924.4h1v1h-1zM795.0 699.4h1v1h-1zM881.6 874.6h1v1h-1zM872.7 860.4h1v1h-1zM843.6 847.3h1v1h-1zM809.2 749.8h1v1h-1zM784.0 623.7h1v1h-1zM837.1 827.3h1v1h-1zM828.1 803.4h1v1h-1zM976.0 909.4h1v1h-1zM868.8 853.1h1v1h-1zM873.3 860.2h1v1h-1zM808.7 761.7h1v1h-1zM787.7 649.5h1v1h-1zM1016.4 918.2h1v1h-1zM1021.5 917.3h1v1h-1zM877.8 860.8h1v1h-1zM931.7 900.5h1v1h-1zM784.8 637.8h1v1h-1zM930.3 900.5h1v1h-1zM852.8 858.1h1v1h-1zM799.7 727.5h1v1h-1zM882.3 863.7h1v1h-1zM932.6 901.5h1v1h-1zM829.0 812.3h1v1h-1zM826.9 804.1h1v1h-1zM997.8 913.7h1v1h-1zM802.4 743.4h1v1h-1zM779.0 603.7h1v1h-1zM904.2 891.1h1v1h-1zM1050.3 927.3h1v1h-1zM920.4 895.9h1v1h-1zM978.4 909.2h1v1h-1zM792.4 667.0h1v1h-1zM801.8 731.7h1v1h-1zM820.0 779.2h1v1h-1zM802.3 741.6h1v1h-1zM783.6 628.6h1v1h-1zM911.6 887.5h1v1h-1zM815.3 789.7h1v1h-1zM790.7 661.7h1v1h-1zM780.4 608.6h1v1h-1zM797.2 709.4h1v1h-1zM842.8 845.4h1v1h-1zM1035.0 922.6h1v1h-1zM998.4 913.9h1v1h-1zM839.9 837.1h1v1h-1zM849.2 847.8h1v1h-1zM1025.3 918.2h1v1h-1zM903.6 888.6h1v1h-1zM967.6 910.4h1v1h-1zM811.6 751.5h1v1h-1zM1037.2 921.9h1v1h-1zM936.6 900.1h1v1h-1zM949.0 904.4h1v1h-1zM783.6 627.6h1v1h-1zM918.8 897.8h1v1h-1zM814.4 761.9h1v1h-1zM819.3 781.3h1v1h-1zM904.7 886.4h1v1h-1zM844.6 844.5h1v1h-1zM832.6 828.3h1v1h-1zM803.3 737.4h1v1h-1zM816.3 787.5h1v1h-1zM1042.7 924.5h1v1h-1zM835.6 837.0h1v1h-1zM780.9 613.0h1v1h-1zM815.9 784.1h1v1h-1zM1043.2 925.2h1v1h-1zM863.4 866.3h1v1h-1zM797.9 718.6h1v1h-1zM809.0 761.3h1v1h-1zM833.3 828.6h1v1h-1zM804.2 729.6h1v1h-1zM842.6 841.0h1v1h-1zM933.4 902.4h1v1h-1zM892.5 883.6h1v1h-1zM830.8 829.2h1v1h-1zM821.9 764.2h1v1h-1zM981.0 912.8h1v1h-1zM780.0 602.4h1v1h-1zM969.2 908.3h1v1h-1zM835.5 833.9h1v1h-1zM813.1 778.1h1v1h-1zM884.2 869.0h1v1h-1zM781.8 626.2h1v1h-1zM808.9 734.9h1v1h-1zM804.8 740.8h1v1h-1zM1028.2 920.1h1v1h-1zM1044.6 925.3h1v1h-1zM793.5 682.0h1v1h-1zM823.8 811.7h1v1h-1zM998.4 913.7h1v1h-1zM784.0 634.2h1v1h-1zM803.6 749.0h1v1h-1zM792.0 663.9h1v1h-1zM922.8 898.9h1v1h-1zM1037.6 921.7h1v1h-1zM886.2 881.3h1v1h-1zM793.0 663.0h1v1h-1zM998.1 913.8h1v1h-1zM792.7 666.9h1v1h-1zM914.6 884.1h1v1h-1zM940.3 899.7h1v1h-1zM779.9 611.0h1v1h-1zM927.0 901.0h1v1h-1zM779.0 601.2h1v1h-1zM926.8 894.3h1v1h-1zM811.3 775.4h1v1h-1zM810.7 756.6h1v1h-1zM825.3 771.7h1v1h-1zM797.9 706.0h1v1h-1zM821.5 811.2h1v1h-1zM805.3 749.0h1v1h-1zM844.4 814.4h1v1h-1zM983.6 911.9h1v1h-1zM958.3 907.2h1v1h-1zM1039.0 923.7h1v1h-1zM970.6 907.1h1v1h-1zM1014.6 916.4h1v1h-1zM815.9 785.2h1v1h-1z" fill="#9c9c9c"/>
<path d="M791.8 939.1h1v1h-1zM790.1 941.1h1v1h-1zM1049.9 929.1h1v1h-1zM794.1 935.9h1v1h-1zM884.4 939.5h1v1h-1zM966.3 933.8h1v1h-1zM917.9 935.1h1v1h-1zM989.5 934.0h1v1h-1zM915.2 935.0h1v1h-1zM919.6 937.4h1v1h-1zM914.6 935.1h1v1h-1zM982.9 936.5h1v1h-1zM877.8 940.1h1v1h-1zM966.6 935.1h1v1h-1zM888.8 935.2h1v1h-1zM993.7 932.7h1v1h-1zM889.9 938.5h1v1h-1zM948.5 936.1h1v1h-1zM798.9 935.8h1v1h-1zM806.8 939.8h1v1h-1zM1022.9 926.1h1v1h-1zM979.4 933.1h1v1h-1zM978.5 937.0h1v1h-1zM820.9 938.8h1v1h-1zM1013.9 931.9h1v1h-1zM847.0 938.2h1v1h-1zM920.9 936.7h1v1h-1zM918.4 939.0h1v1h-1zM909.9 935.9h1v1h-1zM1045.8 931.4h1v1h-1zM1027.9 931.8h1v1h-1zM889.8 936.2h1v1h-1zM946.6 934.5h1v1h-1zM868.9 939.0h1v1h-1zM967.7 934.5h1v1h-1zM919.4 935.9h1v1h-1zM958.6 935.8h1v1h-1zM791.3 941.5h1v1h-1zM1024.4 930.4h1v1h-1zM1007.7 934.8h1v1h-1zM1022.9 928.5h1v1h-1zM892.3 935.1h1v1h-1zM980.5 935.8h1v1h-1zM900.1 937.7h1v1h-1zM886.1 938.8h1v1h-1zM1012.1 932.8h1v1h-1zM805.9 936.9h1v1h-1zM936.7 938.4h1v1h-1zM958.4 936.6h1v1h-1zM1018.9 930.4h1v1h-1zM890.1 938.3h1v1h-1zM855.8 940.9h1v1h-1zM1013.3 933.2h1v1h-1zM957.8 935.8h1v1h-1zM838.5 938.7h1v1h-1zM940.9 938.5h1v1h-1zM838.4 939.0h1v1h-1zM858.9 940.3h1v1h-1zM984.0 934.1h1v1h-1zM986.4 933.5h1v1h-1zM888.4 935.3h1v1h-1zM934.6 937.8h1v1h-1zM942.1 937.2h1v1h-1zM1027.5 930.8h1v1h-1zM792.3 938.0h1v1h-1zM896.8 939.2h1v1h-1zM1027.6 931.1h1v1h-1zM792.5 939.4h1v1h-1zM953.4 935.3h1v1h-1zM1007.6 933.6h1v1h-1zM824.6 940.2h1v1h-1zM855.9 939.0h1v1h-1zM799.8 939.9h1v1h-1zM928.7 937.7h1v1h-1zM1036.2 932.0h1v1h-1zM887.8 938.4h1v1h-1zM957.8 935.6h1v1h-1zM829.4 938.3h1v1h-1zM801.5 937.8h1v1h-1zM825.1 939.4h1v1h-1zM802.6 941.0h1v1h-1zM1032.6 932.5h1v1h-1zM971.1 936.0h1v1h-1zM804.6 939.2h1v1h-1zM813.0 938.3h1v1h-1zM1028.0 929.5h1v1h-1zM987.4 934.5h1v1h-1zM923.9 936.5h1v1h-1zM961.9 935.2h1v1h-1zM1009.4 935.2h1v1h-1zM868.9 937.4h1v1h-1zM1042.3 930.1h1v1h-1zM880.3 938.1h1v1h-1zM845.1 940.0h1v1h-1zM883.1 940.0h1v1h-1zM915.2 937.7h1v1h-1zM864.4 936.8h1v1h-1zM820.3 939.4h1v1h-1zM917.5 937.8h1v1h-1zM967.6 934.1h1v1h-1zM848.0 940.8h1v1h-1zM876.1 938.4h1v1h-1zM1023.7 931.0h1v1h-1zM893.2 936.8h1v1h-1zM909.9 938.7h1v1h-1zM1038.9 929.9h1v1h-1zM814.0 940.1h1v1h-1zM1011.5 934.0h1v1h-1zM869.1 939.8h1v1h-1zM971.1 937.3h1v1h-1zM924.8 937.7h1v1h-1zM985.0 932.9h1v1h-1zM858.9 940.8h1v1h-1zM802.9 938.0h1v1h-1zM1035.5 932.5h1v1h-1zM884.7 937.4h1v1h-1zM810.3 937.3h1v1h-1zM820.8 940.0h1v1h-1zM816.0 940.3h1v1h-1zM997.4 933.4h1v1h-1zM897.8 934.7h1v1h-1zM874.3 940.0h1v1h-1zM930.6 936.4h1v1h-1zM1004.3 934.1h1v1h-1zM974.9 936.4h1v1h-1zM922.4 937.3h1v1h-1zM932.5 938.4h1v1h-1zM1003.0 935.5h1v1h-1zM907.4 936.8h1v1h-1zM935.8 934.4h1v1h-1zM984.2 936.6h1v1h-1zM1029.3 930.0h1v1h-1zM804.7 940.7h1v1h-1zM956.8 936.7h1v1h-1zM847.6 939.7h1v1h-1zM835.7 941.0h1v1h-1zM931.6 936.1h1v1h-1zM793.2 940.7h1v1h-1zM928.5 938.9h1v1h-1zM804.9 940.4h1v1h-1zM829.6 940.1h1v1h-1zM911.6 938.6h1v1h-1zM832.9 940.8h1v1h-1zM874.8 935.3h1v1h-1zM808.8 940.4h1v1h-1zM960.5 937.6h1v1h-1zM988.2 931.2h1v1h-1zM828.6 940.8h1v1h-1zM978.8 932.5h1v1h-1zM1012.4 932.0h1v1h-1zM904.3 934.7h1v1h-1zM889.6 939.8h1v1h-1zM856.9 939.2h1v1h-1zM826.9 941.0h1v1h-1zM1033.5 932.4h1v1h-1zM1045.1 929.6h1v1h-1zM971.2 936.3h1v1h-1zM885.8 939.8h1v1h-1zM866.3 938.2h1v1h-1zM1044.8 931.1h1v1h-1zM860.8 935.5h1v1h-1zM809.7 939.9h1v1h-1zM996.5 934.4h1v1h-1zM1008.6 934.1h1v1h-1zM902.5 936.5h1v1h-1zM1037.3 932.5h1v1h-1zM1033.6 930.4h1v1h-1zM980.8 934.2h1v1h-1zM961.6 933.9h1v1h-1zM989.7 936.0h1v1h-1zM840.8 940.4h1v1h-1zM932.7 938.3h1v1h-1zM817.9 939.9h1v1h-1zM1050.5 929.0h1v1h-1zM982.4 935.4h1v1h-1zM901.9 939.1h1v1h-1zM949.1 934.8h1v1h-1zM875.1 936.4h1v1h-1zM796.1 939.5h1v1h-1zM959.6 934.5h1v1h-1zM1000.5 934.5h1v1h-1zM1005.2 932.2h1v1h-1zM822.8 937.8h1v1h-1zM814.8 940.2h1v1h-1zM834.2 939.9h1v1h-1zM1035.5 931.3h1v1h-1zM863.1 937.7h1v1h-1zM1036.4 932.7h1v1h-1zM869.7 937.4h1v1h-1zM939.2 936.0h1v1h-1zM1037.7 929.6h1v1h-1zM933.0 935.9h1v1h-1zM801.5 940.8h1v1h-1zM820.6 937.8h1v1h-1zM958.6 936.5h1v1h-1zM1005.6 933.4h1v1h-1zM1010.4 935.1h1v1h-1zM930.5 936.1h1v1h-1zM1047.8 928.4h1v1h-1zM810.7 939.9h1v1h-1zM1026.3 932.7h1v1h-1zM962.8 937.4h1v1h-1zM841.5 941.1h1v1h-1zM833.3 937.3h1v1h-1zM1027.7 930.0h1v1h-1zM1047.4 931.6h1v1h-1zM999.8 931.1h1v1h-1zM1035.9 932.2h1v1h-1zM972.5 935.2h1v1h-1zM974.6 936.0h1v1h-1zM885.9 938.9h1v1h-1zM826.9 938.9h1v1h-1zM914.3 936.0h1v1h-1zM845.8 938.6h1v1h-1zM1035.0 930.2h1v1h-1zM958.7 935.7h1v1h-1zM842.1 938.8h1v1h-1zM951.4 935.9h1v1h-1zM838.5 936.3h1v1h-1zM952.1 937.5h1v1h-1zM853.9 938.2h1v1h-1zM803.9 936.9h1v1h-1zM915.3 936.6h1v1h-1zM790.7 941.3h1v1h-1zM817.9 939.9h1v1h-1zM866.5 938.3h1v1h-1zM908.4 938.6h1v1h-1zM1007.3 935.0h1v1h-1zM989.2 935.9h1v1h-1zM810.1 939.4h1v1h-1zM873.3 936.3h1v1h-1zM922.7 938.5h1v1h-1zM1012.0 931.7h1v1h-1zM801.4 941.5h1v1h-1zM825.2 940.8h1v1h-1zM1025.6 932.8h1v1h-1zM804.2 933.4h1v1h-1zM896.6 937.0h1v1h-1zM935.6 937.7h1v1h-1zM878.0 939.8h1v1h-1zM886.7 939.9h1v1h-1zM972.0 932.8h1v1h-1zM837.3 935.6h1v1h-1zM835.8 939.9h1v1h-1zM881.3 934.1h1v1h-1zM796.6 935.8h1v1h-1zM971.1 934.3h1v1h-1zM1010.3 934.4h1v1h-1zM815.1 939.6h1v1h-1zM988.0 935.4h1v1h-1zM977.3 935.9h1v1h-1zM990.5 935.8h1v1h-1zM973.6 933.3h1v1h-1zM1038.6 931.1h1v1h-1zM854.1 939.2h1v1h-1zM859.7 936.5h1v1h-1zM1026.5 931.4h1v1h-1zM942.6 932.5h1v1h-1zM1044.5 928.6h1v1h-1zM887.1 937.3h1v1h-1zM910.1 935.5h1v1h-1zM899.1 937.4h1v1h-1zM1025.6 933.4h1v1h-1zM828.0 938.3h1v1h-1zM834.8 941.0h1v1h-1zM939.4 937.8h1v1h-1zM952.5 934.5h1v1h-1zM933.1 936.0h1v1h-1zM969.1 935.5h1v1h-1zM795.6 940.3h1v1h-1zM831.9 940.5h1v1h-1zM946.3 937.3h1v1h-1zM889.0 937.7h1v1h-1zM1007.2 930.7h1v1h-1zM1042.5 929.7h1v1h-1zM1048.8 930.9h1v1h-1zM990.0 936.2h1v1h-1zM927.3 936.7h1v1h-1zM1011.4 930.7h1v1h-1zM965.7 934.5h1v1h-1zM945.5 936.3h1v1h-1zM896.4 938.6h1v1h-1zM977.5 933.3h1v1h-1zM1019.6 933.1h1v1h-1zM812.8 935.4h1v1h-1zM840.7 940.4h1v1h-1zM1003.4 934.1h1v1h-1zM793.2 940.5h1v1h-1zM902.4 939.1h1v1h-1zM793.0 941.0h1v1h-1zM865.3 937.6h1v1h-1zM857.2 937.9h1v1h-1zM895.7 936.5h1v1h-1zM864.7 938.7h1v1h-1zM883.1 938.5h1v1h-1zM902.6 939.7h1v1h-1zM986.1 935.9h1v1h-1zM881.5 940.4h1v1h-1zM939.6 938.3h1v1h-1zM936.7 936.1h1v1h-1zM885.5 938.1h1v1h-1zM807.2 936.7h1v1h-1zM1027.3 931.1h1v1h-1zM932.9 937.0h1v1h-1zM897.3 936.1h1v1h-1zM873.6 936.8h1v1h-1zM805.8 939.8h1v1h-1zM946.9 933.3h1v1h-1zM987.7 934.9h1v1h-1zM970.9 936.0h1v1h-1zM938.9 937.3h1v1h-1zM880.0 939.7h1v1h-1zM971.2 935.0h1v1h-1zM996.4 934.5h1v1h-1zM818.7 940.0h1v1h-1zM971.8 935.6h1v1h-1zM868.0 939.9h1v1h-1zM979.7 935.1h1v1h-1zM976.7 934.9h1v1h-1zM807.2 940.1h1v1h-1zM1002.0 935.6h1v1h-1zM918.1 935.1h1v1h-1zM906.4 937.8h1v1h-1zM986.2 936.4h1v1h-1zM910.5 936.0h1v1h-1zM929.9 935.7h1v1h-1zM1047.2 929.0h1v1h-1zM930.0 938.9h1v1h-1zM804.1 940.5h1v1h-1zM942.2 937.5h1v1h-1zM861.1 938.7h1v1h-1zM865.9 938.8h1v1h-1zM834.9 939.4h1v1h-1zM811.2 938.3h1v1h-1zM1044.8 930.5h1v1h-1zM863.8 939.6h1v1h-1zM885.4 934.7h1v1h-1zM816.5 941.2h1v1h-1zM940.6 937.2h1v1h-1zM883.1 939.0h1v1h-1zM906.6 936.2h1v1h-1zM915.8 936.4h1v1h-1zM808.1 938.5h1v1h-1zM903.8 936.0h1v1h-1zM892.5 939.6h1v1h-1zM959.9 937.3h1v1h-1zM969.7 935.4h1v1h-1zM1014.3 933.1h1v1h-1zM858.8 938.5h1v1h-1zM934.9 938.3h1v1h-1zM892.4 936.8h1v1h-1zM971.5 932.5h1v1h-1zM1051.5 929.6h1v1h-1zM885.8 937.8h1v1h-1zM1017.1 932.1h1v1h-1zM836.4 938.3h1v1h-1zM932.2 938.1h1v1h-1zM885.9 934.6h1v1h-1zM1039.5 930.5h1v1h-1zM934.5 937.8h1v1h-1zM1033.8 931.5h1v1h-1zM938.4 934.1h1v1h-1zM952.1 935.1h1v1h-1zM957.7 934.2h1v1h-1zM960.0 936.4h1v1h-1zM928.1 934.8h1v1h-1zM874.0 936.1h1v1h-1zM968.0 937.3h1v1h-1zM1010.1 934.3h1v1h-1zM1040.1 930.2h1v1h-1zM1027.3 932.5h1v1h-1zM921.2 936.7h1v1h-1zM802.0 937.7h1v1h-1zM945.9 935.3h1v1h-1zM912.2 939.3h1v1h-1zM895.0 939.5h1v1h-1zM855.7 939.0h1v1h-1zM949.2 936.8h1v1h-1zM1025.2 933.0h1v1h-1zM793.4 940.8h1v1h-1zM1008.8 932.5h1v1h-1zM797.9 940.9h1v1h-1zM817.0 936.0h1v1h-1zM802.4 941.5h1v1h-1zM874.4 937.2h1v1h-1zM848.3 940.5h1v1h-1zM959.2 933.1h1v1h-1zM814.6 935.7h1v1h-1zM867.6 939.0h1v1h-1zM845.9 939.8h1v1h-1zM798.0 940.8h1v1h-1zM985.2 934.9h1v1h-1zM1003.4 935.5h1v1h-1zM943.8 937.9h1v1h-1zM1013.0 932.6h1v1h-1zM901.5 937.2h1v1h-1zM1005.5 933.1h1v1h-1zM920.0 938.7h1v1h-1zM913.6 937.9h1v1h-1zM1008.5 931.7h1v1h-1zM961.3 935.2h1v1h-1zM990.9 936.4h1v1h-1zM824.3 937.5h1v1h-1zM930.1 938.8h1v1h-1zM876.6 936.5h1v1h-1zM833.6 940.8h1v1h-1zM947.6 934.2h1v1h-1zM819.4 940.9h1v1h-1zM1045.2 931.8h1v1h-1zM838.3 935.9h1v1h-1zM978.8 934.2h1v1h-1zM973.0 934.5h1v1h-1zM897.2 937.3h1v1h-1zM912.5 938.5h1v1h-1zM977.4 933.9h1v1h-1zM877.1 936.0h1v1h-1zM1022.6 933.5h1v1h-1zM944.9 937.4h1v1h-1zM853.1 939.3h1v1h-1zM979.9 936.4h1v1h-1zM983.3 936.3h1v1h-1zM802.4 940.2h1v1h-1zM942.8 934.9h1v1h-1zM933.4 936.8h1v1h-1zM1034.2 931.6h1v1h-1zM1006.7 932.0h1v1h-1zM923.1 938.9h1v1h-1zM974.5 936.4h1v1h-1zM964.5 935.6h1v1h-1zM909.3 937.2h1v1h-1zM1030.8 932.5h1v1h-1zM1039.2 931.7h1v1h-1zM989.4 930.6h1v1h-1zM904.4 935.1h1v1h-1zM830.7 938.3h1v1h-1zM891.6 940.0h1v1h-1zM996.2 936.2h1v1h-1zM845.5 934.2h1v1h-1zM864.5 939.8h1v1h-1zM980.0 935.4h1v1h-1zM861.8 938.3h1v1h-1zM854.6 939.3h1v1h-1zM1005.5 930.0h1v1h-1zM831.7 939.2h1v1h-1zM796.8 937.5h1v1h-1zM933.4 937.2h1v1h-1zM1041.3 928.5h1v1h-1zM858.5 940.6h1v1h-1zM895.3 937.6h1v1h-1zM987.0 935.7h1v1h-1zM872.9 939.3h1v1h-1zM1024.6 931.2h1v1h-1zM959.3 935.8h1v1h-1zM850.1 939.2h1v1h-1zM1002.7 933.3h1v1h-1zM1020.0 933.1h1v1h-1zM867.8 933.8h1v1h-1zM870.4 938.4h1v1h-1zM931.5 937.5h1v1h-1zM954.9 936.2h1v1h-1zM900.5 938.2h1v1h-1zM980.5 934.1h1v1h-1zM940.3 937.7h1v1h-1zM828.7 938.9h1v1h-1zM885.4 940.1h1v1h-1zM991.7 936.1h1v1h-1zM927.5 934.9h1v1h-1zM807.4 941.0h1v1h-1zM823.0 941.3h1v1h-1zM1017.8 933.9h1v1h-1zM923.1 934.1h1v1h-1zM897.0 938.9h1v1h-1zM880.0 936.4h1v1h-1zM911.1 937.7h1v1h-1zM978.7 932.8h1v1h-1zM924.7 938.8h1v1h-1zM984.5 933.4h1v1h-1zM900.3 939.7h1v1h-1zM1034.8 929.7h1v1h-1zM936.5 938.4h1v1h-1zM817.1 936.0h1v1h-1zM853.5 938.5h1v1h-1zM993.1 936.3h1v1h-1zM863.9 936.7h1v1h-1zM946.2 938.3h1v1h-1zM1010.3 934.5h1v1h-1zM927.3 938.9h1v1h-1zM935.4 936.5h1v1h-1zM984.3 936.4h1v1h-1zM850.7 940.1h1v1h-1zM956.2 934.4h1v1h-1zM980.6 934.5h1v1h-1zM886.4 939.1h1v1h-1zM949.8 937.5h1v1h-1zM959.7 937.6h1v1h-1zM826.3 937.6h1v1h-1zM1043.9 926.4h1v1h-1zM965.3 935.9h1v1h-1zM846.3 940.7h1v1h-1zM889.2 936.6h1v1h-1z" fill="#8a8a8a"/>
<path d="M971.7 936.8h1v1h-1zM847.1 932.0h1v1h-1zM1042.3 926.8h1v1h-1zM1032.6 929.9h1v1h-1zM1050.0 929.1h1v1h-1zM854.0 937.7h1v1h-1zM918.4 936.5h1v1h-1zM981.9 933.5h1v1h-1zM794.9 936.8h1v1h-1zM976.0 933.2h1v1h-1zM857.8 936.8h1v1h-1zM794.1 940.9h1v1h-1zM1016.4 931.4h1v1h-1zM1034.6 929.4h1v1h-1zM887.0 937.1h1v1h-1zM898.0 939.1h1v1h-1zM1019.1 929.6h1v1h-1zM1028.8 923.8h1v1h-1zM850.5 938.0h1v1h-1zM960.6 936.8h1v1h-1zM932.9 932.4h1v1h-1zM847.6 934.1h1v1h-1zM949.4 935.5h1v1h-1zM993.3 934.7h1v1h-1zM838.3 938.0h1v1h-1zM904.3 930.1h1v1h-1zM908.9 938.6h1v1h-1zM972.5 934.2h1v1h-1zM887.1 935.0h1v1h-1zM859.8 938.6h1v1h-1zM832.8 940.8h1v1h-1zM829.9 935.0h1v1h-1zM1018.8 932.1h1v1h-1zM831.2 937.7h1v1h-1zM936.8 938.4h1v1h-1zM1032.3 931.9h1v1h-1zM974.1 934.2h1v1h-1zM904.4 934.2h1v1h-1zM814.6 940.6h1v1h-1zM864.6 928.7h1v1h-1zM1025.5 927.3h1v1h-1zM826.7 929.7h1v1h-1zM900.8 937.2h1v1h-1zM854.1 936.4h1v1h-1zM795.4 934.1h1v1h-1zM845.5 939.5h1v1h-1zM857.9 938.4h1v1h-1zM995.9 933.4h1v1h-1zM1018.5 931.8h1v1h-1zM939.6 937.1h1v1h-1zM867.3 933.3h1v1h-1zM936.5 932.9h1v1h-1zM861.2 940.6h1v1h-1zM1029.4 924.0h1v1h-1zM882.1 936.8h1v1h-1zM911.9 937.3h1v1h-1zM942.2 935.7h1v1h-1zM931.9 931.1h1v1h-1zM801.4 936.9h1v1h-1zM828.7 937.1h1v1h-1zM933.1 931.8h1v1h-1zM1021.8 929.7h1v1h-1zM949.5 937.9h1v1h-1zM1018.7 931.7h1v1h-1zM1032.8 923.8h1v1h-1zM934.1 932.7h1v1h-1zM903.9 936.1h1v1h-1zM976.8 931.4h1v1h-1zM997.9 930.3h1v1h-1zM1037.2 928.4h1v1h-1zM887.4 934.0h1v1h-1zM931.8 938.1h1v1h-1zM992.7 936.3h1v1h-1zM979.5 935.7h1v1h-1zM840.1 936.5h1v1h-1zM825.5 935.2h1v1h-1zM926.6 938.4h1v1h-1zM1039.9 928.3h1v1h-1zM804.8 936.7h1v1h-1zM967.1 931.1h1v1h-1zM947.8 934.8h1v1h-1zM802.1 939.6h1v1h-1zM930.8 935.3h1v1h-1zM893.6 935.2h1v1h-1zM1021.2 932.4h1v1h-1zM938.6 929.6h1v1h-1zM864.5 936.8h1v1h-1zM868.8 938.3h1v1h-1zM840.5 938.4h1v1h-1zM885.5 931.5h1v1h-1zM820.8 937.0h1v1h-1zM934.3 935.7h1v1h-1zM961.9 936.0h1v1h-1zM1004.7 935.6h1v1h-1zM1017.3 931.1h1v1h-1zM901.8 937.6h1v1h-1zM1008.0 929.9h1v1h-1zM813.8 927.5h1v1h-1zM1026.6 926.3h1v1h-1zM1044.3 929.2h1v1h-1zM979.1 932.3h1v1h-1zM1040.0 929.7h1v1h-1zM1026.7 932.3h1v1h-1zM1029.5 923.4h1v1h-1zM845.9 933.1h1v1h-1zM940.2 932.1h1v1h-1zM1030.0 927.6h1v1h-1zM833.9 938.6h1v1h-1zM861.9 937.5h1v1h-1zM1024.6 930.8h1v1h-1zM1000.2 931.3h1v1h-1zM790.4 939.3h1v1h-1zM820.8 934.3h1v1h-1zM1040.5 919.1h1v1h-1zM863.4 934.8h1v1h-1zM886.4 937.8h1v1h-1zM1027.8 930.0h1v1h-1zM864.9 932.6h1v1h-1zM818.1 939.6h1v1h-1zM840.3 936.9h1v1h-1z" fill="#9c9c9c"/>
<path d="M777.0 652.1h1v1h-1zM775.8 888.4h1v1h-1zM776.3 521.3h1v1h-1zM775.0 751.7h1v1h-1zM775.1 754.1h1v1h-1zM775.1 717.1h1v1h-1zM777.2 746.8h1v1h-1zM775.8 872.2h1v1h-1zM778.4 861.8h1v1h-1zM778.3 928.1h1v1h-1zM776.3 748.3h1v1h-1zM776.4 850.3h1v1h-1zM775.6 615.1h1v1h-1zM776.6 748.6h1v1h-1zM778.5 661.1h1v1h-1zM775.0 682.9h1v1h-1zM778.1 560.3h1v1h-1zM776.8 771.8h1v1h-1zM777.9 657.4h1v1h-1zM777.1 920.0h1v1h-1zM778.4 757.3h1v1h-1zM776.2 793.1h1v1h-1zM777.6 805.7h1v1h-1zM777.4 681.6h1v1h-1zM777.5 667.7h1v1h-1zM775.8 561.9h1v1h-1zM776.9 591.5h1v1h-1zM776.0 645.0h1v1h-1zM776.3 694.9h1v1h-1zM778.4 741.1h1v1h-1zM776.9 688.2h1v1h-1zM776.9 861.9h1v1h-1zM776.8 735.2h1v1h-1zM776.2 597.8h1v1h-1zM775.7 557.5h1v1h-1zM776.0 537.0h1v1h-1zM776.5 760.7h1v1h-1zM775.4 837.4h1v1h-1zM776.6 782.0h1v1h-1zM776.5 853.7h1v1h-1zM777.4 570.8h1v1h-1zM776.9 631.2h1v1h-1zM777.6 675.6h1v1h-1zM775.8 534.2h1v1h-1zM778.5 570.0h1v1h-1zM775.9 911.0h1v1h-1zM775.2 692.4h1v1h-1zM776.5 805.7h1v1h-1zM777.7 929.3h1v1h-1zM776.1 555.5h1v1h-1zM775.8 522.1h1v1h-1zM775.9 780.5h1v1h-1zM778.1 561.7h1v1h-1zM775.9 893.5h1v1h-1zM777.1 687.8h1v1h-1zM775.3 543.6h1v1h-1zM775.8 778.8h1v1h-1zM775.2 731.1h1v1h-1zM777.9 521.0h1v1h-1zM776.0 693.6h1v1h-1zM777.1 829.0h1v1h-1zM777.4 702.3h1v1h-1zM776.2 783.1h1v1h-1zM776.6 910.2h1v1h-1zM776.9 765.9h1v1h-1zM777.3 722.6h1v1h-1zM776.7 798.7h1v1h-1zM777.1 939.4h1v1h-1zM776.1 727.6h1v1h-1zM778.4 862.1h1v1h-1zM776.9 647.8h1v1h-1zM775.6 694.7h1v1h-1zM776.5 701.6h1v1h-1zM775.9 721.8h1v1h-1zM777.0 562.9h1v1h-1zM777.3 818.2h1v1h-1zM775.7 624.5h1v1h-1zM775.1 718.1h1v1h-1zM777.4 692.9h1v1h-1zM777.1 774.1h1v1h-1zM775.2 542.6h1v1h-1zM776.8 908.4h1v1h-1zM777.5 707.2h1v1h-1zM775.9 575.4h1v1h-1zM777.3 841.1h1v1h-1zM776.4 555.8h1v1h-1zM776.0 817.0h1v1h-1zM777.7 688.1h1v1h-1zM778.1 683.7h1v1h-1zM775.1 606.0h1v1h-1zM778.1 816.4h1v1h-1zM775.3 640.3h1v1h-1zM776.4 722.1h1v1h-1zM775.1 907.2h1v1h-1zM776.9 630.9h1v1h-1zM775.1 759.9h1v1h-1zM778.3 821.8h1v1h-1zM778.0 886.9h1v1h-1zM777.3 544.0h1v1h-1zM776.1 764.4h1v1h-1zM776.5 611.2h1v1h-1zM775.2 883.5h1v1h-1zM777.3 645.5h1v1h-1zM776.6 886.4h1v1h-1zM775.5 784.2h1v1h-1zM775.8 900.0h1v1h-1zM777.8 918.2h1v1h-1zM776.3 733.2h1v1h-1zM776.1 667.5h1v1h-1zM778.3 927.3h1v1h-1zM778.5 901.5h1v1h-1zM776.7 797.4h1v1h-1zM778.2 701.0h1v1h-1zM778.2 854.8h1v1h-1zM776.0 671.0h1v1h-1zM777.4 588.9h1v1h-1zM775.9 601.3h1v1h-1zM775.4 901.5h1v1h-1zM778.5 864.6h1v1h-1zM776.8 833.4h1v1h-1zM777.4 705.4h1v1h-1zM776.8 573.6h1v1h-1zM775.8 664.4h1v1h-1zM776.2 796.9h1v1h-1zM775.8 619.8h1v1h-1zM778.1 848.4h1v1h-1zM778.3 847.2h1v1h-1zM775.7 724.9h1v1h-1zM777.9 858.7h1v1h-1zM775.8 722.6h1v1h-1zM777.1 524.6h1v1h-1zM775.9 831.5h1v1h-1zM777.3 707.8h1v1h-1zM777.0 741.6h1v1h-1zM776.2 555.8h1v1h-1zM777.6 844.5h1v1h-1zM776.5 843.2h1v1h-1zM777.9 810.5h1v1h-1zM777.8 925.9h1v1h-1zM775.1 915.6h1v1h-1zM776.6 846.6h1v1h-1zM777.6 561.4h1v1h-1zM777.1 557.4h1v1h-1zM777.6 662.3h1v1h-1zM776.3 634.6h1v1h-1zM777.8 789.1h1v1h-1zM776.0 831.3h1v1h-1zM775.6 856.8h1v1h-1zM777.1 841.7h1v1h-1zM777.2 933.9h1v1h-1zM777.4 714.8h1v1h-1zM777.1 758.1h1v1h-1zM776.0 648.6h1v1h-1zM777.8 863.5h1v1h-1zM778.4 808.2h1v1h-1zM776.8 685.9h1v1h-1zM777.5 792.6h1v1h-1zM778.3 834.0h1v1h-1zM776.3 636.9h1v1h-1zM775.2 847.8h1v1h-1zM776.5 685.6h1v1h-1zM775.2 728.0h1v1h-1zM778.1 636.4h1v1h-1zM777.6 838.8h1v1h-1zM777.3 770.3h1v1h-1zM775.9 803.3h1v1h-1zM777.0 926.1h1v1h-1zM776.8 668.9h1v1h-1zM778.2 782.3h1v1h-1zM776.2 792.9h1v1h-1zM775.5 599.3h1v1h-1zM778.1 714.6h1v1h-1zM777.8 610.2h1v1h-1zM776.6 619.6h1v1h-1zM777.8 770.8h1v1h-1zM776.4 681.5h1v1h-1zM775.7 608.4h1v1h-1zM777.4 651.1h1v1h-1zM775.4 682.1h1v1h-1zM776.6 935.0h1v1h-1zM776.3 689.4h1v1h-1zM778.4 822.9h1v1h-1zM776.6 687.2h1v1h-1zM775.8 584.1h1v1h-1zM776.7 789.0h1v1h-1zM775.4 720.1h1v1h-1zM775.6 772.7h1v1h-1zM776.2 799.7h1v1h-1zM777.7 689.9h1v1h-1zM776.3 553.1h1v1h-1zM775.7 781.1h1v1h-1zM777.8 578.2h1v1h-1zM778.4 904.0h1v1h-1zM776.3 746.4h1v1h-1zM777.4 658.3h1v1h-1zM776.3 823.1h1v1h-1zM776.7 703.5h1v1h-1zM777.0 568.8h1v1h-1zM776.6 643.7h1v1h-1zM775.6 740.3h1v1h-1zM777.5 740.9h1v1h-1zM776.7 801.3h1v1h-1zM776.5 932.3h1v1h-1zM775.7 523.5h1v1h-1zM777.0 812.0h1v1h-1zM776.3 687.6h1v1h-1zM776.2 622.1h1v1h-1zM777.8 882.6h1v1h-1zM776.0 757.1h1v1h-1zM776.6 575.2h1v1h-1zM777.6 743.4h1v1h-1zM778.5 902.1h1v1h-1zM778.2 630.0h1v1h-1zM775.4 860.2h1v1h-1zM775.4 808.7h1v1h-1zM775.6 816.2h1v1h-1zM775.2 556.8h1v1h-1zM778.0 736.5h1v1h-1zM776.6 928.3h1v1h-1zM777.7 614.8h1v1h-1zM777.5 681.9h1v1h-1zM776.6 651.5h1v1h-1zM775.8 647.1h1v1h-1zM776.0 599.3h1v1h-1zM778.1 679.2h1v1h-1zM777.0 860.7h1v1h-1zM777.4 585.8h1v1h-1zM778.3 911.3h1v1h-1zM777.9 658.4h1v1h-1zM777.9 789.6h1v1h-1zM775.1 678.6h1v1h-1zM777.4 748.6h1v1h-1zM778.3 852.1h1v1h-1zM777.9 931.7h1v1h-1zM776.2 901.3h1v1h-1zM775.0 855.4h1v1h-1zM775.3 729.8h1v1h-1zM776.5 550.2h1v1h-1zM777.2 850.8h1v1h-1zM775.8 623.0h1v1h-1zM777.7 742.0h1v1h-1zM775.1 648.8h1v1h-1zM778.3 635.9h1v1h-1zM776.0 709.4h1v1h-1zM778.1 859.9h1v1h-1zM776.3 799.8h1v1h-1zM775.1 547.2h1v1h-1zM776.3 786.3h1v1h-1zM775.5 538.0h1v1h-1zM778.0 598.1h1v1h-1zM775.2 556.0h1v1h-1zM775.3 640.1h1v1h-1zM777.0 795.7h1v1h-1zM776.0 736.4h1v1h-1zM776.2 763.5h1v1h-1zM775.4 782.1h1v1h-1zM775.0 907.6h1v1h-1zM775.7 752.8h1v1h-1zM775.7 706.7h1v1h-1zM775.9 789.2h1v1h-1zM777.7 874.7h1v1h-1zM778.4 711.2h1v1h-1zM776.9 667.6h1v1h-1zM776.0 733.4h1v1h-1zM778.4 543.4h1v1h-1zM777.6 655.6h1v1h-1zM777.1 631.5h1v1h-1zM777.5 728.4h1v1h-1zM776.1 708.1h1v1h-1zM775.0 561.2h1v1h-1zM778.2 554.6h1v1h-1zM776.4 801.2h1v1h-1zM775.1 911.1h1v1h-1zM775.7 924.2h1v1h-1zM776.5 766.2h1v1h-1zM777.1 557.4h1v1h-1zM776.8 834.8h1v1h-1zM777.8 828.5h1v1h-1zM777.4 573.8h1v1h-1zM776.4 733.9h1v1h-1zM775.1 841.7h1v1h-1zM775.4 757.0h1v1h-1zM775.9 588.4h1v1h-1zM778.3 780.5h1v1h-1zM777.6 774.7h1v1h-1zM777.0 886.5h1v1h-1zM775.2 679.0h1v1h-1zM775.8 770.5h1v1h-1zM776.4 906.7h1v1h-1zM775.8 633.0h1v1h-1zM778.2 822.8h1v1h-1zM776.5 676.8h1v1h-1zM777.6 582.4h1v1h-1zM777.5 615.2h1v1h-1zM777.8 551.0h1v1h-1zM778.2 882.0h1v1h-1zM775.1 587.1h1v1h-1zM778.2 864.0h1v1h-1zM776.0 856.4h1v1h-1zM777.0 623.7h1v1h-1z" fill="#c8c8c8"/>
<path d="M1054.6 928.0h1v1h-1zM1089.5 933.0h1v1h-1zM1044.4 928.2h1v1h-1zM1095.1 931.6h1v1h-1zM1060.4 931.3h1v1h-1zM1139.6 930.7h1v1h-1zM1064.5 931.0h1v1h-1zM1158.8 931.5h1v1h-1zM1043.4 929.9h1v1h-1zM1052.4 929.1h1v1h-1zM1044.1 931.1h1v1h-1zM1171.4 931.5h1v1h-1zM1077.3 930.0h1v1h-1zM1089.5 929.0h1v1h-1zM1118.6 932.0h1v1h-1zM1055.1 936.0h1v1h-1zM1098.8 933.0h1v1h-1zM1088.4 930.3h1v1h-1zM1057.9 932.3h1v1h-1zM1041.2 926.9h1v1h-1zM1089.5 930.2h1v1h-1zM1056.5 929.4h1v1h-1zM1042.7 926.7h1v1h-1zM1066.2 929.0h1v1h-1zM1112.8 931.3h1v1h-1zM1039.5 932.2h1v1h-1zM1072.6 928.0h1v1h-1zM1045.4 930.0h1v1h-1zM1041.8 927.5h1v1h-1zM1041.2 932.2h1v1h-1zM1090.3 932.9h1v1h-1zM1070.0 925.4h1v1h-1zM1049.4 928.8h1v1h-1zM1160.3 932.2h1v1h-1zM1076.4 930.3h1v1h-1zM1053.2 931.1h1v1h-1zM1047.1 933.1h1v1h-1zM1114.9 931.8h1v1h-1zM1061.4 930.7h1v1h-1zM1079.2 931.7h1v1h-1zM1066.9 932.1h1v1h-1zM1068.6 931.4h1v1h-1zM1055.6 930.0h1v1h-1zM1118.5 930.8h1v1h-1zM1056.7 929.5h1v1h-1zM1049.8 929.3h1v1h-1zM1041.7 930.2h1v1h-1zM1063.8 929.9h1v1h-1zM1041.8 931.1h1v1h-1zM1056.6 929.3h1v1h-1zM1072.8 927.2h1v1h-1zM1090.7 931.2h1v1h-1zM1076.8 933.3h1v1h-1zM1044.7 929.1h1v1h-1zM1044.6 928.7h1v1h-1zM1064.5 930.3h1v1h-1zM1099.0 930.8h1v1h-1zM1041.9 927.8h1v1h-1zM1081.3 931.0h1v1h-1zM1083.7 929.3h1v1h-1zM1090.3 928.6h1v1h-1zM1104.3 928.0h1v1h-1zM1104.0 930.0h1v1h-1zM1046.2 928.8h1v1h-1zM1044.1 933.6h1v1h-1zM1111.1 929.4h1v1h-1zM1043.7 927.8h1v1h-1zM1067.2 932.8h1v1h-1zM1075.6 931.7h1v1h-1zM1044.8 932.3h1v1h-1zM1071.7 928.0h1v1h-1zM1049.0 929.4h1v1h-1zM1089.6 928.9h1v1h-1zM1086.3 929.1h1v1h-1zM1091.3 927.8h1v1h-1zM1039.5 926.5h1v1h-1zM1047.0 930.1h1v1h-1zM1054.8 925.9h1v1h-1zM1059.8 931.1h1v1h-1zM1113.2 931.7h1v1h-1zM1038.8 928.6h1v1h-1zM1046.6 931.5h1v1h-1zM1038.9 928.0h1v1h-1zM1071.1 929.0h1v1h-1zM1053.2 932.2h1v1h-1zM1093.1 933.1h1v1h-1zM1081.1 930.6h1v1h-1zM1046.5 930.4h1v1h-1zM1060.2 936.3h1v1h-1zM1065.8 928.6h1v1h-1zM1102.1 928.3h1v1h-1zM1080.3 928.1h1v1h-1zM1083.9 929.6h1v1h-1zM1050.0 927.0h1v1h-1zM1064.1 930.0h1v1h-1zM1094.6 929.0h1v1h-1zM1114.3 931.7h1v1h-1zM1047.5 932.2h1v1h-1zM1136.5 929.9h1v1h-1zM1041.8 934.5h1v1h-1zM1089.9 927.4h1v1h-1zM1057.1 933.1h1v1h-1zM1104.6 928.7h1v1h-1zM1063.7 926.5h1v1h-1zM1073.5 928.5h1v1h-1zM1056.0 932.5h1v1h-1zM1138.4 930.7h1v1h-1zM1072.5 930.7h1v1h-1zM1043.3 934.4h1v1h-1zM1067.7 933.3h1v1h-1zM1050.7 931.9h1v1h-1zM1059.4 929.9h1v1h-1zM1067.3 929.4h1v1h-1zM1038.6 929.0h1v1h-1zM1052.3 928.5h1v1h-1zM1074.2 929.8h1v1h-1zM1042.9 929.4h1v1h-1zM1093.3 929.7h1v1h-1zM1097.5 929.3h1v1h-1zM1102.4 931.5h1v1h-1zM1058.6 931.1h1v1h-1zM1085.9 928.8h1v1h-1zM1047.5 930.7h1v1h-1zM1046.7 929.3h1v1h-1zM1038.9 930.6h1v1h-1zM1070.7 933.1h1v1h-1zM1051.5 936.5h1v1h-1zM1051.7 933.9h1v1h-1zM1043.3 926.6h1v1h-1zM1056.2 929.3h1v1h-1zM1083.1 926.9h1v1h-1zM1064.5 929.9h1v1h-1zM1065.7 931.0h1v1h-1zM1074.1 930.0h1v1h-1zM1047.7 932.7h1v1h-1zM1110.4 931.2h1v1h-1zM1044.6 928.0h1v1h-1zM1126.5 931.4h1v1h-1zM1064.1 926.9h1v1h-1zM1063.6 935.1h1v1h-1zM1044.8 929.5h1v1h-1zM1102.6 930.4h1v1h-1zM1073.6 933.9h1v1h-1zM1087.0 929.1h1v1h-1zM1066.7 930.4h1v1h-1zM1039.8 929.5h1v1h-1zM1043.5 930.8h1v1h-1zM1057.8 929.5h1v1h-1zM1047.9 927.5h1v1h-1zM1056.7 925.4h1v1h-1zM1065.0 929.9h1v1h-1zM1087.2 932.7h1v1h-1zM1087.1 933.9h1v1h-1zM1068.4 932.6h1v1h-1zM1040.5 933.7h1v1h-1zM1047.2 932.3h1v1h-1zM1051.3 925.9h1v1h-1zM1054.5 931.1h1v1h-1zM1054.9 933.7h1v1h-1zM1068.7 927.4h1v1h-1zM1048.9 928.4h1v1h-1zM1042.2 929.9h1v1h-1zM1072.1 932.3h1v1h-1zM1042.9 934.1h1v1h-1zM1048.6 932.4h1v1h-1zM1050.0 928.5h1v1h-1zM1059.9 928.3h1v1h-1zM1056.9 930.4h1v1h-1zM1083.0 927.7h1v1h-1zM1073.7 926.9h1v1h-1zM1074.9 927.5h1v1h-1zM1067.7 927.9h1v1h-1zM1062.4 929.9h1v1h-1zM1039.5 930.9h1v1h-1zM1070.1 931.5h1v1h-1zM1052.2 932.8h1v1h-1zM1053.7 928.5h1v1h-1zM1100.7 928.9h1v1h-1zM1058.0 932.8h1v1h-1zM1043.0 930.7h1v1h-1zM1043.3 931.5h1v1h-1zM1047.6 930.0h1v1h-1zM1067.6 926.5h1v1h-1zM1048.7 929.3h1v1h-1zM1120.0 931.2h1v1h-1zM1065.3 931.5h1v1h-1zM1053.8 927.5h1v1h-1zM1049.5 931.1h1v1h-1zM1087.7 932.2h1v1h-1zM1047.7 929.6h1v1h-1zM1046.6 932.7h1v1h-1zM1043.0 932.6h1v1h-1zM1070.9 930.2h1v1h-1zM1070.4 931.6h1v1h-1zM1046.6 928.8h1v1h-1zM1112.4 930.2h1v1h-1zM1073.0 929.5h1v1h-1zM1103.9 929.6h1v1h-1zM1073.5 930.3h1v1h-1zM1083.7 930.6h1v1h-1zM1069.4 927.9h1v1h-1zM1086.0 929.8h1v1h-1zM1068.3 929.1h1v1h-1zM1055.8 931.1h1v1h-1zM1038.7 930.9h1v1h-1zM1090.9 930.2h1v1h-1zM1051.7 927.7h1v1h-1zM1067.7 930.0h1v1h-1zM1071.9 929.0h1v1h-1zM1095.4 932.0h1v1h-1zM1136.5 928.6h1v1h-1zM1081.8 930.6h1v1h-1zM1058.3 928.1h1v1h-1zM1052.1 932.4h1v1h-1zM1049.2 931.6h1v1h-1zM1043.5 927.8h1v1h-1zM1063.2 928.9h1v1h-1zM1093.2 932.4h1v1h-1zM1048.2 926.5h1v1h-1zM1058.0 929.3h1v1h-1zM1117.5 930.8h1v1h-1zM1050.0 927.1h1v1h-1zM1055.5 929.1h1v1h-1zM1114.4 931.6h1v1h-1zM1069.9 930.4h1v1h-1zM1090.7 932.0h1v1h-1zM1065.6 926.4h1v1h-1zM1068.2 929.5h1v1h-1zM1038.1 931.1h1v1h-1zM1047.4 930.9h1v1h-1zM1091.3 930.0h1v1h-1zM1052.4 930.1h1v1h-1zM1064.8 929.4h1v1h-1zM1041.5 928.3h1v1h-1zM1040.9 931.2h1v1h-1zM1071.5 929.9h1v1h-1zM1097.9 929.5h1v1h-1zM1041.4 931.1h1v1h-1zM1080.2 930.2h1v1h-1zM1076.0 930.9h1v1h-1zM1049.0 931.0h1v1h-1zM1046.5 926.7h1v1h-1zM1060.8 927.4h1v1h-1zM1065.7 930.1h1v1h-1zM1082.4 929.3h1v1h-1zM1069.6 930.6h1v1h-1zM1122.6 933.2h1v1h-1zM1101.0 932.1h1v1h-1zM1078.3 932.1h1v1h-1zM1042.2 931.6h1v1h-1zM1052.0 932.1h1v1h-1zM1064.6 928.5h1v1h-1zM1053.7 929.1h1v1h-1zM1065.6 928.5h1v1h-1zM1049.1 927.8h1v1h-1zM1042.1 934.9h1v1h-1zM1081.9 928.2h1v1h-1zM1103.5 930.3h1v1h-1zM1104.5 930.0h1v1h-1zM1076.2 930.0h1v1h-1zM1063.8 934.2h1v1h-1zM1082.3 927.2h1v1h-1zM1077.9 931.1h1v1h-1zM1064.7 929.7h1v1h-1zM1050.9 931.2h1v1h-1zM1052.2 932.2h1v1h-1zM1072.6 931.7h1v1h-1zM1075.5 930.7h1v1h-1zM1052.0 930.0h1v1h-1zM1128.5 931.2h1v1h-1zM1096.0 927.5h1v1h-1zM1069.3 928.5h1v1h-1zM1052.6 930.1h1v1h-1zM1109.7 929.5h1v1h-1zM1049.0 931.0h1v1h-1zM1041.0 926.9h1v1h-1zM1059.5 930.3h1v1h-1zM1089.7 929.8h1v1h-1zM1060.2 925.7h1v1h-1zM1108.4 931.9h1v1h-1zM1056.9 932.1h1v1h-1zM1080.4 933.1h1v1h-1zM1053.1 930.3h1v1h-1zM1061.5 930.3h1v1h-1zM1051.5 930.1h1v1h-1zM1071.6 931.7h1v1h-1zM1060.8 930.1h1v1h-1zM1080.9 929.1h1v1h-1zM1090.1 930.2h1v1h-1zM1099.8 929.9h1v1h-1zM1048.2 930.5h1v1h-1zM1082.6 932.9h1v1h-1zM1056.5 928.5h1v1h-1zM1069.1 932.6h1v1h-1zM1066.7 929.6h1v1h-1zM1089.9 930.4h1v1h-1zM1044.9 931.4h1v1h-1zM1061.0 925.5h1v1h-1zM1047.0 931.6h1v1h-1zM1055.9 931.2h1v1h-1zM1044.7 932.3h1v1h-1zM1042.7 933.4h1v1h-1zM1040.1 931.8h1v1h-1zM1060.3 930.7h1v1h-1zM1055.4 930.4h1v1h-1zM1100.9 930.7h1v1h-1zM1083.7 931.0h1v1h-1zM1082.5 928.8h1v1h-1zM1052.7 932.1h1v1h-1zM1071.2 931.0h1v1h-1zM1061.1 930.5h1v1h-1zM1055.8 931.2h1v1h-1zM1047.5 930.9h1v1h-1zM1058.9 929.2h1v1h-1zM1102.4 930.5h1v1h-1zM1107.0 930.7h1v1h-1zM1046.6 927.5h1v1h-1zM1040.9 930.6h1v1h-1zM1052.1 928.0h1v1h-1zM1042.5 930.9h1v1h-1zM1075.7 933.9h1v1h-1zM1118.2 931.2h1v1h-1zM1055.7 928.7h1v1h-1zM1051.2 934.6h1v1h-1zM1042.7 933.1h1v1h-1zM1081.3 929.6h1v1h-1zM1132.0 932.2h1v1h-1zM1100.6 928.0h1v1h-1zM1046.0 928.4h1v1h-1zM1046.4 930.1h1v1h-1zM1084.5 929.4h1v1h-1zM1116.4 928.7h1v1h-1zM1046.9 936.0h1v1h-1zM1041.9 931.4h1v1h-1zM1057.1 937.1h1v1h-1zM1074.4 929.6h1v1h-1zM1115.8 931.1h1v1h-1zM1067.9 926.2h1v1h-1zM1057.8 931.3h1v1h-1zM1135.6 930.8h1v1h-1zM1102.5 928.7h1v1h-1zM1054.6 932.5h1v1h-1zM1085.4 929.3h1v1h-1zM1058.7 926.4h1v1h-1zM1098.1 931.4h1v1h-1zM1054.1 927.9h1v1h-1zM1113.9 930.5h1v1h-1zM1128.8 928.8h1v1h-1zM1080.4 932.4h1v1h-1zM1115.9 930.0h1v1h-1zM1040.8 932.6h1v1h-1zM1040.9 934.2h1v1h-1zM1039.2 929.6h1v1h-1zM1056.0 930.8h1v1h-1zM1099.0 929.2h1v1h-1zM1047.5 930.7h1v1h-1zM1087.8 929.3h1v1h-1zM1068.2 930.9h1v1h-1zM1055.5 931.4h1v1h-1zM1053.8 928.1h1v1h-1zM1050.1 927.2h1v1h-1zM1042.4 931.8h1v1h-1zM1078.2 927.1h1v1h-1zM1059.1 929.5h1v1h-1zM1039.1 931.0h1v1h-1zM1053.5 932.1h1v1h-1zM1056.6 925.4h1v1h-1zM1057.8 929.4h1v1h-1zM1054.7 930.9h1v1h-1zM1048.1 932.9h1v1h-1zM1063.8 930.2h1v1h-1zM1052.6 934.7h1v1h-1zM1076.9 928.5h1v1h-1zM1053.5 931.7h1v1h-1zM1038.5 929.4h1v1h-1zM1097.7 927.4h1v1h-1zM1046.7 929.4h1v1h-1zM1110.0 931.2h1v1h-1zM1055.4 932.2h1v1h-1zM1074.5 928.0h1v1h-1zM1053.0 933.3h1v1h-1zM1078.4 929.3h1v1h-1zM1088.8 932.0h1v1h-1zM1082.8 928.5h1v1h-1zM1103.8 929.5h1v1h-1zM1068.7 929.8h1v1h-1zM1051.4 928.7h1v1h-1zM1066.4 931.4h1v1h-1zM1071.1 929.7h1v1h-1zM1072.7 934.3h1v1h-1zM1108.2 930.4h1v1h-1zM1085.0 933.0h1v1h-1zM1043.5 930.1h1v1h-1zM1073.0 930.9h1v1h-1zM1042.6 934.6h1v1h-1zM1115.4 931.6h1v1h-1zM1078.4 930.5h1v1h-1zM1045.0 930.6h1v1h-1zM1137.0 931.7h1v1h-1zM1133.8 930.6h1v1h-1zM1075.1 931.5h1v1h-1zM1050.2 928.9h1v1h-1zM1064.1 930.7h1v1h-1zM1097.5 931.8h1v1h-1zM1067.2 924.4h1v1h-1zM1100.2 931.3h1v1h-1zM1045.1 928.5h1v1h-1zM1141.2 932.3h1v1h-1zM1042.0 929.0h1v1h-1zM1061.7 932.9h1v1h-1zM1059.4 932.1h1v1h-1zM1048.8 930.8h1v1h-1zM1090.3 930.7h1v1h-1zM1040.1 929.7h1v1h-1zM1047.9 930.7h1v1h-1zM1061.9 929.7h1v1h-1zM1092.1 934.2h1v1h-1zM1074.9 928.0h1v1h-1zM1060.2 929.3h1v1h-1zM1082.4 926.1h1v1h-1zM1106.0 932.1h1v1h-1zM1053.7 931.3h1v1h-1zM1084.0 927.6h1v1h-1zM1051.9 931.3h1v1h-1zM1066.4 930.2h1v1h-1zM1165.4 931.3h1v1h-1zM1081.8 930.7h1v1h-1zM1045.5 931.3h1v1h-1zM1124.5 929.4h1v1h-1zM1090.7 930.9h1v1h-1zM1064.1 926.3h1v1h-1zM1075.0 930.0h1v1h-1zM1079.3 934.0h1v1h-1zM1106.7 928.9h1v1h-1zM1082.8 932.9h1v1h-1zM1054.5 930.8h1v1h-1zM1066.8 931.5h1v1h-1zM1091.0 931.7h1v1h-1zM1079.1 929.6h1v1h-1zM1076.1 929.4h1v1h-1zM1062.4 931.2h1v1h-1zM1070.3 930.3h1v1h-1zM1050.8 926.1h1v1h-1zM1055.7 927.9h1v1h-1zM1061.0 930.8h1v1h-1zM1044.8 938.1h1v1h-1zM1074.4 929.3h1v1h-1zM1085.7 930.0h1v1h-1zM1049.9 932.3h1v1h-1zM1119.4 931.9h1v1h-1zM1064.8 929.1h1v1h-1zM1066.6 930.6h1v1h-1zM1059.7 929.8h1v1h-1zM1044.5 930.0h1v1h-1zM1083.2 930.9h1v1h-1zM1062.0 930.3h1v1h-1zM1085.6 930.4h1v1h-1zM1042.6 930.7h1v1h-1zM1055.4 931.9h1v1h-1zM1083.2 931.8h1v1h-1zM1047.7 932.7h1v1h-1zM1039.8 929.5h1v1h-1zM1097.8 930.6h1v1h-1zM1088.6 928.9h1v1h-1zM1070.4 927.8h1v1h-1zM1050.4 934.1h1v1h-1zM1039.8 927.1h1v1h-1zM1049.8 929.7h1v1h-1zM1071.1 929.3h1v1h-1zM1110.4 930.1h1v1h-1zM1062.5 932.2h1v1h-1zM1049.4 930.1h1v1h-1zM1066.4 929.8h1v1h-1zM1057.1 930.6h1v1h-1zM1083.5 929.5h1v1h-1zM1058.5 928.8h1v1h-1zM1068.8 930.6h1v1h-1zM1093.7 929.2h1v1h-1zM1087.8 929.5h1v1h-1zM1076.2 934.6h1v1h-1zM1063.2 930.3h1v1h-1zM1094.0 926.8h1v1h-1zM1056.2 928.7h1v1h-1zM1081.5 929.7h1v1h-1zM1092.7 929.5h1v1h-1zM1101.9 928.6h1v1h-1zM1067.4 929.2h1v1h-1zM1066.5 929.1h1v1h-1zM1048.0 928.8h1v1h-1zM1061.0 928.8h1v1h-1zM1100.1 930.5h1v1h-1zM1119.6 932.8h1v1h-1zM1090.1 932.3h1v1h-1zM1042.6 929.6h1v1h-1zM1058.2 930.4h1v1h-1zM1057.3 930.1h1v1h-1zM1072.6 928.5h1v1h-1zM1107.2 933.0h1v1h-1zM1090.1 929.5h1v1h-1zM1040.0 931.3h1v1h-1zM1043.1 930.5h1v1h-1zM1052.8 932.5h1v1h-1zM1092.8 932.2h1v1h-1zM1055.9 931.2h1v1h-1zM1101.4 930.3h1v1h-1zM1049.3 931.4h1v1h-1zM1066.2 931.5h1v1h-1zM1092.4 932.5h1v1h-1zM1040.4 932.1h1v1h-1zM1038.9 928.2h1v1h-1zM1147.2 931.7h1v1h-1zM1069.5 929.4h1v1h-1zM1047.7 932.5h1v1h-1zM1056.2 933.7h1v1h-1zM1087.8 928.7h1v1h-1zM1102.9 932.3h1v1h-1zM1062.7 929.6h1v1h-1zM1050.7 928.8h1v1h-1zM1112.6 930.5h1v1h-1zM1096.2 931.9h1v1h-1z" fill="#84849a"/>
<path d="M782.0 558.1h1v1h-1zM779.7 529.8h1v1h-1zM782.4 579.4h1v1h-1zM778.4 554.6h1v1h-1zM778.0 547.6h1v1h-1zM783.1 637.5h1v1h-1zM777.8 542.3h1v1h-1zM781.1 569.0h1v1h-1zM778.1 544.2h1v1h-1zM781.0 545.2h1v1h-1zM776.6 561.7h1v1h-1zM780.7 582.7h1v1h-1zM782.4 565.0h1v1h-1zM780.9 564.7h1v1h-1zM777.0 535.1h1v1h-1zM780.9 565.7h1v1h-1zM782.4 615.6h1v1h-1zM778.4 526.4h1v1h-1zM780.0 588.3h1v1h-1zM778.6 549.8h1v1h-1zM780.2 564.8h1v1h-1zM780.0 588.8h1v1h-1zM778.6 549.7h1v1h-1zM777.2 520.4h1v1h-1zM784.5 618.1h1v1h-1zM779.6 642.5h1v1h-1zM781.4 611.3h1v1h-1zM782.9 611.5h1v1h-1zM780.6 574.5h1v1h-1zM782.8 598.7h1v1h-1zM782.8 612.4h1v1h-1zM778.8 546.6h1v1h-1zM784.5 602.8h1v1h-1zM786.4 640.6h1v1h-1zM782.0 602.0h1v1h-1zM785.0 619.6h1v1h-1zM779.2 564.8h1v1h-1zM782.1 638.1h1v1h-1zM782.1 620.9h1v1h-1zM782.0 635.7h1v1h-1zM781.5 598.3h1v1h-1zM777.8 534.0h1v1h-1zM782.5 592.5h1v1h-1zM784.0 548.8h1v1h-1zM783.2 636.4h1v1h-1zM782.8 595.0h1v1h-1zM782.6 561.9h1v1h-1zM779.0 533.1h1v1h-1zM781.7 560.3h1v1h-1zM782.8 588.6h1v1h-1zM779.5 561.1h1v1h-1zM781.8 626.6h1v1h-1zM782.3 608.3h1v1h-1zM781.7 523.8h1v1h-1zM783.8 550.6h1v1h-1zM782.3 589.6h1v1h-1zM784.1 629.4h1v1h-1zM783.7 637.0h1v1h-1zM777.8 522.7h1v1h-1zM778.0 570.0h1v1h-1zM783.9 635.7h1v1h-1zM778.3 556.5h1v1h-1zM781.2 540.7h1v1h-1zM782.5 588.2h1v1h-1zM779.0 544.4h1v1h-1zM780.1 559.3h1v1h-1zM783.5 607.0h1v1h-1zM780.9 537.4h1v1h-1zM784.5 634.7h1v1h-1zM787.5 639.4h1v1h-1zM783.7 645.4h1v1h-1zM781.3 529.1h1v1h-1zM784.0 646.4h1v1h-1zM778.9 538.0h1v1h-1zM776.9 533.7h1v1h-1zM786.2 622.6h1v1h-1zM780.5 562.4h1v1h-1zM781.5 590.8h1v1h-1zM784.0 570.6h1v1h-1zM784.0 605.5h1v1h-1zM782.9 649.4h1v1h-1zM777.5 536.6h1v1h-1zM782.9 581.9h1v1h-1zM781.0 603.0h1v1h-1zM781.0 579.8h1v1h-1zM780.0 548.4h1v1h-1zM780.0 544.2h1v1h-1zM783.2 618.2h1v1h-1zM783.4 649.4h1v1h-1zM776.9 547.3h1v1h-1zM781.2 630.4h1v1h-1zM782.0 550.9h1v1h-1zM779.1 558.9h1v1h-1zM779.8 553.6h1v1h-1zM783.9 614.5h1v1h-1zM777.9 605.1h1v1h-1zM778.5 565.6h1v1h-1zM782.4 597.0h1v1h-1zM780.1 639.3h1v1h-1zM779.6 582.1h1v1h-1zM782.5 578.0h1v1h-1zM781.6 582.8h1v1h-1zM777.8 521.5h1v1h-1zM780.4 554.8h1v1h-1zM784.4 634.9h1v1h-1zM781.5 596.4h1v1h-1zM782.6 583.2h1v1h-1zM782.1 589.5h1v1h-1zM780.5 575.3h1v1h-1zM781.8 599.7h1v1h-1zM782.8 599.5h1v1h-1zM785.9 641.4h1v1h-1zM782.3 635.8h1v1h-1zM781.6 617.5h1v1h-1zM780.7 579.0h1v1h-1zM780.3 592.2h1v1h-1zM780.9 615.4h1v1h-1zM779.6 570.0h1v1h-1zM779.6 565.5h1v1h-1zM779.6 577.3h1v1h-1zM780.1 569.2h1v1h-1zM785.8 634.1h1v1h-1zM778.5 545.3h1v1h-1zM780.6 602.8h1v1h-1zM782.2 606.2h1v1h-1zM780.8 567.2h1v1h-1zM779.0 587.8h1v1h-1zM779.7 605.5h1v1h-1zM780.6 604.9h1v1h-1zM781.6 536.8h1v1h-1zM781.9 635.1h1v1h-1zM782.7 610.0h1v1h-1zM782.5 590.6h1v1h-1zM778.9 528.3h1v1h-1zM782.2 597.3h1v1h-1zM785.5 649.8h1v1h-1zM781.2 588.8h1v1h-1zM781.3 549.3h1v1h-1zM782.9 552.8h1v1h-1zM786.1 615.5h1v1h-1zM784.0 566.8h1v1h-1zM786.5 635.7h1v1h-1zM780.4 532.3h1v1h-1zM782.8 648.0h1v1h-1zM780.9 577.3h1v1h-1zM782.0 594.9h1v1h-1zM780.7 551.0h1v1h-1zM782.9 634.8h1v1h-1zM781.3 563.4h1v1h-1zM781.6 641.3h1v1h-1zM781.1 594.8h1v1h-1zM780.8 550.5h1v1h-1zM778.7 533.4h1v1h-1zM784.6 627.0h1v1h-1zM776.6 520.9h1v1h-1zM779.4 540.6h1v1h-1zM783.3 610.1h1v1h-1zM782.0 542.0h1v1h-1zM783.4 634.2h1v1h-1zM780.0 539.5h1v1h-1zM780.6 546.5h1v1h-1zM785.2 646.2h1v1h-1zM778.6 568.7h1v1h-1zM780.6 529.6h1v1h-1zM780.0 531.4h1v1h-1zM778.5 542.7h1v1h-1zM779.4 543.9h1v1h-1zM776.4 571.8h1v1h-1zM781.6 612.5h1v1h-1zM780.6 560.9h1v1h-1zM780.5 564.1h1v1h-1zM781.9 531.8h1v1h-1zM780.7 570.2h1v1h-1zM783.7 645.3h1v1h-1zM781.5 599.9h1v1h-1zM778.8 546.4h1v1h-1zM783.7 629.6h1v1h-1zM783.2 626.2h1v1h-1zM781.6 546.0h1v1h-1zM780.1 532.4h1v1h-1zM784.2 629.3h1v1h-1zM778.3 538.8h1v1h-1zM781.5 586.7h1v1h-1zM782.2 611.6h1v1h-1zM778.5 536.1h1v1h-1zM779.6 530.5h1v1h-1zM780.6 589.5h1v1h-1zM787.1 637.5h1v1h-1zM780.4 614.4h1v1h-1zM780.3 563.2h1v1h-1zM779.6 581.0h1v1h-1zM780.6 577.8h1v1h-1zM786.1 630.8h1v1h-1zM783.3 631.6h1v1h-1zM781.3 559.7h1v1h-1zM781.9 585.0h1v1h-1zM782.6 619.4h1v1h-1zM779.5 621.3h1v1h-1zM782.0 558.8h1v1h-1zM781.1 562.9h1v1h-1zM785.2 633.1h1v1h-1zM781.9 620.6h1v1h-1zM781.0 614.5h1v1h-1zM783.9 643.9h1v1h-1zM778.9 623.7h1v1h-1zM777.3 539.3h1v1h-1zM781.7 620.0h1v1h-1zM778.8 536.5h1v1h-1zM782.6 595.5h1v1h-1zM783.0 636.8h1v1h-1zM785.0 648.3h1v1h-1zM783.2 583.1h1v1h-1zM781.4 563.6h1v1h-1zM784.9 642.4h1v1h-1zM785.2 629.2h1v1h-1zM780.9 584.9h1v1h-1zM777.0 528.0h1v1h-1zM785.2 649.1h1v1h-1zM778.6 528.4h1v1h-1zM783.8 646.3h1v1h-1zM778.9 546.3h1v1h-1zM777.6 546.7h1v1h-1zM780.3 580.0h1v1h-1zM781.3 571.5h1v1h-1zM777.7 528.2h1v1h-1zM777.6 590.4h1v1h-1zM779.9 571.9h1v1h-1zM782.7 616.1h1v1h-1zM783.8 609.8h1v1h-1zM780.2 536.0h1v1h-1zM785.8 611.1h1v1h-1zM779.2 528.4h1v1h-1zM784.1 628.6h1v1h-1zM784.5 612.5h1v1h-1zM784.6 642.1h1v1h-1zM782.0 613.0h1v1h-1zM781.9 575.9h1v1h-1zM785.5 641.9h1v1h-1zM778.0 522.5h1v1h-1zM781.8 634.7h1v1h-1zM781.3 581.8h1v1h-1zM782.3 534.1h1v1h-1zM782.4 609.5h1v1h-1zM780.0 541.8h1v1h-1zM785.4 630.5h1v1h-1zM782.4 539.2h1v1h-1zM786.2 640.7h1v1h-1zM782.4 589.4h1v1h-1zM783.0 597.6h1v1h-1zM783.8 649.1h1v1h-1zM782.3 594.1h1v1h-1zM783.2 649.6h1v1h-1zM781.6 613.7h1v1h-1zM783.8 634.2h1v1h-1zM785.1 592.8h1v1h-1zM782.7 617.3h1v1h-1zM784.2 613.9h1v1h-1zM785.3 612.9h1v1h-1zM779.7 532.7h1v1h-1zM780.1 548.5h1v1h-1zM783.2 619.4h1v1h-1zM778.2 567.9h1v1h-1zM784.7 642.0h1v1h-1zM782.0 577.3h1v1h-1zM779.8 553.9h1v1h-1zM779.8 616.7h1v1h-1zM779.2 562.1h1v1h-1zM781.0 591.4h1v1h-1zM783.4 589.0h1v1h-1zM785.8 625.6h1v1h-1zM784.0 621.1h1v1h-1zM783.5 617.4h1v1h-1zM780.5 625.0h1v1h-1zM778.5 575.4h1v1h-1zM778.5 549.5h1v1h-1zM780.9 569.5h1v1h-1zM782.0 621.7h1v1h-1zM784.2 597.1h1v1h-1zM775.4 522.8h1v1h-1zM782.1 604.2h1v1h-1zM780.2 630.7h1v1h-1zM774.8 525.0h1v1h-1zM781.9 575.3h1v1h-1zM782.8 558.2h1v1h-1zM782.2 606.4h1v1h-1zM781.8 599.9h1v1h-1zM780.4 562.8h1v1h-1zM784.5 602.2h1v1h-1zM779.6 547.8h1v1h-1zM778.2 527.2h1v1h-1zM787.2 635.4h1v1h-1zM782.6 649.3h1v1h-1zM781.1 616.3h1v1h-1zM780.8 589.6h1v1h-1zM785.7 642.7h1v1h-1zM779.3 546.2h1v1h-1zM779.1 589.9h1v1h-1zM785.2 639.9h1v1h-1zM783.8 600.6h1v1h-1zM780.2 536.7h1v1h-1zM782.6 589.8h1v1h-1zM779.1 580.8h1v1h-1zM782.4 540.5h1v1h-1zM780.0 583.5h1v1h-1zM778.1 526.8h1v1h-1zM779.4 571.7h1v1h-1zM780.6 569.2h1v1h-1zM783.2 604.5h1v1h-1zM779.1 587.4h1v1h-1zM782.6 585.4h1v1h-1zM779.2 541.0h1v1h-1zM784.4 606.6h1v1h-1zM782.2 602.4h1v1h-1zM781.5 619.7h1v1h-1zM781.9 595.8h1v1h-1zM783.0 601.4h1v1h-1zM786.3 630.1h1v1h-1zM782.4 627.0h1v1h-1zM782.0 596.7h1v1h-1zM784.9 632.0h1v1h-1zM778.1 555.5h1v1h-1zM778.8 522.3h1v1h-1zM780.0 534.5h1v1h-1zM785.8 622.1h1v1h-1zM781.5 531.4h1v1h-1zM783.5 541.6h1v1h-1zM780.4 624.0h1v1h-1zM781.1 615.8h1v1h-1zM779.4 532.7h1v1h-1zM776.2 525.4h1v1h-1zM783.5 642.5h1v1h-1zM783.3 588.2h1v1h-1zM781.2 592.2h1v1h-1zM783.2 631.0h1v1h-1zM783.1 588.0h1v1h-1zM780.7 544.6h1v1h-1zM780.5 576.1h1v1h-1zM776.8 541.0h1v1h-1zM782.4 557.4h1v1h-1zM779.1 544.1h1v1h-1zM782.1 599.3h1v1h-1zM783.0 605.6h1v1h-1zM780.7 534.6h1v1h-1zM786.0 645.6h1v1h-1zM778.9 528.9h1v1h-1zM778.0 527.6h1v1h-1zM781.2 522.2h1v1h-1zM784.1 638.0h1v1h-1zM778.9 521.7h1v1h-1zM781.3 572.9h1v1h-1zM781.4 561.9h1v1h-1zM781.9 533.6h1v1h-1zM783.6 602.2h1v1h-1zM781.1 536.8h1v1h-1zM780.9 545.6h1v1h-1zM781.1 578.6h1v1h-1zM784.4 605.9h1v1h-1zM779.2 535.1h1v1h-1zM781.6 606.9h1v1h-1zM778.8 570.0h1v1h-1zM785.2 626.6h1v1h-1zM782.5 590.7h1v1h-1zM784.1 639.3h1v1h-1zM779.6 569.8h1v1h-1zM781.6 597.5h1v1h-1zM784.7 649.0h1v1h-1zM781.7 579.1h1v1h-1zM779.3 522.0h1v1h-1zM785.1 638.4h1v1h-1zM785.6 642.8h1v1h-1zM781.9 619.8h1v1h-1zM781.7 607.6h1v1h-1zM783.5 624.9h1v1h-1zM782.0 573.5h1v1h-1zM783.6 597.8h1v1h-1zM778.7 554.7h1v1h-1zM783.2 614.3h1v1h-1zM779.2 521.2h1v1h-1zM780.3 594.9h1v1h-1zM780.9 592.0h1v1h-1zM780.1 544.4h1v1h-1zM782.9 572.5h1v1h-1zM783.0 584.9h1v1h-1zM781.9 616.7h1v1h-1zM778.3 527.9h1v1h-1zM779.7 545.8h1v1h-1zM778.9 544.5h1v1h-1zM784.6 641.5h1v1h-1zM780.1 559.1h1v1h-1zM781.2 568.0h1v1h-1zM779.8 621.9h1v1h-1zM781.1 600.2h1v1h-1zM779.5 603.7h1v1h-1zM782.5 578.5h1v1h-1zM779.8 538.1h1v1h-1zM781.7 527.5h1v1h-1zM777.9 543.5h1v1h-1zM779.5 580.5h1v1h-1zM780.4 604.8h1v1h-1zM779.8 525.0h1v1h-1zM783.0 573.6h1v1h-1zM780.2 564.3h1v1h-1zM783.9 601.0h1v1h-1zM780.7 574.1h1v1h-1zM784.0 626.8h1v1h-1zM781.5 606.9h1v1h-1zM778.5 558.8h1v1h-1zM782.9 567.1h1v1h-1zM780.6 638.9h1v1h-1zM779.5 536.8h1v1h-1zM784.0 572.6h1v1h-1zM784.4 635.7h1v1h-1zM777.2 583.2h1v1h-1zM781.7 570.3h1v1h-1zM782.6 559.8h1v1h-1zM785.9 624.3h1v1h-1zM781.2 588.5h1v1h-1zM779.4 606.9h1v1h-1zM777.2 534.1h1v1h-1zM778.7 581.8h1v1h-1z" fill="#8c8c8c"/>
<path d="M794.9 776.4C796.2 776.4 796.7 783.1 797.8 787.5C798.9 791.9 799.9 797.8 801.3 802.6C802.7 807.5 804.2 811.8 806 816.6C807.8 821.5 809.5 826.9 811.8 831.7C814.1 836.6 817 841.4 819.9 845.7C822.8 850 825.9 853.6 829.2 857.3C832.5 861 836.2 864.5 839.7 867.8C843.2 871.1 846.5 874.2 850.2 877.1C853.9 880 856 882.1 861.8 885.3C867.5 888.5 878 893.1 884.7 896.1C891.4 899.1 896.3 900.9 902.2 903.1C908.1 905.3 913.4 907.5 920 909.5C926.6 911.5 936 913.7 942.1 915.4C948.2 917.1 953.2 918.5 956.9 919.8C960.6 921.1 962.7 922.1 964.5 923C966.3 923.9 967.6 924.4 967.5 925C967.4 925.6 965.8 926 964 926.5C962.2 927 960.5 927.6 956.9 928C953.2 928.4 948.2 928.8 942.1 929C936 929.2 928.4 929.4 920 929.4C911.6 929.4 899.9 929.3 891.7 928.9C883.5 928.5 877.2 927.8 870.8 926.7C864.4 925.6 859.1 924.2 853.3 922.3C847.5 920.4 841.3 918.2 835.8 915.3C830.3 912.4 825.1 909.7 820.1 904.9C815.1 900.1 809.1 891.4 806 886.4C802.9 881.4 802.9 879.6 801.3 874.8C799.7 869.9 797.9 863.1 796.6 857.3C795.3 851.5 794.6 845.7 793.7 839.9C792.8 834.1 792.1 828.2 791.4 822.4C790.7 816.6 789.9 810.7 789.7 804.9C789.5 799.1 789.3 792.2 790.2 787.5C791.1 782.8 793.6 776.4 794.9 776.4Z" fill="none" stroke="#000" stroke-width="2.5" stroke-linejoin="round"/>
<path d="M786.3 656C787.3 655.8 787.7 667.5 788.6 673.5C789.5 679.5 790.9 684.9 791.7 692.1C792.5 699.4 792.4 710.3 793.3 717C794.2 723.7 796.3 727.3 797.2 732.5C798.1 737.7 797.9 742.8 798.7 748C799.5 753.2 800.8 759 801.8 763.5C802.8 768 803.6 770.1 804.8 774.7C806 779.3 807.6 785.8 808.9 791C810.2 796.2 811.1 801.2 812.4 806.1C813.6 811 814.7 815.6 816.4 820.1C818.1 824.6 820.4 829 822.8 833.4C825.2 837.8 828 842.1 831 846.3C834 850.5 837.5 854.5 840.9 858.5C844.3 862.5 847.7 866.8 851.4 870.1C855.1 873.4 858.9 875.8 863 878.3C867.1 880.8 872.2 883.3 875.8 885.3C879.4 887.3 880.3 888.3 884.7 890.5C889.1 892.7 896.3 896.4 902.2 898.6C908.1 900.8 912.7 902 920 903.8C927.3 905.5 936.6 907.2 945.8 909.1C955 911 965.5 913.7 975.3 915.4C985.1 917.1 996.8 918.2 1004.8 919.4C1012.8 920.6 1018 921.5 1023.3 922.8C1028.6 924.1 1036.2 926.1 1036.8 927.2C1037.4 928.3 1031.1 928.8 1027 929.6C1022.9 930.4 1019 931.2 1012.2 932C1005.4 932.8 996.2 933.6 986.4 934.2C976.6 934.8 964.3 935.1 953.2 935.5C942.1 935.9 934.5 936.5 920 936.8C905.5 937.1 881.2 937.1 865.9 937.1C850.6 937.1 839.8 937.2 828 937C816.2 936.8 803.1 935.9 795.3 935.8C787.5 935.7 783.8 938.3 781 936.5C778.2 934.7 778.7 931.1 778.5 925C778.3 918.9 779.9 910.8 780 900C780.1 889.2 778.9 873.3 779 860C779.1 846.7 780.6 831.7 780.5 820C780.4 808.3 778.8 799.9 778.5 790C778.2 780.1 778.6 767.6 778.5 760.4C778.4 753.1 777.9 753.7 777.8 746.5C777.7 739.3 777.7 724.2 777.8 717C777.9 709.8 778.2 707.7 778.5 703C778.8 698.3 778.6 693.7 779.3 689C779.9 684.3 781.2 680.5 782.4 675C783.6 669.5 785.3 656.2 786.3 656Z" fill="none" stroke="#000" stroke-width="2.9" stroke-dasharray="6.5 5.2" stroke-linejoin="round"/>
<path d="M780.5 850C784 870 789 892 800 920" fill="none" stroke="#000" stroke-width="3" stroke-dasharray="6 6"/>
<path d="M779 812C784 822 783 836 779.5 842" fill="none" stroke="#000" stroke-width="2.6" stroke-dasharray="5 4"/>
<ellipse cx="791" cy="767.2" rx="2.2" ry="3" fill="#000"/>
<circle cx="780.5" cy="803" r="1.8" fill="#000"/>
</g>
<path d="M80.5 304 L91.4 304 L91.4 10.8 L102.5 10.8 L102.5 53.5 L113.6 53.5 L113.6 107 L124.7 107 L124.7 175.4 L135.8 175.4 L135.8 249.1 L146.9 249.1 L146.9 311.6 L158 311.6 L158 364.8 L169.1 364.8 L169.1 401.7 L180.2 401.7 L180.2 426.6 L191.3 426.6 L191.3 447.2 L202.4 447.2 L202.4 458.3 L213.5 458.3 L213.5 465.3 L224.6 465.3 L224.6 469.9 L235.7 469.9 L235.7 473.6 L246.8 473.6 L246.8 475.6 L257.9 475.6 L257.9 477.1 L269 477.1 L269 478 L280.1 478 L280.1 478.5 L291.2 478.5 L291.2 478.9 L302.3 478.9 L302.3 479.2 L313.4 479.2 L313.4 479.4 L324.5 479.4 L324.5 479.5 L335.6 479.5 L335.6 479.6 L346.7 479.6 L346.7 479.6 L470 480.1" fill="none" stroke="#000" stroke-width="2.7" stroke-linejoin="miter"/>
<path d="M80.5 304V480" stroke="#7c7c7c" stroke-width="3.4" fill="none"/>
<path d="M80.5 479.3 L91.3 479.3 L91.3 478.5 L102.4 478.5 L102.4 454.6 L113.4 454.6 L113.4 380.5 L124.5 380.5 L124.5 268.8 L135.6 268.8 L135.6 137.4 L146.7 137.4 L146.7 43.9 L157.7 43.9 L157.7 11.4 L168.8 11.4 L168.8 33.6 L179.9 33.6 L179.9 73.8 L190.9 73.8 L190.9 135.9 L202 135.9 L202 189.1 L213.1 189.1 L213.1 243.9 L224.1 243.9 L224.1 282.6 L235.2 282.6 L235.2 319.5 L246.3 319.5 L246.3 351.4 L257.4 351.4 L257.4 373.1 L268.4 373.1 L268.4 393.4 L279.5 393.4 L279.5 406.5 L290.6 406.5 L290.6 420.6 L301.6 420.6 L301.6 429.6 L312.7 429.6 L312.7 438 L323.8 438 L323.8 445.7 L334.8 445.7 L334.8 453.3 L345.9 453.3 L345.9 456.6 L357 456.6 L357 460.8 L368.1 460.8 L368.1 466.2 L379.1 466.2 L379.1 467.9 L390.2 467.9 L390.2 469.4 L401.3 469.4 L401.3 471.8 L412.3 471.8 L412.3 473 L423.4 473 L423.4 473.7 L434.5 473.7 L434.5 475.1 L445.5 475.1 L445.5 475.8 L456.6 475.8 L456.6 476.1 L467.7 476.1 L467.7 476.5 L478.8 476.5 L478.8 477.1 L489.8 477.1 L489.8 477.6 L500.9 477.6 L500.9 478 L512 478 L512 478.2 L523 478.2 L523 478.4 L534.1 478.4 L534.1 478.6 L545.2 478.6 L545.2 478.7 L556.2 478.7 L556.2 478.8" fill="none" stroke="#000" stroke-width="3" stroke-dasharray="4.8 4.8" stroke-linejoin="miter"/>
<path d="M556.2 478.8 L567.3 478.8 L567.3 478.9 L578.4 478.9 L578.4 479.1 L589.5 479.1 L589.5 479.2 L600.5 479.2 L600.5 479.2 L611.6 479.2 L611.6 479.3 L622.7 479.3 L622.7 479.3 L633.7 479.3 L633.7 479.4 L644.8 479.4 L644.8 479.4 L655.9 479.4 L655.9 479.4 L666.9 479.4 L666.9 479.5 L678 479.5 L678 479.5 L689.1 479.5 L689.1 479.5 L700.1 479.5 L700.1 479.5 L711.2 479.5 L711.2 479.6 L722.3 479.6 L722.3 479.6 L733.4 479.6 L733.4 479.6 L744.4 479.6 L744.4 479.6 L755.5 479.6 L755.5 479.6 L766.6 479.6" fill="none" stroke="#8a8a8a" stroke-width="3" stroke-dasharray="4.8 4.8" stroke-linejoin="miter"/>
<path d="M773.9 479.6 L773.9 185.8 L788.9 185.8 L788.9 11.1 L802.7 11.1 L802.7 38.2 L816.4 38.2 L816.4 75.6 L830.2 75.6 L830.2 119.9 L843.9 119.9 L843.9 164.1 L857.7 164.1 L857.7 205.2 L871.5 205.2 L871.5 249.8 L885.2 249.8 L885.2 283.9 L899 283.9 L899 321.4 L912.7 321.4 L912.7 353.2 L926.5 353.2 L926.5 382.7 L940.3 382.7 L940.3 406.3 L954 406.3 L954 426.4 L967.8 426.4 L967.8 441.3 L981.5 441.3 L981.5 451.3 L995.3 451.3 L995.3 458.9 L1009.1 458.9 L1009.1 466.1 L1022.8 466.1 L1022.8 471.5 L1036.6 471.5 L1036.6 474.6 L1050.3 474.6 L1050.3 477.1 L1064.1 477.1 L1064.1 478.3 L1077.9 478.3 L1077.9 478.9 L1091.6 478.9 L1091.6 479.3 L1105.4 479.3 L1105.4 479.5 L1119.1 479.5 L1119.1 479.6 L1132.9 479.6 L1132.9 479.6 L1235 480.1" fill="none" stroke="#000" stroke-width="2.7" stroke-linejoin="miter"/>
<path d="M773.9 478.5 L802.3 478.5 L802.3 448.2 L829.9 448.2 L829.9 354.1 L857.5 354.1 L857.5 203.9 L885.1 203.9 L885.1 67.3 L912.7 67.3 L912.7 11.1 L940.3 11.1 L940.3 43.9 L967.9 43.9 L967.9 142 L995.5 142 L995.5 250.4 L1023.1 250.4 L1023.1 346.5 L1050.7 346.5 L1050.7 410.4 L1078.3 410.4 L1078.3 446.3 L1105.9 446.3 L1105.9 463.2 L1133.5 463.2 L1133.5 473.3 L1161.1 473.3 L1161.1 477.2 L1188.7 477.2 L1188.7 478.2 L1216.3 478.2 L1216.3 478.7 L1243.9 478.7 L1243.9 479.1 L1271.5 479.1 L1271.5 479.3" fill="none" stroke="#000" stroke-width="3" stroke-dasharray="4.8 4.8" stroke-linejoin="miter"/>
<path d="M1271.5 479.3 L1299.1 479.3 L1299.1 479.4 L1326.7 479.4 L1326.7 479.5 L1354.3 479.5 L1354.3 479.5 L1381.9 479.5 L1381.9 479.6 L1409.5 479.6 L1409.5 479.6 L1437.1 479.6 L1437.1 479.6 L1464.7 479.6" fill="none" stroke="#9a9a9a" stroke-width="3" stroke-dasharray="4.8 4.8" stroke-linejoin="miter"/>
<path d="M1469.2 954 L1469.2 954 L1469.2 941.2 L1666.1 941.2 L1666.1 928.4 L2157.6 928.4 L2157.6 915.6 L2132.3 915.6 L2132.3 902.8 L1943.3 902.8 L1943.3 890 L1805 890 L1805 877.3 L1713.7 877.3 L1713.7 864.5 L1654.1 864.5 L1654.1 851.7 L1614.1 851.7 L1614.1 838.9 L1583.8 838.9 L1583.8 826.1 L1564.3 826.1 L1564.3 813.3 L1546.9 813.3 L1546.9 800.5 L1533.7 800.5 L1533.7 787.7 L1521.9 787.7 L1521.9 774.9 L1513.4 774.9 L1513.4 762.1 L1504.6 762.1 L1504.6 749.4 L1497.9 749.4 L1497.9 736.6 L1494.2 736.6 L1494.2 723.8 L1488 723.8 L1488 711 L1485.8 711 L1485.8 698.2 L1483.2 698.2 L1483.2 685.4 L1480.6 685.4 L1480.6 672.6 L1477.6 672.6 L1477.6 659.8 L1475.8 659.8 L1475.8 647 L1474.3 647 L1474.3 634.2 L1473.3 634.2 L1473.3 621.5 L1472.6 621.5 L1472.6 608.7 L1472 608.7 L1472 595.9 L1471.5 595.9 L1471.5 583.1 L1471.1 583.1 L1471.1 570.3 L1470.8 570.3 L1470.8 557.5 L1470.5 557.5 L1470.5 544.7 L1470.3 544.7 L1470.3 531.9 L1470.1 531.9 L1470.1 519.1 L1469.6 519.1 L1469.6 506.3 L1469.5 506.3 L1469.5 493.6 L1469.2 493.6" fill="none" stroke="#000" stroke-width="2.5" stroke-linejoin="miter"/>
<path d="M1470.5 946.3 L1470.5 943.8 L1579 943.8 L1579 941.2 L1820 941.2 L1820 938.7 L1951 938.7 L1951 936.1 L2023 936.1 L2023 933.5 L2114 933.5 L2114 931 L2157 931 L2157 928.4 L2101 928.4 L2101 925.9 L2001 925.9 L2001 923.3 L1888 923.3 L1888 920.7 L1776 920.7 L1776 918.2 L1693 918.2 L1693 915.6 L1634 915.6 L1634 913.1 L1588 913.1 L1588 910.5 L1551 910.5 L1551 908 L1524 908 L1524 905.4 L1505 905.4 L1505 902.8 L1495 902.8 L1495 900.3 L1489 900.3 L1489 897.7 L1484.5 897.7 L1484.5 895.2 L1481 895.2 L1481 892.6 L1478.5 892.6 L1478.5 890 L1476.5 890 L1476.5 887.5 L1475 887.5 L1475 884.9 L1474 884.9 L1474 882.4 L1473 882.4 L1473 879.8 L1472.3 879.8 L1472.3 877.3 L1471.7 877.3 L1471.7 874.7 L1471.2 874.7 L1471.2 872.1 L1470.8 872.1 L1470.8 869.6 L1470.5 869.6 L1470.5 867 L1470.2 867 L1470.2 864.5" fill="none" stroke="#000" stroke-width="3" stroke-dasharray="4.8 4.8" stroke-linejoin="miter"/>
<path d="M80.5 6L1469.2 6M79.8 480.1L2165.4 480.1M79.8 954L2165.4 954M80.5 5.3L80.5 954M773.9 6L773.9 954M1469.2 5.3L1469.2 954M2164.7 480.1L2164.7 954M124.6 6L124.6 14.5M124.6 471.6L124.6 488.6M124.6 945.5L124.6 954M168.9 6L168.9 14.5M168.9 471.6L168.9 488.6M168.9 945.5L168.9 954M213.2 6L213.2 14.5M213.2 471.6L213.2 488.6M213.2 945.5L213.2 954M257.5 6L257.5 14.5M257.5 471.6L257.5 488.6M257.5 945.5L257.5 954M301.8 6L301.8 14.5M301.8 471.6L301.8 488.6M301.8 945.5L301.8 954M346.1 6L346.1 14.5M346.1 471.6L346.1 488.6M346.1 945.5L346.1 954M390.4 6L390.4 14.5M390.4 471.6L390.4 488.6M390.4 945.5L390.4 954M434.7 6L434.7 14.5M434.7 471.6L434.7 488.6M434.7 945.5L434.7 954M479 6L479 14.5M479 471.6L479 488.6M479 945.5L479 954M523.3 6L523.3 14.5M523.3 471.6L523.3 488.6M523.3 945.5L523.3 954M567.6 6L567.6 14.5M567.6 471.6L567.6 488.6M567.6 945.5L567.6 954M611.9 6L611.9 14.5M611.9 471.6L611.9 488.6M611.9 945.5L611.9 954M656.2 6L656.2 14.5M656.2 471.6L656.2 488.6M656.2 945.5L656.2 954M700.5 6L700.5 14.5M700.5 471.6L700.5 488.6M700.5 945.5L700.5 954M744.8 6L744.8 14.5M744.8 471.6L744.8 488.6M744.8 945.5L744.8 954M829.1 6L829.1 14.5M829.1 471.6L829.1 488.6M829.1 945.5L829.1 954M884.2 6L884.2 14.5M884.2 471.6L884.2 488.6M884.2 945.5L884.2 954M939.3 6L939.3 14.5M939.3 471.6L939.3 488.6M939.3 945.5L939.3 954M994.4 6L994.4 14.5M994.4 471.6L994.4 488.6M994.4 945.5L994.4 954M1049.5 6L1049.5 14.5M1049.5 471.6L1049.5 488.6M1049.5 945.5L1049.5 954M1104.6 6L1104.6 14.5M1104.6 471.6L1104.6 488.6M1104.6 945.5L1104.6 954M1159.7 6L1159.7 14.5M1159.7 471.6L1159.7 488.6M1159.7 945.5L1159.7 954M1214.8 6L1214.8 14.5M1214.8 471.6L1214.8 488.6M1214.8 945.5L1214.8 954M1269.9 6L1269.9 14.5M1269.9 471.6L1269.9 488.6M1269.9 945.5L1269.9 954M1325 6L1325 14.5M1325 471.6L1325 488.6M1325 945.5L1325 954M1380.1 6L1380.1 14.5M1380.1 471.6L1380.1 488.6M1380.1 945.5L1380.1 954M1435.2 6L1435.2 14.5M1435.2 471.6L1435.2 488.6M1435.2 945.5L1435.2 954M1503.1 480.1L1503.1 488.6M1503.1 945.5L1503.1 954M1537.5 480.1L1537.5 488.6M1537.5 945.5L1537.5 954M1571.9 480.1L1571.9 488.6M1571.9 945.5L1571.9 954M1606.3 480.1L1606.3 488.6M1606.3 945.5L1606.3 954M1640.8 480.1L1640.8 488.6M1640.8 945.5L1640.8 954M1675.2 480.1L1675.2 488.6M1675.2 945.5L1675.2 954M1709.6 480.1L1709.6 488.6M1709.6 945.5L1709.6 954M1744 480.1L1744 488.6M1744 945.5L1744 954M1778.4 480.1L1778.4 488.6M1778.4 945.5L1778.4 954M1812.8 480.1L1812.8 488.6M1812.8 945.5L1812.8 954M1847.2 480.1L1847.2 488.6M1847.2 945.5L1847.2 954M1881.6 480.1L1881.6 488.6M1881.6 945.5L1881.6 954M1916 480.1L1916 488.6M1916 945.5L1916 954M1950.4 480.1L1950.4 488.6M1950.4 945.5L1950.4 954M1984.8 480.1L1984.8 488.6M1984.8 945.5L1984.8 954M2019.3 480.1L2019.3 488.6M2019.3 945.5L2019.3 954M2053.7 480.1L2053.7 488.6M2053.7 945.5L2053.7 954M2088.1 480.1L2088.1 488.6M2088.1 945.5L2088.1 954M2122.5 480.1L2122.5 488.6M2122.5 945.5L2122.5 954M2156.9 480.1L2156.9 488.6M2156.9 945.5L2156.9 954M80.5 455.7L89 455.7M765.4 455.7L782.4 455.7M1460.7 455.7L1469.2 455.7M80.5 432.2L89 432.2M765.4 432.2L782.4 432.2M1460.7 432.2L1469.2 432.2M80.5 408.8L89 408.8M765.4 408.8L782.4 408.8M1460.7 408.8L1469.2 408.8M80.5 385.3L89 385.3M765.4 385.3L782.4 385.3M1460.7 385.3L1469.2 385.3M80.5 361.8L89 361.8M765.4 361.8L782.4 361.8M1460.7 361.8L1469.2 361.8M80.5 338.3L89 338.3M765.4 338.3L782.4 338.3M1460.7 338.3L1469.2 338.3M80.5 314.9L89 314.9M765.4 314.9L782.4 314.9M1460.7 314.9L1469.2 314.9M80.5 291.4L89 291.4M765.4 291.4L782.4 291.4M1460.7 291.4L1469.2 291.4M80.5 267.9L89 267.9M765.4 267.9L782.4 267.9M1460.7 267.9L1469.2 267.9M80.5 244.4L89 244.4M765.4 244.4L782.4 244.4M1460.7 244.4L1469.2 244.4M80.5 220.9L89 220.9M765.4 220.9L782.4 220.9M1460.7 220.9L1469.2 220.9M80.5 197.5L89 197.5M765.4 197.5L782.4 197.5M1460.7 197.5L1469.2 197.5M80.5 174L89 174M765.4 174L782.4 174M1460.7 174L1469.2 174M80.5 150.5L89 150.5M765.4 150.5L782.4 150.5M1460.7 150.5L1469.2 150.5M80.5 127L89 127M765.4 127L782.4 127M1460.7 127L1469.2 127M80.5 103.6L89 103.6M765.4 103.6L782.4 103.6M1460.7 103.6L1469.2 103.6M80.5 80.1L89 80.1M765.4 80.1L782.4 80.1M1460.7 80.1L1469.2 80.1M80.5 56.6L89 56.6M765.4 56.6L782.4 56.6M1460.7 56.6L1469.2 56.6M80.5 33.1L89 33.1M765.4 33.1L782.4 33.1M1460.7 33.1L1469.2 33.1M80.5 9.6L89 9.6M765.4 9.6L782.4 9.6M1460.7 9.6L1469.2 9.6M80.5 928.4L89 928.4M765.4 928.4L782.4 928.4M1460.7 928.4L1477.7 928.4M2156.2 928.4L2164.7 928.4M80.5 902.8L89 902.8M765.4 902.8L782.4 902.8M1460.7 902.8L1477.7 902.8M2156.2 902.8L2164.7 902.8M80.5 877.3L89 877.3M765.4 877.3L782.4 877.3M1460.7 877.3L1477.7 877.3M2156.2 877.3L2164.7 877.3M80.5 851.7L89 851.7M765.4 851.7L782.4 851.7M1460.7 851.7L1477.7 851.7M2156.2 851.7L2164.7 851.7M80.5 826.1L89 826.1M765.4 826.1L782.4 826.1M1460.7 826.1L1477.7 826.1M2156.2 826.1L2164.7 826.1M80.5 800.5L89 800.5M765.4 800.5L782.4 800.5M1460.7 800.5L1477.7 800.5M2156.2 800.5L2164.7 800.5M80.5 774.9L89 774.9M765.4 774.9L782.4 774.9M1460.7 774.9L1477.7 774.9M2156.2 774.9L2164.7 774.9M80.5 749.4L89 749.4M765.4 749.4L782.4 749.4M1460.7 749.4L1477.7 749.4M2156.2 749.4L2164.7 749.4M80.5 723.8L89 723.8M765.4 723.8L782.4 723.8M1460.7 723.8L1477.7 723.8M2156.2 723.8L2164.7 723.8M80.5 698.2L89 698.2M765.4 698.2L782.4 698.2M1460.7 698.2L1477.7 698.2M2156.2 698.2L2164.7 698.2M80.5 672.6L89 672.6M765.4 672.6L782.4 672.6M1460.7 672.6L1477.7 672.6M2156.2 672.6L2164.7 672.6M80.5 647L89 647M765.4 647L782.4 647M1460.7 647L1477.7 647M2156.2 647L2164.7 647M80.5 621.5L89 621.5M765.4 621.5L782.4 621.5M1460.7 621.5L1477.7 621.5M2156.2 621.5L2164.7 621.5M80.5 595.9L89 595.9M765.4 595.9L782.4 595.9M1460.7 595.9L1477.7 595.9M2156.2 595.9L2164.7 595.9M80.5 570.3L89 570.3M765.4 570.3L782.4 570.3M1460.7 570.3L1477.7 570.3M2156.2 570.3L2164.7 570.3M80.5 544.7L89 544.7M765.4 544.7L782.4 544.7M1460.7 544.7L1477.7 544.7M2156.2 544.7L2164.7 544.7M80.5 519.1L89 519.1M765.4 519.1L782.4 519.1M1460.7 519.1L1477.7 519.1M2156.2 519.1L2164.7 519.1M80.5 493.6L89 493.6M765.4 493.6L782.4 493.6M1460.7 493.6L1477.7 493.6M2156.2 493.6L2164.7 493.6" stroke="#6e6e6e" stroke-width="1.5" fill="none"/>
<text transform="translate(73.9 18.4) scale(0.945 1)" font-size="24.2" text-anchor="end" >1.</text>
<text transform="translate(73 111.6) scale(0.945 1)" font-size="24.2" text-anchor="end" >0.8</text>
<text transform="translate(73 205.5) scale(0.945 1)" font-size="24.2" text-anchor="end" >0.6</text>
<text transform="translate(73 299.4) scale(0.945 1)" font-size="24.2" text-anchor="end" >0.4</text>
<text transform="translate(73 393.3) scale(0.945 1)" font-size="24.2" text-anchor="end" >0.2</text>
<text transform="translate(73 577.8) scale(0.945 1)" font-size="24.2" text-anchor="end" >0.3</text>
<text transform="translate(73 705.7) scale(0.945 1)" font-size="24.2" text-anchor="end" >0.2</text>
<text transform="translate(73 833.6) scale(0.945 1)" font-size="24.2" text-anchor="end" >0.1</text>
<text transform="translate(73.9 961.5) scale(0.945 1)" font-size="24.2" text-anchor="end" >0.</text>
<text transform="translate(79.2 979.8) scale(0.945 1)" font-size="24.2" text-anchor="middle" >0.</text>
<text transform="translate(300.7 979.8) scale(0.945 1)" font-size="24.2" text-anchor="middle" >10.</text>
<text transform="translate(522.2 979.8) scale(0.945 1)" font-size="24.2" text-anchor="middle" >20.</text>
<text transform="translate(743.7 979.8) scale(0.945 1)" font-size="24.2" text-anchor="middle" >30.</text>
<g clip-path="url(#c0)">
<text transform="translate(774 979.8) scale(0.945 1)" font-size="24.2" text-anchor="middle" >0.</text>
</g>
<text transform="translate(1048.5 979.8) scale(0.945 1)" font-size="24.2" text-anchor="middle" >10.</text>
<text transform="translate(1324 979.8) scale(0.945 1)" font-size="24.2" text-anchor="middle" >20.</text>
<text transform="translate(1605.3 979.8) scale(0.945 1)" font-size="24.2" text-anchor="middle" >0.2</text>
<text transform="translate(1743 979.8) scale(0.945 1)" font-size="24.2" text-anchor="middle" >0.4</text>
<text transform="translate(1880.6 979.8) scale(0.945 1)" font-size="24.2" text-anchor="middle" >0.6</text>
<text transform="translate(2018.3 979.8) scale(0.945 1)" font-size="24.2" text-anchor="middle" >0.8</text>
<text transform="translate(2155.9 979.8) scale(0.945 1)" font-size="24.2" text-anchor="middle" >1.</text>
<text transform="translate(21.2 242.3) rotate(-90) scale(0.966 1)" font-size="23.5" text-anchor="middle">relative frequency</text>
<text transform="translate(25.6 760.6) rotate(-90)" font-size="24" text-anchor="start">|<tspan font-style="italic" font-size="26" dx="3" dy="0.5">Z</tspan><tspan dx="3.8" dy="-0.5">|</tspan><tspan font-size="22.9" dx="0"> (b/c)</tspan></text>
<text transform="translate(1815.3 1017.3) scale(0.966 1)" font-size="23.5" text-anchor="middle" >relative frequency</text>
<text x="387.7" y="1018" font-size="23.5" font-style="italic"><tspan>m</tspan><tspan font-size="16" dy="4">b</tspan><tspan dy="-4">/M</tspan></text>
<g stroke="#000" stroke-width="1.3" fill="none"><circle cx="449.4" cy="1021.4" r="5.3"/><path d="M444.1 1021.4H454.7M449.4 1016.1V1026.7"/></g>
<circle cx="459.7" cy="1017.4" r="2.3" fill="#000"/>
<text x="1082.1" y="1018" font-size="23.5" font-style="italic"><tspan>m</tspan><tspan font-size="16" dy="4">c</tspan><tspan dy="-4">/M</tspan></text>
<g stroke="#000" stroke-width="1.3" fill="none"><circle cx="1143.8" cy="1021.4" r="5.3"/><path d="M1138.5 1021.4H1149.1M1143.8 1016.1V1026.7"/></g>
<circle cx="1154.1" cy="1017.4" r="2.3" fill="#000"/>
<path d="M538.3 77.4H612.4" stroke="#000" stroke-width="3" fill="none"/>
<path d="M538.3 119.5H612" stroke="#000" stroke-width="3" stroke-dasharray="4.8 4.7" fill="none"/>
<text transform="translate(624.4 85) scale(0.94 1)" font-size="24.4" text-anchor="start" >Default</text>
<text transform="translate(624.4 127.1) scale(0.94 1)" font-size="24.4" text-anchor="start" >High Mass</text>
<text transform="translate(1863.6 120.6) scale(0.99 1)" font-size="46.3" text-anchor="middle" style="stroke-width:0.45px">Kepler−127 b/c</text>
<rect x="1722" y="230.7" width="17.6" height="17.5" fill="#0000ff"/>
<text transform="translate(1753.6 247.9) scale(0.95 1)" font-size="23.9"><tspan font-style="italic">δ</tspan>t<tspan font-family="Liberation Serif" font-style="italic" font-size="14" dy="3.5">ℱ</tspan><tspan dy="-3.5" dx="5.5"> (2:1 MMR, Δ=0.018)</tspan></text>
</svg>
</body></html>
